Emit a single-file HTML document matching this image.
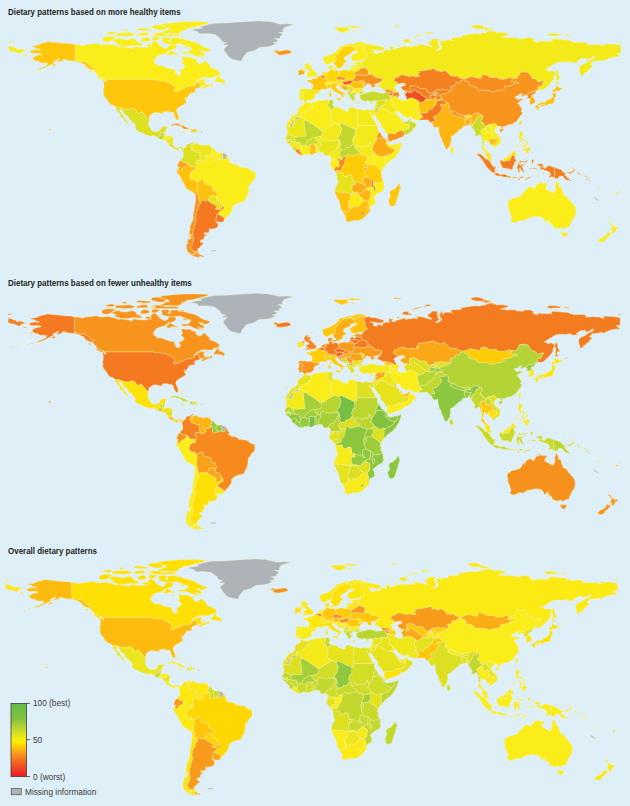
<!DOCTYPE html>
<html lang="en"><head><meta charset="utf-8"><title>Dietary patterns</title>
<style>
html,body{margin:0;padding:0}
body{width:630px;height:806px;background:#dfeff8;overflow:hidden;position:relative;font-family:"Liberation Sans",sans-serif;color:#231f20}
svg{position:absolute;left:0;top:0}
.t{position:absolute;left:8px;font-weight:bold;font-size:9px;line-height:10px;white-space:nowrap;transform-origin:0 100%;transform:scaleX(.885)}
.l{position:absolute;font-size:8.8px;line-height:10px;white-space:nowrap;color:#3a3a3c;transform-origin:0 50%;transform:scaleX(.94)}
g path{stroke:#f6f2b0;stroke-width:3.5;stroke-linejoin:round}
</style></head><body>
<svg width="630" height="806" viewBox="0 0 630 806">
<defs><linearGradient id="lg" x1="0" y1="0" x2="0" y2="1"><stop offset="0" stop-color="#62bb46"/><stop offset=".2" stop-color="#7fc241"/><stop offset=".38" stop-color="#cddb2a"/><stop offset=".52" stop-color="#fff200"/><stop offset=".62" stop-color="#fdb913"/><stop offset=".8" stop-color="#f26522"/><stop offset="1" stop-color="#ed1c24"/></linearGradient></defs>
<g transform="translate(0.0,0.0) scale(.1)">
<path fill="#faed19" d="M752 446l34 2 42 10 38-10 56-7 48-7 49 15 65-7 67 14 43 17 19-7 66 9 34 7 7 10 24-26 71 10 61 0 19-12 25 6-8-34 29-29 29 10 22 27 18 20 40 19 15 2 29-26 1-17 50 2 22 9-2 20-20 20-38 9-20 0 2 5-19 14-5 6-21 12-37 9-36 15-22 29-8 15 5 22 25 16 9 15 24-5 32 7 17 7 12 8 22 5 17 7 46 3 3 31 12 19 26 17 22-24-9-26-12-10 28-7 18-12 10-11-1-12-12-16-21-12 21-18-9-16-5-25 12-4 29 4 17 2 15-4 16 5 20 11 5 6 31 0 0 16 5 20 15 3 14 11 24-11 17-18 10-7 13 15 22 21 19 20-7 12 22 8 43 16 12 5 7 13 12 4 6 5 2 20-12 5-12 7-29 5-20 16-29 1-37-3-26 0-17 2-13 12-23 6-25 24-19 15 14-3 27-22 36-14 25-1 16 8-16 10 5 19 5 14 23 8 28-3 17-19 12 19-20 10-39 10-15 7-21 14-13-4 1-13 29-14-27 0-19 3-12-10 0-24-6-5-17 0-14 12-5 14-19 10-2 5-57 0-26 15-7 9-40 2 5 10-22 8-19 4-19 8-12-7 12-15 5-10-3-14-5-15-17-9 2-3-11-5-8-2-4-3-29-15-32-14-15 5-5 0-21-5-20-2-17-3-27-4-4-10-6 7-473 0-3-3-29-14-12-7-31-7-10-15 2-10-21-9-3-13-21-12 0-9 9-8 0-10-29-12-17-19-12-12-15-8-10-7-11-9-17 6-17 10-5-2-20-17-17-5-17 0zM1051 806l-24-3-20-12-32-14-9-12 19 0 32 12 21 14 12 8zM920 743l-20-17-14-17 22 0 0 16zM2141 820l15-26 17-27 26-15 7 2-21 25 10-2 11 4-6 5 16 5 24 2-6 11 12-3 2 9 5 10-7 15-6 2-12-4 5-13-26 12-10 0 12-9-15-3-19 0zM2052 781l28 3 18 10 0-3-30-2zM2054 835l41 5-15 7-19-7zM2044 580l-17-3-34-7-34-9-34-15-34-13-34 3-34-3 8-16 60 0 12-15 13-15-8-14-34-5-17-12-34-12-17-8-51 6-43-1-22-2-44-8-24-14 5-12-8-27 25-2 43-2 17 14-17 26 25 0-3-26 12-8 54-4 22 2 43 15 42 12 51 12 51 17 26 22 42 19 43 12 12 10-22 15-33 9-17-12-42-10 14 17 34 15 8 29-31-5-34-9 17 17 34 9zM1670 548l25 8 35-13 42 7 14-9-28-5-28-19-26-10-17 5 8 14-25 12zM1738 560l26 12-9-9zM1784 573l15 7-3-10zM1151 441l43 10 26 12 59 0 25-5 26-4 34 0 51 4 17-10-26-7 26-5-51-11-17-20-9-15-34-5-25 8-34 5-51-7-17-8-51 10-17 19 34 7 17 10-26 0zM1024 407l34 13 42-6 26-14 25-26 26-6-51 0-42-5-52 13-8 21zM1415 414l51 1 34-10 0-17-26-14-34 0-25 16zM1525 403l35 2 25-12 25-19-25-3-43-2-17 7-1 14zM1457 456l26 10 34 2 8-12-25-15-34 7zM1160 354l51 5 59 4 60-7 25-10-8-9-51-12-51 4-68 1-17 12zM1372 354l77 0 34-3 0-21-43-5-42 7-26 12zM1058 337l68 7 34-12-34-17-60 14zM1508 347l60 14 76 2 77 0 65-2 11-15-42-4-43 2-59 0-26-14-42-1-68-2 51 15zM1514 354l46 5-4-15-39 2zM1610 335l77-3 93 2 43-12 0-17 42-10 0-12 77-11 68-20 85-19-34-13-102-4-119 2-119 9-77 8-42 9 34 17 51 13 17 17-43 9-8 10-34 10zM1525 279l60 19 59 0 26-22-26-14-50-13-60 3-17 17zM1364 298l68 8 68 0 17-13-51-7-76-5zM1236 313l43-7-9-10-42 2zM1779 376l27 15 46 0-21-13zM1835 475l34 8 2-15-26 0zM1750 730l29 3-15-8z"/>
<path fill="#fec70b" d="M1058 796l473 0 6-7 4 10 27 4 17 3 20 2 21 5 5 0 15-5 32 14 29 15 4 3 8 2 11 5-2 3 17 9 5 15 3 14-5 10-12 15 12 7 19-8 19-4 22-8-5-10 40-2 7-9 26-15 57 0 2-5 19-10 5-14 14-12 17 0 6 5 0 24 12 10 0 7-32 10-20 9-9 15 10 10 2 7-10 4-22 3-17 2-14 5 29-1-32 7-5 14-12 13-5 11-12 19-2-2-5-27-4 12 4 20 5 2 7 27-22 10-19 14-20 10-17 12-16 12-5 20 2 12 12 27 8 24 0 17-5 14-12 0-10-12-7-14-10-19-2-20-15-15-12-2-17 5-15-12-15 0-14 2-26 2 7 17-5 1-12 0-20-3-17-3-26-4-15 4-5 5-26 13-11 14-4 29-29-9-7-18-13-14-19-26-19 0-10 14-24-10-8-19-26-19-28 0 0 9-50 0-63-21 2-3-41 3-3-8-19-14-13-5-24-8-12-19-10-13-2-7-9-14-8-5-14-22-10-19 4-24-6-17 7-28 2-29-2-12-10-26 27 5 10 14 2-17-7-12zM752 446l-43-9-42-1-43-4-59-7-43-3-34-6-34 9-42 9-34 15-26 9-30 0-9 9 31 4 25 17 29 2-1 12-33-5-28 3-45 14 27 17 19 2 41 0 34 1 3 14-20 2-26 6-22 9-20 17 12 17 22 12 25 0 9 15 26 3 33 0 21 2-4 21-20 11-30 14-26 9-24 10-24 5 39-5 26-5 26-9 25-13 34-16 31-15 15-10-9-12 31-15 17-9 17-3-26 29-5 5 31-7 25-7 9-14 17-3 17 7 25 8 43 2 34 5 25 10 26 12 17 4 8 12 26 20 17 19 20 5 22 1 9-8 0-10-29-12-17-19-12-12-15-8-10-7-11-9-17 6-17 10-5-2-20-17-17-5-17 0zM522 657l23 3 17-10-9-12-20 7zM313 720l17-9 16-7-14 2-15 5zM276 730l19-9-12 0zM182 743l23-3-17-2zM130 750l22-3-19-2zM230 551l29 5 20-3-28-7zM305 606l25 5-6-9zM840 645l21 29 22 13 17 5-12-15-22-22-12-12zM497 1306l19-8-5-9-12-3-2 10zM485 1274l12 3-5-5zM460 1265l8 2-5-7zM434 1255l7 2-3-5z"/>
<path fill="#dce021" d="M1158 1076l41-3-2 3 63 21 50 0 0-9 28 0 26 19 8 19 24 10 10-14 19 0 19 26 13 14 7 18 29 9-5 27-2 32 9 24 13 20 9 14 17 7 14 7 23-5 16-2 10-5 10-10 5-21 7-7 29-6 22 0 3 10-12 18-5 26-8-3-14 10-32 1 0 11 10 13-22 5-8 26-29-22-14-5-31 8-25-7-29-10-36-19-28-8-26-19-10-19 5-15-12-24-29-29-29-20 0-17-20-19-27-20-11-20-6-17-26-9-3 9 3 17 24 23 10 19 19 26 15 23 20 28-8 5-27-28-10-8-2-20-22-9-16-8 6-16-12-20-14-9-17-30z"/>
<path fill="#c2d82e" d="M1582 1381l8-26 22-5-10-13 0-11 32-1-1 34 15 3-10 7-7 15-14 10-18-1z"/>
<path fill="#ccdb29" d="M1634 1325l14-10 3 6-3 26-10 12-5 0z"/>
<path fill="#faed19" d="M1617 1394l14-10 13 9 12 0 0 10-12 2z"/>
<path fill="#faed19" d="M1631 1384l7-15 10-7 13-2 26-3 27 3 21 14-7 2-21 1-17 17-15 0-10 14-9-5 0-10-12 0z"/>
<path fill="#e9e51c" d="M1665 1408l10-14 15 0 17-17 21-1 7-2-5 26 0 18-6 17 2 9-17-4-17 0-14-12-20-18z"/>
<path fill="#e3e21d" d="M1692 1440l17 0 17 4 12 15 7 7-5 8 0 17-12-12-19-13-7 0-10-5-2-17z"/>
<path fill="#e3e21d" d="M1740 1491l0-17 5-8 7 7 13 6 17-5 14-8 18 3 19 12 4 14-12 12-9-16-3-10-19 2-12 5 7 14-15 5-14-16z"/>
<path fill="#f7941d" d="M1706 1257l15-14 20-5 24-2 14 0 22 12 37 12 26 12 24 12-2 4-22 3-36 0 10-9-17-5-10-15-25-4-28-6-6-4-22 4-9 5z"/>
<path fill="#fde30a" d="M1818 1320l8-5 16 1 12 7-12 2-12 0z"/>
<path fill="#fec20e" d="M1882 1318l19-3 19-4-9-7 0-6-10-2 10-5 19 3 2-3-2 18 0 14-12-3-18 0z"/>
<path fill="#fecd08" d="M1930 1294l15-3 14 5 14 5 8 19-15-4-16 4-8-2-7 12-5-7 0-14z"/>
<path fill="#adb3b9" d="M2007 1316l15-1 12 5-7 4-20 0z"/>
<path fill="#faed19" d="M1820 1201l11 15-5 8-10-13zM1826 1172l14 5-3 12-12-12zM1808 1177l15-2-10 5zM1896 1272l12-5-7 7zM1859 1228l10 7-5-9z"/>
<path fill="#faed19" d="M2097 1447l15-2 0 12-15 0z"/>
<path fill="#f4ea1a" d="M2100 1352l7 2-4-6zM2110 1377l5 4-3 3zM2103 1366l5 3-3 2zM2112 1393l2 3-4-2zM2134 1405l5 1-3 2z"/>
<path fill="#adb3b9" d="M1908 300l68 15 17 22 77-3 84 12 9 10 43 32 13 26 46 13-34 12 9 12 42-2-42 38 3 18 22 33 17 22 26 24 20 10 48 12 27 5 15-5 8-29 17-19 17-20 9-14 43-12 34-7 50-32 77-5 37-7 53-24-31-10 43-12 0-17-34-10 59-5 0-20 26-12-17-19-26-7 51-5-8-20 26-31 93-24-68-7-77 4-34-10-76-16-102-6-102 5-119 8-102 7-119 3-51 9-51 12-43 13 26 12-68 10z"/>
<path fill="#f7941d" d="M2732 514l34-14 26 14 42-10 38-5 27 5 19 18-22 14-48 10-39 4-46-7 12-10-34-7 34-5z"/>
<path fill="#faed19" d="M2272 1554l8 9 10 34 11 3-9 26 31 8 1 17 12-12 21 5 29 12 8 9-3 10 20-5 32 8 26 0 25 14 23 19 11 5 16 0 7 6 5 31-2 29-24 24-13 19-14 25-12 2-5 27 2 17-7 37-9 29-17 24-3 17-17 17-19 0-25 7-14 7-19 5-18 13-16 17-1 12 1 10-3 17-15 17-19 31-27 20-7 17-12 11-3-11 7-8-24-21-17-10-24-13-10 1 22-22 19-17 27-17 0-13-9-11-8 4 3-9 2-10 0-10-19 0-1-7-2-15-16-10-23 0 0-24-5-9 5-4 3-16 4-14-14-15-2-7 4-10-34 0-6-20 4-9-4-13-10-6-17-5-12-3-6-7-19-1-19-16 2-12-2-18-20 1-24 14-25 4-18 1 0-26-13 11-15 0-17-11 10 0-7-8-10-10-7-16 5-3 0-7 10-5-1-8 3-7 2-7 20-12 14-3 1-3 16 1 8-46 0-8-3-10-7-12 0-6 9-3 3-5-9-2 0-10 33 0 6-5 4 5 3 10 4-2 10 9 13-2 2-5 14-3 7-3 1-7 12-5 0-4-15-2 5-6-7-16-7-5 4 0 12 2 13 3 5-3 12-3 20-6 6-6-2-5 9 0 3 3-2 7 5 3 6 8-6 6-2 14 4 16 12 9 8 0 2-3 5 0 7-4 7-4 8 1 5-2 9 3 2-3-4-3 3-6 6 2 8-2 10 4 7 3 5-5 5 2 2 4 9-1 5-7 7-11 8-17z"/>
<path fill="#adb3b9" d="M2222 1590l7 3 5-5 5 2 2 4 9-1 5-7 7-11 8-17-2-7-18-14-19-7-9 16 2 12 7 10-3 7-2 8z"/>
<path fill="#faed19" d="M2162 1560l3-9 0-4 10-5 3-14 21 2 15-3 17 3-9 16 2 12 7 10-3 7-2 8-4 7-10-4-8 2-6-2-3 6 4 3-2 3-9-3-11-14-2-8-5 0-7-12z"/>
<path fill="#faed19" d="M2132 1486l12 7 10 12 0 8 7 0 11 9 6 6-3 14-10 5 0 4-3 9 8 13 5 0 2 8 11 14-5 2-8-1-7 4-7 4-5 0-2 3-8 0-12-9-4-16 2-14 6-6-6-8-5-3 2-7-3-3-9 0-12-13 5-4-1-9 11-3 4-2-5-7 1-7z"/>
<path fill="#ece61c" d="M1937 1428l-2 6-10-2 12 11-2 13 2 18-12 0 5-22 2-10 24-7-2-7 7-6 5 12 12 1 12 9 0 5 15 1 19-1 8 7 14 1 10-5 0-3 41-2-14 5 5 9 14 0 13 8 2 14 15 3-12 10-1 7 5 7-4 2-11 3 1 9-5 4 12 13 2 5-6 6-20 6-12 3-5 3-13-3-12-2-4 0 7 5 7 16-5 6 15 2 0 4-12 5-1 7-7 3-14 3-2 5-13 2-10-9-5-17-4-6-7-4 9-8 0-3-5-6-2-12-2-11 5-7 4-9-7-3-29 3-12-14-10-3-22 2-7-7-2-3 2-7 0-7-5-3-2-9-8-1 5-9 2-14 5-5 7-5 4-5z"/>
<path fill="#dce021" d="M1867 1632l-7-5-8-5-5 3-14-3-5-7-3 0-17-10-2-5 7-2-2-8 5-5 9-2 13-19-7-5 4-10-4-15 4-4-4-15-6-8 8-7 4-5-4-14 10 2 12-12 7-2 3-20 11-9 10 0 2-3 13 2 14-9 7-4 7-8 6 0 5 5-3 5-11 7-4 5-7 5-5 5-2 14-5 9 8 1 2 9 5 3 0 7-2 7 2 3 7 7 22-2 10 3 12 14 29-3 7 3-4 9-5 7 2 11 2 12 5 6 0 3-9 8 7 4 4 6 5 17-4 2-3-10-4-5-6 5-33 0 0 10 9 2-3 5-9 3 0 6 7 12 3 10 0 8-8 46-9-8-5-2 12-17-14-7-10 0-7-2-8 4-14-2-10-17-7-5-5-8-12-8z"/>
<path fill="#faa817" d="M1784 1687l8-12-3-9-7 9-9-8 2-5-1-15 5-3 3-10 7-12-2-7 10-3 11-7 17 10 3 0 5 7 14 3 5-3 8 5 7 5 4 12-6 12-18 17-21 7-12 15-1 11-10 7-7-7-7-4-7 2-2-6 6-4z"/>
<path fill="#fec20e" d="M1966 1928l11-18-8-14 4-7-2-6 7-7 0-28 3-5-13-28-18 1 0-26-13 11-15 0-17-11 10 0-7-8-10-10-7-16 5-3 0-7 10-5-1-8 3-7 2-7 20-12 14-3 1-3 16 1-9-8-5-2 12-17-14-7-10 0-7-2-8 4-14-2-10-17-7-5-5-8-12-8-5 2 4 12-6 12-18 17-21 7-12 15-1 11-10 7-7-7-7-4-7 2-2-6 6-4-2-7-14 10-5 12 9 17-5 7 11 7 12 11 7 12 7 9 15 34 17 30 14 22-2 6 7 13 14 12 30 19 32 17 2 7 17 8z"/>
<path fill="#fec20e" d="M2081 2003l-20 0-7 14-9-12-23-5-14 15-12 3-6-24-11-18 7-17-9-7-3-12-8-12 11-18-8-14 4-7-2-6 7-7 0-28 3-5-13-28 25-4 24-14 20-1 2 18-2 12 19 16 19 1 6 7 12 3 17 5 10 6 4 13-4 9 6 20 34 0-4 10 2 7 14 15-4 14-3 16-5 4 0-5-16-8-15-2-31 5-8 16 0 9-7 20z"/>
<path fill="#e9e51c" d="M2160 1972l5 9 0 24 23 0 16 10 2 15 1 7 19 0 0 10-2 10-3 9-4 15-15 14-14 1-18-1-17-5 17-26-4-7-17-6-20-14-14-2-32-28 7-20 0-9 8-16 31-5 15 2 16 8z"/>
<path fill="#f47920" d="M2170 2142l10-1 24 13 17 10 24 21-7 8 3 11-7 10-18 9-14-3-8 2-16-8-12 2-10-11 2-10 3-5 0-17 4-17z"/>
<path fill="#f47920" d="M2170 2142l-5 14-4 17 0 17-3 5-2 10-2 9 23 15-4 12 12 7-17 30-25 9-34 3-19-1 3 10-3 13 3 9-10 5-19 3-15-6-7 5 2 17 12 5 8-7 6 10-16 5-13 10-2 18-5 8-16 0-13 10-5 12 17 12 17 3-7 16-20 10-11 20-15 7-7 7 5 19 12 8-8 0-15-3-41-2-7-10 0-12-12 0-5-5-2-19 14-7 5-12-2-8 9-14 5-22-2-11 9-2-2-7-9-4 5-6-6-7-4-20 7-3-3-21 3-17 5-16 10-5-5-17 0-15 12-12 0-14 10-17 0-15-5-3-7-29 11-19-2-15 5-15 12-18 12-10-5-6 3-6 0-28 19-9 5-17-2-5 14-15 23 5 9 12 7-14 20 0 2 4 32 28 14 2 20 14 17 6 4 7-17 26 17 5 18 1 14-1 15-14 4-15 8-4 9 11 0 13-27 17-19 17zM1983 2523l7 9 8 12 22 11 22 4-7 8-15 1-9-6-11 0-17 0z"/>
<path fill="#f7941d" d="M1966 1928l-14 12 4 26 1 27-5 37-5 36-5 32-7 22 0 21-5 13 5 26-8 25-12 27-10 28-7 1 2 19 5 17-9 10-5 33 5 27 12-27 5 10-12-5 12 15-8 26-4 8-17-15-5 29-15 13 15 5 10 0-18 14-7 17 1 29 9 10-5 10 7 12 20 9 22 15 22 7 2-5-7 1 10-17 26-6 20-4-8 0-15-3-41-2-7-10 0-12-12 0-5-5-2-19 14-7 5-12-2-8 9-14 5-22-2-11 9-2-2-7-9-4 5-6-6-7-4-20 7-3-3-21 3-17 5-16 10-5-5-17 0-15 12-12 0-14 10-17 0-15-5-3-7-29 11-19-2-15 5-15 12-18 12-10-5-6 3-6 0-28 19-9 5-17-2-5-12 3-6-24-11-18 7-17-9-7-3-12zM1983 2523l0 39 17 0 5 7-14 5-18-2-13-5-18-2-22-9-17-10-24-19 15 3 24 12 22 7 9-9 5-12 17-6zM1886 2341l12 0 2 26-14-2z"/>
<path fill="#adb3b9" d="M2109 2510l20-10 14 4 11-6 13 7-5 6-23 5-7-6-15 8z"/>
<path fill="#faed19" d="M3234 577l-2 15 7 19 5 17 19 13 20 2 16-10 23-10 7-9 7 12 10 2 4-16 10-10-2-13 10-4-12-5-1-30 20-11 12-1 0-16 10-17 14-3 17-22 15-9 12-7 32 2 5-10 7-2 17-3 12 10 19 2 25 0 16-7 6-14 29-5 19 7-2 10 22-10 12 2-13-9 17-3-28-7-22-7-40 0-23 2-25 12-29 2-36 6-22 9-29 7-25 10-21 5 23 5-31 24-10 12-16 12-16 7-16 15-20 3-24 9-19 8zM3333 278l45 25 9 7 43 17 25-15 59-11-42-10 26-12-35-8-51 3-34-2zM3460 266l63 12 77-2 8-10-68-5zM3514 315l43-3-25-11z"/>
<path fill="#ffd206" d="M3338 628l3 10 12 14 15 18 0 16 22 1 9-13 22-2 9-14 5-15 3-12 32-15-5-10-22-9-2-17 11-17 34-15 28-14-6-13 20-9 24-2 8 0-8-11 3-7-7-9-1-8-38-17-17-2-5 10-32-2-12 7-15 9-17 22-14 3-10 17 0 16-12 1-20 11 1 30 12 5-10 4 2 13-10 10-4 16zM3457 660l12-7 5-8-12 1zM3428 674l12-19-10 10z"/>
<path fill="#faed19" d="M3499 454l17-3 12 10 19 2 25 0 16-7 6-14 29-5 19 7-2 10-8 4 7 12 20 8-15 14 17 20-7 14 15 12-10 8 25 14-3 6-39 23-20 10-31 3-26 7-27 3 0-8-25-5 3-17-8-17 6-10 18-11 35-17 14-5-2-6-19-6-8 0 0-11 3-7-7-9-1-8-38-17-17-2z"/>
<path fill="#faed19" d="M3287 684l0-21 8-5 17-1 17-9-3 19 8 3-12 9-8 12-4 6-15-1 0-9zM3334 680l26-5 5 9-12 12-17-7zM3316 686l15 0-2 6-12-1z"/>
<path fill="#faed19" d="M3052 779l24-5 14 2 8-9 19 2 15-3 22 0 12-4 7-5-14-3 7-6 12-15-20-5-6-5-5-5-5-15-12-2-8-15-9-7-17-2 7-7 10-10 5-10-25-2-14 2 17-17-32 0-10 13-9 12 9 16-2 15 15-5-3 10 3 3 21-1 10 15-2 10-22 2-5 8 10 9-20 7 19 7 20 1-10 4-12 0-15 15zM3054 699l-10-8-24 1 3 9-12 2 9 6 10 0 12 0 13-5zM3022 652l22-14-14 8zM3122 599l10 2-5 10zM3091 624l14-1-7 6z"/>
<path fill="#fbae14" d="M3042 709l-12 0-10 0-9-6 12-2-3-9-12-1-5 10-24 7 2 13 10 5-7 16-8 6 10 6 24-6 22-5 12-3 3-14-2-13z"/>
<path fill="#fec70b" d="M3118 891l11-18 1-17-1-9-17-17-11-8-27-7-5-9 24-7 29 4-5-19 12 0 3 5 20-1 19-11 5-13 16-4 5 5 6 0 17 15 11-1 15 9 3 0 5 0 9 5 24 3-9 12-2 12-5 2-8 0-12 13 1 5 8 0 5 7 0 5 5 7-7 5 5 13 9 2-2 7-15 10-33-5-25 5-2 10-20 4-19-9-7 4-31-7zM3297 905l12-7 3 14-7 13-6-3z"/>
<path fill="#f4ea1a" d="M2996 917l0-12-7-7 24-13 21 3 23 0 18 3 15-1 27 1 6 7 31 7 7-4 19 9 20-4 1 11-16 12-22 3-2 5-10 10-7 14 7 10-11 7-3 12-12 3-12 12-22 0-17 0-10 7-7 6-8-1-5-7-6-8-16-4 0-5 5-7 3-5-7-5 5-10-6-10 6-2 4-10 1-14 7-5-5-8-9 0-3 1-10 0-5-8zM3188 956l14-5 5 5-7 5zM2862 1148l13-3-8 8zM2880 1153l7-3 0 6zM2904 1151l9-10 0 9zM2914 1136l7-3-1 5z"/>
<path fill="#faed19" d="M2996 917l12-7 5 8 10 0 3-1 9 0 5 8-7 5-1 14-4 10-6 2 6 10-5 10 7 5-3 5-5 7 0 5-7 5-17-1 2-13-1-11-8-2-3-5 1-12 7-7 3-17z"/>
<path fill="#ffd803" d="M3310 697l7-3 18 10-1 7 18-3 10-5 18 6 9 5 5 11-5 3 5 7 5 8-2 6 7 11-7 2-5-2-3 4-14 3-6 4-13 3 4 6 2 8 9 3 9 7-7 8-5 2 2 12-7-2-8 0-12 4-15-2-2 5-9-5-5 2-19-6-3 4-14 0 2-12 9-12-24-3-9-5 0-7-2-4 2-12-3-17 10 0 4-6 5-16-4-6 4-4 13-1 4 5 12-9-4-7-2-9z"/>
<path fill="#fce70f" d="M3252 720l14 0 4 6-5 16-4 6-10 0 3 17-10-4-11-7-15 3-13-1 9-4 15-26z"/>
<path fill="#f68a1e" d="M3205 756l13 1 15-3 11 7 10 4-2 12-4 0-2 11-15-9-9 2-12-9-8-7-7 0-3-5z"/>
<path fill="#f68a1e" d="M3252 777l2 4 0 7-5 0-3 0 2-11z"/>
<path fill="#faed19" d="M3312 822l0 3-2 3 7 4 9 0 0 7-9 3-12-2-4 7-8 0-3-3-8 6-9 0-8-3-5-7-8 0-1-5 12-13 8 0 5-2 14 0 3-4z"/>
<path fill="#fde30a" d="M3438 811l-2 7-10 0 4 4-6 11-3 2-15 1-9 4-13-1-24-6-4-5-17 4-2 2-11-2-9 0-7-4 2-3 0-3 5-2 9 5 2-5 15 2 12-4 8 0 7 2-2-12 5-2 7-8 12 6 10-7 6-2 14 6 8-2 7 4z"/>
<path fill="#fecd08" d="M3277 879l-9-2-5-13 7-5-5-7 0-5 8 3 9 0 8-6 3 3 8 0 4-7 12 2 9-3 0-7 11 2 2-2 17-4 4 5 24 6-2 8 4 7-14-2-14 5 2 9-3 5 6 8 15 9 9 13 19 15 13 0 5 4-5 4 16 5 11 5 16 9 1 3-3 6-10-8-14-2-8 10 13 7-2 9-8 1-8 14-7 2 0-5 3-10 4-3-7-9-5-10-7-2-5-7-10-4-9-6-12-1-13-8-16-12-11-8-6-17-8-3-14-6-8 4-10 6zM3412 980l-6 13 3 5-3 9-14-7-8-2-24-8 3-9 19 1 24-1zM3288 933l17-4 11 12-2 22-9 0-6 5-7-5 0-21z"/>
<path fill="#ffd803" d="M3389 714l12-4 27-7 20-6 17 2 2 5 16 0 21 2 31 0 13 2 0 5 6 13-11 10 5 9 0 7 9 15-2 5-8 2-15 14 5 7-4-1-17-6-12 3-8-2-10 4-9-7-7 2-1 0-7 3-4 0-1 4-8-17-2-6-11-1-3 5-9-9 1 0-13-2-8-5-7-11 2-6-5-8-5-7 5-3z"/>
<path fill="#f7941d" d="M3437 803l-7-4-8 2-14-6-6 2-10 7-12-6-9-7-9-3-2-8-4-6 13-3 6-4 14-3 3-4 5 2 7-2 8 5 13 2-1 0 9 9 3-5 11 1 2 6 13 13-4 0-1 4-4 3-7 1-6 0z"/>
<path fill="#fecd08" d="M3469 788l1 0 7-2 9 7 10-4 8 2 12-3 17 6-5 5-3 7-4 2-18-5-11 5-6 2-3-2-8 3-6 0-2 4-14 2-7-2-8-4-2-7 1-1 3-4 6 0 7-1 4-3 1-4 4 0z"/>
<path fill="#f15822" d="M3424 833l6-11-4-4 10 0 2-7 8 4 7 2 14-2 2-4 6 0 8-3 3 2 6-2 11-5 18 5 4-2 8 4 2 5-10 3-9 12-10 12-14 3-10-1-13 5-6 1-15-2-12-8-5-1-3-6z"/>
<path fill="#fce70f" d="M3384 839l13 1 9-4 15-1 3-2 4 0 3 6-13 5-2 6-7 2 0 4-7 0-5-2-3 2-12 0 4-2-4-7z"/>
<path fill="#fec20e" d="M3469 849l4 7 6 5-7 5-8-3-11 0-15-2-8 0-4 3-6-3-3 6 7 8 6 6 6 5 7 4 7 7 15 7-2 2-17-5-10-6-15-5-14-12 4-2-9-7 0-7-10-1-6 6-4-5 0-6 12 0 3-2 5 2 7 0 0-4 7-2 2-6 13-5 5 1 12 8 15 2z"/>
<path fill="#faa817" d="M3472 866l7 0-5 8 8 6-2 8-5 2-2 1-6 4-2 9-15-7-7-7-7-4-6-5-6-6-7-8 3-6 6 3 4-3 8 0 15 2 11 0z"/>
<path fill="#e3e21d" d="M3504 857l10 4 2 6 9 6 7-4 3 2-3 3 2 4-4 3 2 7 8 7-7 5-3 5 2 1-2 4-9 0-5 1-13 2-5 2-4-5-3-5 3-5-6-4-6-1-7-5 5-2 2-8-8-6 5-8-7 0 7-5-6-5-4-7 13-5 10 1z"/>
<path fill="#faed19" d="M3475 890l7 5 6 1 6 4-3 5-7-2-7 9 2 5-9-7-7-4 2-2 2-9 6-4z"/>
<path fill="#ccdb29" d="M3479 917l-2-5 7-9 7 2 3 5 4 5 1 2-1 7 1 6 7 5 0 4-5 3-2 5-7 14-3-7-1-3-9-6-2-8 3-17z"/>
<path fill="#faed19" d="M3498 915l5-2 13-2 5-1 9 0 8 5 1 12-3 0-3 3-9-1-6 5-12 1-7-5-1-6 1-7z"/>
<path fill="#cfdc28" d="M3492 961l7-14 2-5 5-3 0-4 12-1 6-5 9 1 3-3 3 0 13 0 13-5 12 7 16-11 8 4-5 12-4 1-10 0-10-1-20 3 12 10-9 3-10 0-8-9-4 3 4 11 9 8-7 4 9 7 10 6 0 9-16-4 5 8-10 2 6 15-11 0-14-7-7-13-3-12-7-9zM3552 1022l8 5 14 0 14 1 8 1-2 5-25 2 0-4-21-3z"/>
<path fill="#faed19" d="M3534 878l5 6 6-1 14 3 25 0 8-3 19-5 13 6 11 2-9 7-6 12 5 10-15-2-17 5-16 11-12-7-13 5-13 0-1-12-8-5 2-4-2-1 3-5 7-5-8-7-2-7z"/>
<path fill="#fec20e" d="M3535 815l7-4 12 2 18 5 5-3 12-2 5-3 7 0 5 1 5 5 6 7 10 10 1 7-2 9 2 7 9 3 8-3 7 3 0 4-8 4-5-1-4 20-11-2-13-6-19 5-8 3-25 0-14-3-6 1-5-6-2-4 3-3-3-2-7 4-9-6-2-6-10-4-12-12 14-3 10-12 9-12z"/>
<path fill="#fec20e" d="M3601 810l15-6 13 6 7 1 8 5-1 6 6 2 3 7 5 4-1 4 3 1-4 1-10-1-2-1-3 1 0 3-4 5-3 6-5 2-2-7 2-9-1-7-10-10-6-7-5-5z"/>
<path fill="#f7911d" d="M3690 743l6 1 4-4 5 2 18-2 11 8-5 4 1 6 14 1 7 6-1 4 21 7 14-4 10 9 10 0 25 5 0 5-6 8 3 11-3 5-15 1-10 5-1 7-13 2-11 5-16 1-15 6 1 11 8 4 18-1-4 6-18 4-23 8-10-3 3-8-16-4 1-3 17-6-5-5-27-3 0-7-16 2-6 9-14 13-7-3-8 3-9-3 5-2 3-6 4-5 0-3 3-1 2 1 10 1 4-1-3-1 1-4-5-4-3-7-6-2 1-6-8-5-7-1-13-6-15 6-7 0-5 3-12 2-5 3-18-5-12-2-7 4-2-5-8-4 3-7 5-5 4 1-5-7 15-14 8-2 2-5-9-15 9 0 10-5 12 0 17 1 20 4 12 0 7 3 7-3 4 3 16 0 7-7 5-4 7-1z"/>
<path fill="#f89b1b" d="M3548 713l17 0 17-7 6-9 13-6-1-7 10-4 18-6 17 5 4 3 8-2 17 5 1 7-3 5 11 11 7 4-2 2 12 4 5 4-7 4-14-1-3 2 4 6 5 10-9 0-7 1-5 4-7 7-16 0-4-3-7 3-7-3-12 0-20-4-17-1-12 0-10 5-9 0 0-7-5-9 11-10z"/>
<path fill="#faed19" d="M3535 706l-1-5 2-5-8-2-17-3-4-15 19-4 29 0 17-2 2 4 8 1 18 9 1 7-13 6-6 9-17 7-17 0 0-5z"/>
<path fill="#faed19" d="M3507 676l1-13 8-10 16-6 13 13 14-1 3-13 15-2 7 2 16 6 13 0 9 5 1 7 5 10-18 6-10 4-18-9-8-1-2-4-17 2-29 0z"/>
<path fill="#faed19" d="M3545 633l13-7 9-8 22-2 18 2 18 0 2 3-12 10 5 15-7 6-13 0-16-6-7-2-15 2 2-10-6 2-11 2zM3520 638l12-7 13 3-12 7z"/>
<path fill="#faed19" d="M3698 1032l10-5 14 0 15-5-10 11-2 1-15 7-8-2z"/>
<path fill="#faed19" d="M3392 1017l5 2-2 1z"/>
<path fill="#faed19" d="M3061 1021l10 7 16-1 18 4 7 0 7 11 1 10 5 18 5 4-3 7-23 2-7 7-10 1-1 13-20 6-6 9-14 5-17 2-27 13 0 20-3 0 1 9-11 0-6 4-7 0-6-2-15 2-5 13-6 1-8 22-23 18-6 24-7 7-2 7-38 1 1-8 6-5 6-9-2-5 6-12 10-11 5-3 5-10 0-9 7-10 11-7 11-17 8-7 16-2 14-11 8-5 14-14-4-21 7-15 2-9 11-11 17-8 13-7 11-18 5-10z"/>
<path fill="#faed19" d="M3002 1159l0 1-1 3 0 26-55-1 0 44-16 1-4 9 3 24-66 0-4 6 1-7 38-1 2-7 7-7 6-24 23-18 8-22 6-1 5-13 15-2 6 2 7 0 6-4 11 0-1-9z"/>
<path fill="#faed19" d="M3353 1230l-58 32-49 34-24 7-19 2 0-11-8-3-11-4-4-8-57-37-58-37-64-42 1-3 0-1 0-20 27-13 17-2 14-5 6-9 20-6 1-13 10-1 7-7 23-2 3-7-5-4-5-18-1-10-7-11 16-9 19-3 11-7 16-5 29-3 28-2 8 3 16-7 19 0 7 4 11-1-3 9 2 16-4 14-10 9 1 13 14 10 0 4 11 7 7 31 6 15 1 8-3 14 1 7-2 10 1 10-7 7 10 13 1 7 6 10 8-4 14 8z"/>
<path fill="#c2d82e" d="M3310 1114l-7-31-11-7 0-4-14-10-1-13 10-9 4-14-2-16 3-9 19-7 12 2-1 9 15-7 1 4-9 8 0 8 6 4-2 15-11 8 3 10 9 0 4 8 6 3-1 13-8 5-5 5-12 7 2 7-2 7z"/>
<path fill="#f7ec1a" d="M3401 1240l-12 7-9-10-27-7-7-11-14-8-8 4-6-10-1-7-10-13 7-7-1-10 2-10-1-7 3-14-1-8-6-15 8-4 2-7-2-7 12-7 5-5 8-5 1-13 20 6 7-2 15 3 22 7 8 16 15 3 24 7 19 8 8-4 8-8-4-13 5-8 12-8 12-2 23 3 6 8 6 0 6 3 17 2 4 5-6 8 2 8-4 10 5 14 0 60 0 63 0 34-20 0 0 7-68-32-67-33z"/>
<path fill="#f4ea1a" d="M3776 1255l-68 0-66 0-68 0 0-63 0-60-5-14 4-10-2-8 6-8 23 0 16 5 17 4 7 3 14-5 7-5 15-2 12 3 4 8 4-5 14 4 13 1 9-5 11 30-5 6-4 13-4 9-4 3-6-5-8-8-12-24-2 1 7 18 11 17 13 27 6 9 6 9 15 19-4 3 1 11 20 16z"/>
<path fill="#ece61c" d="M2859 1272l4-6 66 0-3-24 4-9 16-1 0-44 55 1 0-26 64 42-26 0 9 73 8 73 3 3-4 12-68 0-3 4-7-2-9 4-12-5-5 0-3 10-6 3-11-11-10-13-12-4-8-5-9 0-9 4-8-2-6 6-1-9 4-9 2-16-1-17-2-8 1-9-4-8z"/>
<path fill="#c2d82e" d="M2942 1380l6-3 3-10 5 0 12 5 9-4 7 2 3-4 68 0 4-12-3-3-8-73-9-73 26 0 58 37 57 37 4 8 11 4 8 3 0 11 19-2 0 40-10 11-1 10-15 3-23 2-7 6-11 0-11 0-4-3-9 3-16 6-3 6-13 7-3 5-7 3-8-2-5 4-2 12-14 14 1 6-5 7 1 10-7 2-4 2-3-7-4 2-3 0-3 5-14-1-4-2-3 1-5-4 1-5-2-2-4 1 1-5 4-5-7-7-2-5-4-3-4-1-4 3-5 2-5 4-7-2-5-4-3-1-4 3-3 0-1-6 1-6-1-6-7-5-3-10z"/>
<path fill="#dce021" d="M2865 1398l-7-13-9-6 8-4 8-12 4-8 6-6 8 2 9-4 9 0 8 5 12 4 10 13 11 11 1 11 3 10 7 5 1 6-1 6-2 0-9-1-2 2-4 0-12-4-8 0-31-1-5 2-6 0-9 3-2-14 15 1 4-3 3 0 7-4 7 4 7 0 8-4-4-4-5 2-6 0-6-4-6 0-4 4z"/>
<path fill="#dce021" d="M2863 1405l2-7 18-1 4-4 6 0 6 4 6 0 5-2 4 4-8 4-7 0-7-4-7 4-3 0-4 3z"/>
<path fill="#ccdb29" d="M2892 1441l-9-7-8-1-3-5 0-2-5-4-2-3 9-3 6 0 5-2 31 1 0 6-2 2 1 5-2 2-4 0-4 3-6 0z"/>
<path fill="#f4ea1a" d="M3006 1498l-5 0-4 7-5 0-3-4 1-7-7-10-4 2-4 0-5 1 1-6-3-5 0-5-3-7-5-6-14 0-4 3-4 1-3 3-2 5-9 8-8-10-6-7-5-2-4-4-2-7-2-4-5-3 7-8 6 0 4-3 4 0 2-2-1-5 2-2 0-6 8 0 12 4 4 0 2-2 9 1 2 0 1 6 3 0 4-3 3 1 5 4 7 2 5-4 5-2 4-3 4 1 4 3 2 5 7 7-4 5-1 5 4-1 2 2-1 5 5 4-3 2-1 6 4 7 4 13-6 2-2 3 1 3-1 7z"/>
<path fill="#dce021" d="M2955 1514l-5-2-12-6-9-10-3-6-2-12 9-8 2-5 3-3 4-1 4-3 14 0 5 6 3 7 0 5 3 5-1 6 5-1-8 8-8 9 0 5z"/>
<path fill="#f68a1e" d="M3018 1555l-4 0-18-8-15-13-15-9-11-11 4-6 0-5 8-9 8-8 4 0 4-2 7 10-1 7 3 4 5 0 4-7 5 0-1 5 1 9-3 7 5 5 5 1 7 7 1 7-2 2z"/>
<path fill="#faed19" d="M3100 1544l-7 0-12-3-11 0-20 3-12 5-17 6-3 0 1-14 2-2-1-7-7-7-5-1-5-5 3-7-1-9 1-5 2 0 1-7-1-3 2-3 6-2-4-13-4-7 1-6 3-2 3-1 4 2 14 1 3-5 3 0 4-2 3 7 4-2 7-2 8 3 3 6 7 4 6-5 8 0 12 4 4 24-7 15-4 19 7 14z"/>
<path fill="#c8da2b" d="M3101 1465l-12-4-8 0-6 5-7-4-3-6-8-3-1-10 5-7-1-6 14-14 2-12 5-4 8 2 7-3 3-5 13-7 3-6 16-6 9-3 4 3 11 0-1 9 2 7 10 11 0 9 20 3 0 12-4 5-8 2-4 7-6 2-15 0-7-2-6 3-7-1-30 1 0 9z"/>
<path fill="#fec20e" d="M3167 1528l-27 10-9 6-15 5-16-5 1-7-7-14 4-19 7-15-4-24-2-13 0-9 30-1 7 1 6-3 7 2-1 5 7 9 0 12 2 13 4 7-4 15 2 9 4 10z"/>
<path fill="#faed19" d="M3181 1525l-14 3-4-6-4-10-2-9 4-15-4-7-2-13 0-12-7-9 1-5 15 0-2 9 5 5 6 6 1 8 3 4 0 39z"/>
<path fill="#ece61c" d="M3195 1523l-14 2-4-12 0-39-3-4-1-8-6-6-5-5 2-9 6-2 4-7 8-2 4-5 5-5 6 0 13 10 0 5 4 11-4 6 2 5-8 11-6 5-3 10 1 11z"/>
<path fill="#f4ea1a" d="M3401 1240l5 27 6 4 0 6 7 5-3 8-7 34-1 22-22 16-7 23 7 6 0 11 11 0-2 8-4 1-1 6-3 0-12-19-4 0-13 9-13-5-9-1-5 3-10-1-10 8-9 0-20-9-8 4-9 0-6-6-18-7-18 2-4 4-3 10-4 7-2 15-13-10-6 0-5 5 0-12-20-3 0-9-10-11-2-7 1-9 11 0 7-6 23-2 15-3 1-10 10-11 0-40 24-7 49-34 58-32 27 7 9 10z"/>
<path fill="#e9e51c" d="M3195 1523l1-28-1-11 3-10 6-5 8-11-2-5 4-6-4-11 0-5 2-15 4-7 3-10 4-4 18-2 18 7 6 6 9 0 8-4 20 9 9 0 10-8 10 1 5-3 9 1 13 5 13-9 4 0 12 19 3 0 7 6-2 4-1 5-14 13-5 11-2 9-4 4-3 12-9 7-3 8-4 7-1 7-12 6-9-7-7 0-10 10-5 1-8 16-5 12-17 6-7-1-6 4-14 0-9-11-5-12-12-12-13 1z"/>
<path fill="#c2d82e" d="M3395 1410l2-8-11 0 0-11-7-6 7-23 22-16 1-22 7-34 3-8-7-5 0-6-6-4-5-27 18-9 67 33 68 32 1 68-15-2-7 13-5 10 4 4-6 6 2 7-4 7-2 6 6-1 4 7 0 9 6 6 0 4-11 3-9 6-12 19-16 8-16-1-5 1 1 6-8 6-8 7-21 6-4-3-3-1-3 5-14 1 2-5-5-11-2-8-8-2-10-10 4-8 8 1 4-1 10 0-9-15 0-12-1-11z"/>
<path fill="#f4ea1a" d="M3371 1590l-2 0-10 2-10-3-8 2-28-1 3-13-7-11-8-3-3-8-5-3 0-4 5-12 8-16 5-1 10-10 7 0 9 7 12-6 1-7 4-7 3-8 9-7 3-12 4-4 2-9 5-11 14-13 1-5 2-4-7-6 1-6 4-1 7 11 1 11 0 12 9 15-10 0-4 1-8-1-4 8 10 10 8 2 2 8 5 11-2 5-9 17-4 3-1 13 2 7-2 6 8 8 2 7 6 8 8 6 0 7 2 5-1 10-13-4-14-5z"/>
<path fill="#c2d82e" d="M3409 1503l14-1 3-5 3 1 4 3 21-6 8-7 8-6-1-6 5-1 16 1 16-8 12-19 9-6 11-3 2 7 9 10 1 7-3 7 1 6 6 5 13 7 9 7 0 6 12 8 7 8 4 10 13 7 2 5-5 2-11-1-13-1-6 1-3 4-5 1-7-4-19 9-8-2-2 1-5 10-13-3-12-1-11-7-14-6-9 6-7 9-1 12-11-2-12-2-10 9-9 15-2-5 0-7-8-6-6-8-2-7-8-8 2-6-2-7 1-13 4-3z"/>
<path fill="#faed19" d="M3313 1590l28 1 0 20-25 0-6 1-3-3zM3293 1570l7-4-3 7z"/>
<path fill="#faed19" d="M3338 1697l-18-18-11-14-10-17 0-6 4-5 4-13 3-12 6-1 25 0 0-20 8-2 10 3 10-2 2 0-1 8 5 9 13-2 4 4-8 19 8 10 2 14-2 11-5 8-15-1-9-8-1 8-12 2-6 4 7 11z"/>
<path fill="#f68a1e" d="M3370 1710l-6-6-6 3-7 8-13-18 13-10-7-11 6-4 12-2 1-8 9 8 15 1 5-8 2-11-2-14-8-10 8-19-4-4-13 2-5-9 1-8 22 1 14 5 13 4 1-10 9-15 10-9 12 2 11 2-1 10-5 9-4 10-2 15 1 10-3 6 0 6-2 6-11 8-8 9-8 16 1 14-4 6-10 8-10 10-6-3-2-4-9 0-6 6z"/>
<path fill="#fecd08" d="M3673 1569l-1 20 7 3-6 6-6 4-6 9-4 8-1 14-4 6 0 13-5 5-1 10-2 1-2 9 5 8 1 21 3 15-2 9 4 10 9 9 10 22-7-2-23 3-5 2-4 11 3 7-3 20-2 17 5 3 12 7 5-3 1 18-13 0-7-9-6-7-13-3-4-9-11 6-13-3-6-7-11-2-8 0-1-5-6 0-7-1-11 2-7 0-4 1 1-20-6-6-1-11 2-10-3-6-1-11-20 0 1-6-8 0-1 3-11 1-4 10-3 4-9-3-6 3-11 1-6-9-4-5-5-10-4-13-51 0-6 2-4-1-8 3-2-6 4-1 1-8 3-4 6-4 4 2 6-6 9 0 2 4 6 3 10-10 10-8 4-6-1-14 8-16 8-9 11-8 2-6 0-6 3-6-1-10 2-15 4-10 5-9 1-10 1-12 7-9 9-6 14 6 11 7 12 1 13 3 5-10 2-1 8 2 19-9 7 4 5-1 3-4 6-1 13 1 11 1 5-2 11 14 7 2 5-3 8 1 9-3 4 7z"/>
<path fill="#e6e31c" d="M3427 1729l4 13 5 10 4 5 6 9 11-1 6-3 9 3 3-4 4-10 11-1 1-3 8 0-1 6 20 0 1 11 3 6-2 10 1 11 6 6-1 20 4-1 7 0 11-2 7 1 2 5-2 8 3 8-2 7 1 5-35 0-1 54 12 14 11 11-32 7-41-3-12-8-68 1-3 1-10-8-11 0-10 3-9 3-1-11 2-15 6-15 1-7 6-16 4-7 9-11 6-7 2-13-1-10-5-6-5-10-4-10 1-4 5-6-5-17-4-11-8-11 1-3 8-3 4 1 6-2zM3360 1726l-4 1-5-12 7-8 6-3 6 6-6 4-3 4z"/>
<path fill="#f4ea1a" d="M3726 1468l-2 0 0-9-2-6-8-6-2-12 2-13-8-1-1 4-11 1 4 4 2 11-10 9-8 12-9 2-14-10-6 4-2 5-9 3-1 3-17 0-2-3-12-1-6 3-5-1-9-10-3-5-12 2-4 8-5 15-6 4-5 1-1 0-6-5-1-6 3-7-1-7-9-10-2-7 0-4-6-6 0-9-4-7-6 1 2-6 4-7-2-7 6-6-4-4 5-10 7-13 15 2-1-68 0-7 20 0 0-34 68 0 66 0 68 0 5 17-4 3 3 17 6 21 7 4 9 6-9 10-12 3-6 5-1 11-8 25 2 7-2 14-7 17-11 9-7 13-2 7-8 4-5 18z"/>
<path fill="#f4ea1a" d="M3673 1569l-15-11-4-7-9 3-8-1-5 3-7-2-11-14-2-5-13-7-4-10-7-8-12-8 0-6-9-7-12-7 5-1 6-4 5-15 4-8 12-2 3 5 9 10 5 1 6-3 12 1 2 3 17 0 1-3 9-3 2-5 6-4 14 10 9-2 8-12 10-9-2-11-4-4 11-1 1-4 8 1-2 13 2 12 8 6 2 6 0 9 2 0 1 13-3 6-9 0-6 10 11 1 8 8 3 7 8 4 10 18-11 12-11 10-10 8-12 0-14 3-11-3z"/>
<path fill="#f7941d" d="M3869 1416l-6-6-7-10-7-5-5-6-14-7-12 0-4-4-10 4-11-7-5 12-20-3-2-7 8-25 1-11 6-5 12-3 9-10 10 20 5 15 9 9 23 16 9 9 10 10 5 6 8 5-5 4z"/>
<path fill="#ffdd00" d="M3881 1413l4 5 0 8-10 3 8 5-7 9-4-3-4 1-9 0 0-5-2-5 6-8 6-7 7 1z"/>
<path fill="#fbae14" d="M3793 1375l11 7 10-4 4 4 12 0 14 7 5 6 7 5 7 10 6 6-6 7-6 8 2 5 0 5 9 0 4-1 4 3-3 6 6 10 6 8 7 6 55 20 14 0-48 51-22 1-15 12-11 0-4 5-12 0-7-5-16 7-4 7-12-1-4-3-4 1-5 0-21-15-12 0-6-5 0-10-9-3-10-18-8-4-3-7-8-8-11-1 6-10 9 0 3-6-1-15 5-18 8-4 2-7 7-13 11-9 7-17 2-14 20 3z"/>
<path fill="#faed19" d="M3994 1432l9-2 8-5 7 0 0 4-1 10 0 9-4 6-5 19-8 19-10 21-15 25-14 19-20 23-17 14-26 17-16 13-18 21-4 9-4 4-10-14 0-62 15-20 4-5 11 0 15-12 22-1 48-51 12-14 8-11 0-8 0-18 0-7-10 1-14 4-15 5-18 2-17 5-8-1-8-7-3-7-5-3-7 9-3 6 6 10 6 8 7 6 55 20 14 0 12-14 8-11 0-33z"/>
<path fill="#faed19" d="M3846 1644l10 14-12 6-4 8-7 1-2 12-5 7-4 11-7 6-24-17-1-10-62-35-3-2 0-18 5-7 8-11 7-12-8-20-2-9-8-11 11-10 11-12 9 3 0 10 6 5 12 0 21 15 5 0 4-1 4 3 12 1 4-7 16-7 7 5 12 0-15 20z"/>
<path fill="#faed19" d="M3691 1647l-19-1-6 2-10 5-4-1 0-13 4-6 1-14 4-8 6-9 6-4 6-6-7-3 1-20 7-4 11 3 14-3 12 0 10-8 8 11 2 9 8 20-7 12-8 11-5 7 0 18z"/>
<path fill="#f9a119" d="M3666 1648l7 10-1 10-5 2-9-1-5 10-11-2 2-9 2-1 1-10 5-5 4 1z"/>
<path fill="#f9a119" d="M3667 1670l1 7 4 4 0 5-4 4-7 9-6 6-7 1-1-21-5-8 11 2 5-10z"/>
<path fill="#fecd08" d="M3725 1645l3 2 62 35 1 10 24 17-7 20 1 10 10 6 1 5-5 10 1 5-1 8 6 11 7 17 6 3-13 10-19 7-10 0-6 5-12 0-4 2-21-5-12 2-5-23-6-8-3-5-17-3-10-5-10-3-7-3-7-4-10-22-9-9-4-10 2-9-3-15 7-1 6-6 7-9 4-4 0-5-4-4-1-7 5-2 1-10-7-10 6-2 19 1zM3815 1726l5 8-3 6zM3824 1712l3 5-3 4z"/>
<path fill="#fbae14" d="M3706 1786l8 8 4 14-3 5-3 13 3 14-5 6-5 16 9 4-52 15 2 12-13 2-10 7-2 6-6 1-15 14-9 11-6 0-6-2-19-1-3-2 0-1-6-4-11-1-14 4-11-11-12-14 1-54 35 0-1-5 2-7-3-8 2-8-2-5 6 0 1 5 8 0 11 2 6 7 13 3 11-6 4 9 13 3 6 7 7 9 13 0-1-18-5 3-12-7-5-3 2-17 3-20-3-7 4-11 5-2 23-3 7 2 7 4 7 3 10 3z"/>
<path fill="#f47c20" d="M3737 1825l-5 13 5 22 5 0 7 5 7 12 1 22-7 4-5 12-12-11-1-12 4-8-1-7-7-4-5 2-9-9-9-4 5-16 5-6-3-14 3-13 3-5-4-14-8-8 17 3 3 5 6 8z"/>
<path fill="#faed19" d="M3737 1825l12-2 21 5 4-2 12 0 6-5 10 0 19-7 13-10 3 8-1 17 3 15 0 26 3 9-5 12-6 12-11 10-16 7-19 8-19 18-7 3-12 12-7 4-1 13 8 12 3 10 1 5 3 0-1 16-3 8 4 3-2 7-7 6-14 6-21 9-7 6 1 8 5 1-2 9-13-1-1-7-3-8-1-6 3-19-5-12-8-24 18-19 5-12 2-2 2-10-3-5 1-13 3-11 0-22-8-5-9-2-3-4-8-3-14 0-1-6-2-12 52-15 9 9 5-2 7 4 1 7-4 8 1 12 12 11 5-12 7-4-1-22-7-12-7-5-5 0-5-22z"/>
<path fill="#fcb512" d="M3679 2007l-9-1-6 2-8-3-7 0-11-8-13-3-5-11 0-5-7-2-19-19-6-10-3-3-7-13 19 1 6 2 6 0 9-11 15-14 6-1 2-6 10-7 13-2 1 6 14 0 8 3 3 4 9 2 8 5 0 22-3 11-1 13 3 5-2 10-2 2-5 12z"/>
<path fill="#fbea14" d="M3649 2005l-24 12-15 13-6 11-5 7-9 1-3 8-2 5-10 4-14-1-9-4-7-2-8 3-4 9-8 5-9 7-12 2-4-6 2-10-10-16-5-3 0-50 17 0 0-61 13 0 26-6 7 7 11-7 5 0 9-4 3 2 7 13 3 3 6 10 19 19 7 2 0 5 5 11 13 3z"/>
<path fill="#fec20e" d="M3427 2115l-13-13-6-22-4-19-4-24-6-3 0-20-3-9-6-7-9-14-9-21-10-19-9-21 9-3 10-3 11 0 10 8 3-1 68-1 12 8 41 3 32-7 14-4 11 1 6 4 0 1-9 4-5 0-11 7-7-7-26 6-13 0 0 61-17 0 0 50 0 63-15 8-9 2-11-3-7-2-3-7-7-5z"/>
<path fill="#fec20e" d="M3685 2126l-3 3-8 8-4 9-10 12-19 18-12 10-13 8-18 6-9 1-2 5-10-2-8 3-19-4-10 3-7-1-18 6-14 3-11 7-7 0-8-6-5-1-8-7-1 2-2-4 0-10-5-12 5-3 0-13-11-16-9-14-12-22 8-9 7 5 3 7 7 2 11 3 9-2 15-8 0-63 5 3 10 16-2 10 4 6 12-2 9-7 8-5 4-9 8-3 7 2 9 4 14 1 10-4 2-5 3-8 9-1 5-7 6-11 15-13 24-12 7 0 8 3 6-2 9 1 8 24 5 12-3 19 1 6-8-3-5 1-2 5-4 7 0 6 10 9 10-2 3-8 13 1-4 12-2 14-5 8z"/>
<path fill="#f68a1e" d="M3642 2121l6 5-6 9-3 5-9 3-3 5-6 2-13-13 9-11 9-7 8-3z"/>
<path fill="#fec20e" d="M3694 2083l-3 8-10 2-10-9 0-6 4-7 2-5 5-1 8 3 3 8z"/>
<path fill="#fec70b" d="M3991 1841l5 7 4 12 3 20 4 8-2 8-3 5-5-10-4 5 4 13-2 7-5 4-1 14-6 20-9 24-10 32-7 23-7 20-14 4-15 7-10-4-13-6-5-9-1-15-6-14-2-12 3-12 8-3 0-6 8-13 2-11-4-8-3-10-2-16 6-10 3-10 8-1 9-4 7-3 7 0 10-9 14-11 5-8-2-8 7 2 9-11 1-11 5-7z"/>
<path fill="#faed19" d="M3885 1823l3 8-5-1zM3902 1835l3 5-5-2z"/>
<path fill="#faed19" d="M2746 1372l5 2-3 2zM2721 1340l5-2-4 5z"/>
<path fill="#faed19" d="M3260 1624l3-2-2 5z"/>
<path fill="#faed19" d="M4125 1971l5 1-4 6z"/>
<path fill="#f4ea1a" d="M3674 446l19-5 25 10 43 3 77 22 10 17-19 9-27 5-75-12-17 2 31 12 1 25 36 9 3-9-11-7 11-5 41 9 16-4-12-11 39-17 15 1 17 5 8-12-13-10 8-10-13-10 47 7 11 8-21 2 0 10 12 5 27-3 4-10 95-24 13 1-17 11 21 1 12-5 32-2 26-6 18 10 21-10-19-10 10-7 49 7 24 5 62 18 11-8-17-9-1-5-21-1 7-7-10-14 0-5 31-15 11-16 12-3 46 3 4 11-17 13 12 5 5 12-4 24 19 10-9 12-32 24 19 2 7-5 18-6 5-8 15-9-9-8 6-12-18-2-4-8 14-17-22-14 30-12-3-12 8 0 9 9-7 17 19 2-9-12 29-7 35 0 31 9-15-14-1-18 29-3 41 0 37-1-14-10 20-11 19 0 34-8 44-4 5-4 46-1 14 4 37-10 33 1 3-8 17-7 41-7 29 5-24 5 39 2 3 9 17-4 50 0 37 9 14 6-4 9-18 4-45 10-13 5 20 2 26 4 15-3 8 12 8-5 28-3 55 3 3 8 71 3 2-13 36 2 27 0 27 9 8 11-10 7 21 14 27 6 16-17 28 7 29-4 32 5 12-4 29 2-12-16 23-7 152 11 15 10 44 13 69-4 34 3 14 7-2 13 20 5 24-3 30-2 31 4 33-2 30 15 21-5-14-11 8-8 53 5 36-1 49 8 24 8 0 67 0 1-22 8-22-2 15 9 10 14 9 4 1 7-5 5-30-4-48 12-15 3-26 12-25 10-7 8-24-12-44 13-8-6-16 8-24-3-5 12-20 16 1 7 19 4-2 24-16 1-7 14 7 7-29 9-7 20-26 4-5 17-23 16-7-12-7-25-10-38 8-23 15-11 1-7 27-4 30-21 29-18 31-13 14-24-22 1-10 14-43 19-14-21-44 6-43 28 15 11-38 4-26 2 1-12-26-3-23 8-51-3-56 5-55 33-65 41 27 2 8 10 17 4 11-8 18 1 25 18 0 15-13 17-1 20-8 27-26 25-6 12-56 49-23 10-11 0-10-8-23 13-3 5-2-3 0-8 8-1 3-20-5-14 15-6 21 3 11-17 6-19 7-6 9-15-29 5-14 7-26 0-7-16-20-12-30-6-6-17-6-10-6-7-11-17-15-7-25-5-23 1-21 3-14 8 9 4 0 10-9 5-15 18 0 8-24 10-20-6-21 1-9-5-10-2-25 12-22 3-16 4-21-3-16 0-10-8-17-9-17-2-21 2-16 3-25-7-3-12-20-5-15-2-19-7-18 18 7 10-17 12-24-5-17 0-11-8-18 0-15-6-26 8-32 15-18 3-7 1-9-10-22 2-7-7-12-3-8-10-10-3-24 4-23-10-9 9-38-43-22-13 6-5-43 16-16 1 2-10-22-5-18 4-5-18-31-4-15 8-43 6-8 4-64 6-7 6 12 11-16 5 3 4-17 9 28 11-4 8-24 0-5 5-22-9-27 0-18 7-20-7-37-11-27 0-35 19-2 12-18-10-13 19 5 3-10 13 14 12 13-1 11 12-2 8 9 3-8 10-16 3-17 18 15 16-2 11 19 20-10 7-3 4-8-1-11-10-5-1-11-4-5-7-16-3-10 3-3-4-23-8-25-2-15-3-2 2-21-15-20-6-14-10 12-3 14-14-10-7 26-7-1-3-15 2 0-7 9-5 17-1 2-6-4-9 7-9 0-5-25-6-10 0-10-7-13 2-22-6 0-3-6-8-13 0-2-6 5-3-11-10-18 2-5-1-4 4-7-1-4-11-4-5 3-2 14 1 7-4-5-5-12-2 1-3-7-4-10-11 3-4-1-8-17-4-9 2-2-5-18-4-5-10-2-8-8-4 7-5-5-16 12-10-2-3 19-10-18-7 37-22 15-10 7-9-25-11 6-11-15-13 12-15-20-19 16-13-26-11 2-12 14-2 29-7zM3483 704l4-8 24-5 17 3 8 2-2 5 1 4-31 1zM89 457l42 13 44 17-1 10 11 4-4-12 46 3 34 15-17 8-28 2-1 16-6 4-16-1-13-6-23-5-4-7-17-3-19 2-9-6 3-6-20 4-2 15zM5563 704l15 4 5 23 2 21 22 44-24-5-10 24 15 18 0 12-12-11-11 14-4-15 2-16-2-19 4-13 1-22-10-17 2-23zM4024 407l18 15 20 3 32 2 32 0-10-12-22-1-3-16 10-10 25-14 18-8 25-12 27-5 50-7 28-19 34-1 11 7-11 5-61 8-61 17-39 12-37 12-16 8-36 2zM4779 248l34 8 39 16-5 16-36 2-48-5-28-6-13-12-23-3 45-12zM4850 273l67 22 19 3-97 7 10-17zM4871 283l26-2 44 10-41-5zM5509 335l45 0 62 9-14 13-63 0-28 4-34-11 9-12zM5633 351l35-3 43 5-19 6-27-2zM5527 381l38 4 25 0-2-5-58 3zM5665 348l43 4zM6187 420l22-6 0 11-19 1zM89 414l41 3-1 3-18 4-22 1zM3931 261l68 8 25-12-45 7-2-9-21-1zM3911 259l47 8zM3970 453l20 6 12-6-20-5zM4147 434l31 7-16-10zM5799 774l4-8-12 6zM5747 825l5-3-21 11zM5663 857l31-8-48 24zM5622 884l19-10-12 4z"/>
<path fill="#f5801f" d="M4634 792l-9-10-22 2-7-7-12-3-8-10-10-3-24 4-23-10-9 9-38-43-22-13 6-5-43 16-16 1 2-10-22-5-18 4-5-18-31-4-15 8-43 6-8 4-64 6-7 6 12 11-16 5 3 4-17 9 28 11-4 8-24 0-5 5-22-9-27 0-18 7-20-7-37-11-27 0-35 19-2 12-18-10-13 19 5 3-10 13 14 12 13-1 11 12-2 8 9 3 16-3 19-8 15 4 17 0 3 10-3 17-15-3-15 3 0 12-17-1 1 5 9 4 8 16 20 6 3 6-4 11 1 0 26-9 12 4 12 14 8-1 0-63 44-10 43 20 16 16 20-3 29-1 21 12-2 17 9 0 3 14 22 1 4 8 7 0 7-12 23-12 9-4 4-7 42-7-3 10 13-13 24 7 34-1 25 1 9 6 10 3-1-10 12-4-16-30 34-6 9-4 12-31 34 6 9-8 1-17 14-1z"/>
<path fill="#f5801f" d="M4100 927l0-63 44-10 43 20 16 16 20-3 29-1 21 12-2 17 9 0 3 14 22 1 4 8 7 0 7-12 23-12 9-4 5 2-14 11 13 7 12-5 20 9-22 12-13-1-7 0-2-4 3-8-22 4-6 10-8 10-14-1-5 8 13 4 4 12-10 18-13-4-9 0 0-10-22-8-18-8-11-8-20-12-8-17-6-4-18 1-7-3-1-14-23-9-15 10-14 6 3 9z"/>
<path fill="#f04e23" d="M4042 919l-1 0 6 11 2-13 13-4 5 10-5 11-13 0-4 14 11 1-4 12 13 6-2 18 3 12 15-4 12-9 11 0 8-3 12 1 18 9 14 2 19 15 13 1 2 14 17 6 13-2 3-8 14-2 9-5 4-14 14-3 3-6 8 4 5 1 0-10-22-8-18-8-11-8-20-12-8-17-6-4-18 1-7-3-1-14-23-9-15 10-14 6 3 9-20 0-8 1-12-14-12-4z"/>
<path fill="#f5801f" d="M4355 910l4-7 42-7-3 10 13-13 24 7 34-1 25 1 9 6 10 3-2 4-27 9-6 7-22 2-6 11-18-3-12 4-16 8 2 4-4 4-33 2-21-5-18 1 2-10 18 3 6-5 13 1 22-12-20-9-12 5-13-7 14-11z"/>
<path fill="#f47920" d="M4356 945l-6 5-18-3-2 10 18-1 21 5 33-2 4 15 5-1 11 4-1 6 3 10-18 0-12-1-10 7-8 2-6 3-6-5 1-14-5-1 2-5-9-4-8 6-1 6-3 3-10 0-6 7-5-3-13 6-5-2 10-18-4-12-13-4 5-8 14 1 8-10 6-10 22-4-3 8 2 4z"/>
<path fill="#f68d1e" d="M4641 791l18-3 32-15 26-8 15 6 18 0 11 8 17 0 24 5 17-12-7-10 18-18 19 7 15 2 20 5 3 12 25 7 16-3 21-2 17 2 17 9 10 8 16 0 21 3 16-4 22-3 25-12 10 2 9 5 21-1-9 13-12 17 5 7 9-2 17 2 13-6 14 5 15 12-2 6-13-2-25 3-12 4-12 12-26 6-17 9-18-3-9-2-9 11 5 7 3 5-12 6-12 9-20 6-25 1-28 6-20 9-7-5-21 0-25-11-17-2-22 2-35-4-19 1-10-10-8-16-10-2-21-11-23-2-20-3-6-7 6-20-11-14-25-6-14-9z"/>
<path fill="#f7941d" d="M5319 783l30 6 20 12 7 16 26 0 14-7 29-5-9 15-7 6-6 19-11 17-21-3-15 6 5 14-3 20-8 1 0 8-11-10-7 10-26 7 3 9-15 0-8-6-12 12-19 9-13 11-24 5-13 8-18 5 9-8-4-7 14-11-9-9-15 6-19 12-11 11-16 1-9 7 9 12 14 3 0 7 14 5 19-12 15 7 11 0 3 9-24 5-8 9-17 9-8 12 18 9 7 17 10 15 11 13 0 13-11 4 4 10 11 5-3 14-4 13-10 2-12 18-14 22-16 21-23 15-24 15-19 2-10 7-6-5-10 8-24 9-18 2-6 18-9 1-4-12 4-7-23-5-8 3-17-5-8-7 2-9-15-4-8-6-15 9-17 2-13 0-9 4-9 3 3 19-9 0-2-4 0-7-13 4-7-3-13-6 5-14-11-3-4-16-18 3 2-20 16-15 1-14 0-13-8-4-6-10-9 2-19-3 6-7-8-11-12 7-14-4-20 11-15 13-14 2-8-5-9 0-12-4-9 4-11 13-2-14-10 4-20-1-19-4-14-8-13-3-6-8-9-3-17-11-14-5-7 4-24-12-16-11-5-19 12 3 1-9-7-9 1-13-18-20-28-7-5-13-12-8-3-5-3-10 1-6-11-4-5 1-4-15 4-4-2-4 16-8 12-4 18 3 6-11 22-2 6-7 27-9 2-4-1-10 12-4-16-30 34-6 9-4 12-31 34 6 9-8 1-17 14-1 13-12 7-1 4 12 14 9 25 6 11 14-6 20 6 7 20 3 23 2 21 11 10 2 8 16 10 10 19-1 35 4 22-2 17 2 25 11 21 0 7 5 20-9 28-6 25-1 20-6 12-9 12-6-3-5-5-7 9-11 9 2 18 3 17-9 26-6 12-12 12-4 25-3 13 2 2-6-15-12-14-5-13 6-17-2-9 2-5-7 12-17 9-13 20 6 24-10 0-8 15-18 9-5 0-10-9-4 14-8 21-3 23-1 25 5 15 7 11 17 6 7 6 10zM5025 1311l-15 9-14-6 0-14 8-8 19-5 9 1 4 6-7 8z"/>
<path fill="#fce70f" d="M5219 1214l-10 28-7 14-9-15-2-13 10-16 13-13 8 5z"/>
<path fill="#f7911d" d="M5370 908l2 3-6-1-8 6-5 6 1 12-9 4-3 3-6 5-12 2-7 5-1 8-1 1 6 3 10 8-2 4-8 1-12 1-6 7-8 0-1 1-8-3-2 3-5 2-1-4-4-1-5-3 5-7 4-2-2-3 5-10-2-2-9-2-8-5 13-11 19-9 12-12 8 6 15 0-3-9 26-7 7-10z"/>
<path fill="#fbae14" d="M5331 973l15 20 4 11 0 19-6 10-16 3-13 7-16 1-2-9 4-13-8-17 13-3-12-15 1-1 8 0 6-7 12-1 8-1zM5294 1063l12-3-5 5z"/>
<path fill="#fec20e" d="M5546 998l-7 13 3 9-9 12-21 8-30 1-25 19-11-6-1-13-29 4-20 8-20 0 17 12-11 29-11 7-9-6 5-15-11-5-7-12 16-5 9-11 17-9 13-11 33-5 19 3 17-30 12 8 25-17 9-7 11-20-3-20 7-10 18-3 9 23 0 14-16 17zM5595 878l12 4 12-7 4 19-25 4-15 17-27-12-9 19-19 0-2-17 8-13 18-1 5-23 5-13 20 17zM5399 1060l10-10 9 2 7-7 13 3 2 6-10 11-7-6-8 4-5 10zM5320 1185l10-12-7 5zM5347 1148l7-3-4 6zM5366 1114l8-2-5 4z"/>
<path fill="#fcb512" d="M4472 1026l18 20-1 13 7 9-1 9-12-3 5 19 16 11 24 12-11 8-6 16 16 6 16 8 22 10 24 2 9 9 13 1 21 4 14 0 2-7-2-11 1-7 10-4 2 14 0 3 16 7 10-3 15 1 14 0 1-11-7-5 14-2 15-13 20-11 14 4 12-7 8 11-6 7 19 3 1 6-6 3 1 11-12-3-22 11 1 10-10 14-1 8-7 15-13-4-1 17-4 6 2 7-9 4-8-27-5 0-3 11-9-8 5-10 8-1 7-15-9-3-16 1-16-3-2-11-8-1-13-8-6 12 12 9-11 6-4 6 11 5-3 10 6 13 3 14-3 6-11 0-21 4 1 12-10 10-24 12-19 20-13 11-17 11 0 7-8 5-16 6-8 1-4 13 3 22 1 14-7 16 0 29-9 1-8 13 5 5-15 5-6 12-7 5-16-16-8-24-6-17-6-8-9-17-4-21-4-11-15-23-7-33-5-22 0-20-3-16-25 10-12-2-22-21 8-6-5-6-20-15 11-11 38 0-4-15-9-8-2-13-11-8 19-18 19 2 18-18 11-18 16-17 0-12 14-10-13-8-6-11-6-15 8-8 26 4 19-2z"/>
<path fill="#f47920" d="M4427 998l12 8 5 13 28 7-16 14-19 2-26-4-8 8 6 15 6 11 13 8-14 10 0 12-16 17-11 18-18 18-19-2-19 18 11 8 2 13 9 8 4 15-38 0-11 11-13-4-4-12-14-13-31 3-28 0-24 3 7-20 24-9-1-8-8-2-1-15-16-8-7-10-8-9 28 9 17-3 11 2 3-4 12 2 22-7 0-15 10-9 13 0 1-5 14-2 6 1 6-4-1-11 8-10 10-4-6-11 16 0 5-6-1-6 8-8-2-8-4-7 10-8 19-3 19-2 9-3z"/>
<path fill="#fec20e" d="M4190 1023l17 6 13-2 3-8 14-2 9-5 4-14 14-3 3-6 8 4 5 1 9 0 13 4 5 2 13-6 5 3 6-7 10 0 3-3 1-6 8-6 9 4-2 5 5 1-1 14 6 5 6-3 8-2 10-7 12 1 18 0 3 5-10 2-9 3-19 2-19 3-10 8 4 7 2 8-8 8 1 6-5 6-16 0 6 11-10 4-8 10 1 11-6 4-6-1-14 2-1 5-13 0-10 9 0 15-22 7-12-2-3 4-11-2-17 3-28-9 15-16-1-10-13-3-1-11-6-14 7-9-7-3 5-12z"/>
<path fill="#f7941d" d="M4647 1155l-1 7 2 11-2 7-14 0-21-4-13-1-9-9-24-2-22-10-16-8-16-6 6-16 11-8 7-4 14 5 17 11 9 3 6 8 13 3 14 8 19 4z"/>
<path fill="#ffdd00" d="M4708 1157l7 5-1 11-14 0-15-1-10 3-16-7 0-3 11-13 9-4 12 4 9 0z"/>
<path fill="#fbae14" d="M4724 1254l0 13-6-3 1 14-5-9 0-9-4-8-7-10-15-1 1 7-5 10-8-4-2 3-5-1-6-2-3-14-6-13 3-10-11-5 4-6 11-6-12-9 6-12 13 8 8 1 2 11 16 3 16-1 9 3-7 15-8 1-5 10 9 8 3-11 5 0z"/>
<path fill="#faed19" d="M4539 1501l-2 18-7 5-15 4-8-14-3-24 8-28 11 9 8 12z"/>
<path fill="#faed19" d="M4397 1556l3 2-2 5z"/>
<path fill="#faed19" d="M3910 997l-9-13 3-6-5-19 11-5 3 6 9 8 11 2 7 0 20-13 6-1 5 5-6 9 11 8 4 0 5 12 17 4 11 8 24 3 27-4 2-4 15-4 12-9 11 0 8-3 12 1 18 9 14 2 19 15 13 1 2 14-7 21-5 12 7 3-7 9 6 14 1 11 13 3 1 10-15 16 8 9 7 10 16 8 1 15 8 2 1 8-24 9-7 20-31-5-19-4-19-3-8-20-8-3-13 3-17 8-21-6-17-13-16-5-12-16-12-23-9 3-11-5-6 6-10-9 0-9-5 0 2-12-8-13-21-9-12-16 4-14 9-6-2-10-11-5z"/>
<path fill="#f4ea1a" d="M3921 1017l11 5 2 10-9 6-4 14 12 16 21 9 8 13-2 12 5 0 0 9 10 9-11-1-11-1-12 16-32-1-48-34-25-12-21-5-7-20 38-18 6-21-1-12 9-4 9-11 7-3 20 3 6 4 8-3z"/>
<path fill="#c8da2b" d="M3776 926l25 7 20-3 14 2 20-9 19-1 16 8 3 6-2 9 13 4 6 5-11 5 5 19-3 6 9 13-8 3-6-4-20-3-7 3-19 3-10-1-19 7-14 0-9-3-19 4-5-3-1 10-5 3-4 4-7-8 7-6-11 1-14-4-11 10-26 2-14-9-18-1-4 8-12 2-17-10-18 1-10-17-13-10 9-13-11-8 19-16 26-1 7-13 33 2 20-11 20-4 28-1zM3592 935l4-2 5-11-8-4 17-5 15 2 2 6 15 6-3 4-20 1-8 5-14 9z"/>
<path fill="#dce021" d="M3808 1062l-33 18-19-7 2-3 0-7 4-9 9-6-2-7-8-1-2-13 5-7 4-4 5-3 1-10 5 3 19-4 9 3 14 0 19-7 10 1 19-3-9 11-9 4 1 12-6 21z"/>
<path fill="#dce021" d="M3758 1063l-5 1-1 2-6 0 6-13 9-12 0-1 8 1 2 7-9 6z"/>
<path fill="#cfdc28" d="M3756 1073l-3 5-6-2-4 11 5 2-5 2 0 5 8-2 0 6-8 28-11-30 5-5-2-1 5-8 3-13 3-4 0-1 6 0 1-2 5-1 0 7z"/>
<path fill="#cfdc28" d="M3753 1078l0 11-2 5-8 2 0-5 5-2-5-2 4-11z"/>
<path fill="#d6de24" d="M3753 1078l3-5 19 7 33-18 7 20-3 3-34 8 17 17-6 3-3 6-12 2-4 6-8 6-19-3 0-2 8-28 0-6 2-5z"/>
<path fill="#f7ec1a" d="M3743 1130l19 3 8-6 4-6 12-2 3-6 6-3-17-17 34-8 3-3 21 5 25 12 48 34 32 1 15 2 4 8 12 0 7 14 8 4 3 6 12 7 1 7-2 6 2 6 5 4 2 6 3 4 5 3 5-1 3 7 1 4 6 17 51 8 4-3 7 12-11 34-51 17-49 6-16 8-12 18-8 3-4-6-7 1-16-2-3-1-20 0-5 2-7-5-4 8 2 8-8 5-2-7-5-5-1-7-9-6-9-14-5-14-12-12-7-3-12-16-2-12 1-10-10-19-8-6-9-4-5-10 1-3-5-9-5-4-7-13-10-13-9-12-8 0 2-9 1-6z"/>
<path fill="#f7941d" d="M4052 1346l-12 5-4 7 0 6-17 7-27 8-15 12-8 1-5-1-10 7-11 3-14 1-4 1-4 4-5 2-2 4-9 0-5 2-12-1-4-10 0-9-2-5-4-13-5-7 4 0-2-8 2-3-1-8 8-5-2-8 4-8 7 5 5-2 20 0 3 1 16 2 7-1 4 6 8-3 12-18 16-8 49-6 13 28z"/>
<path fill="#ccdb29" d="M4088 1243l0-7 5-7 0-7 8-3-3-3 1-11 9 0 7 12 10 6 12 2 10 3 8 10 5 6 6 2 0 4-7 10-2 5-7 5-7 12-7-1-4 4-3 8 2 12-1 2-8 0-11 6-1 8-4 4-11 0-6 4 0 7-9 5-9-2-11 6-8 1-6-12-13-28 51-17 11-34zM4105 1192l-3-6 5-6 2 2-1 7z"/>
<path fill="#d6de24" d="M4026 1217l3-1 0 5 14-3 14 0 10 1 12-12 12-10 11-11 3 6 3 13-9 0-1 11 3 3-8 3 0 7-5 7 0 7-4 3-51-8-6-17z"/>
<path fill="#ece61c" d="M4013 1208l-1-12 4-9 5-2 5 5 0 10-3 10-5 1z"/>
<path fill="#faed19" d="M3964 1119l4 8-1 4 5 13-12 0-4-8-15-2 12-16z"/>
<path fill="#faed19" d="M4007 1184l3 0-1 6z"/>
<path fill="#f68d1e" d="M3855 923l3-7-4-12-10-6-10-2-6-5 2-2 15 3 25 2 23 8 3 4 10-3 16 3 5 7 11 4-4 3 8 9-2 2-10-1-12-5-5 3-23 2-16-8z"/>
<path fill="#f26222" d="M3890 930l23-2 4 4 7 3-4 4 9 6-5 6 8 4 7 3 1 12-7 0-6-9 0-3-8 0-5-5-4 1-6-5-13-4 2-9z"/>
<path fill="#f5831f" d="M3914 953l5 5 8 0 0 3 6 9-11-2-9-8-3-6zM3954 928l8 1 3-4 10-7 9 9 9 12 7 1 6 5-14 1-3 13-3 6-6 4 0 9-4 0-11-8 6-9-5-5-6 1-20 13-1-12-7-3-8-4 5-6-9-6 4-4-7-3-4-4 5-3 12 5 10 1 2-2-8-9 4-3 5 1z"/>
<path fill="#ccdb29" d="M4841 1286l-10 7-12 1-7 18-8 3 9 15 10 13 7 11-6 15-6 3 4 8 12 14 2 9-1 8 7 16-9 16-9 17-1-13 5-12-6-11 2-18-7-9-6-20-3-22-7-14-11 9-20 12-9-2-11-4 6-21-4-16-13-19 2-6-10-3-12-13-1-14 6 3 0-13 9-4-2-7 4-6 1-17 13 4 7-15 1-8 10-14-1-10 22-11 12 3-1-11 6-3-1-6 9-2 6 10 8 4 0 13-1 14-16 15-2 20 18-3 4 16 11 3-5 14 13 6 7 3 13-4 0 7-14 11-4 6z"/>
<path fill="#faed19" d="M4893 1422l-15-8-15 0 3-13-15 0-2 19-9 25-5 15 1 12 11 0 7 16 3 15 9 9 11 2 8 9-5 7-11 2-2-8-14-8-2 3-7-6-3-9-9-9-8-8-3 10-3-10 1-10 5-17 9-17 9-16-7-16 1-8-2-9-12-14-4-8 6-3 6-15-7-11-10-13-9-15 8-3 7-18 12-1 10-7 10-4 7 5 1 10 12 1-4 18 0 15 18-10 5 3 10 0 3-6 13 1 13 14 1 17 14 14-1 15-5 7-16-2-22 3-11 14z"/>
<path fill="#f4ea1a" d="M4938 1386l5-7 1-15-14-14-1-17-13-14-13-1-3 6-10 0-5-3-18 10 0-15 4-18-12-1-1-10-7-5 4-6 14-11 2 4 9 0-3-19 9-3 10 13 7 16 21 0 7 15-11 4-5 6 21 11 14 20 11 15 12 12 5 12-4 17-15-7-7 12z"/>
<path fill="#faed19" d="M4986 1263l-23 14-14 16-4 12 13 18 16 22 16 11 10 13 8 32-3 30-14 11-19 11-14 14-21 16-6-11 4-12-12-9 14-7 18-1-7-11 28-13 2-20-4-11 4-17-5-12-12-12-11-15-14-20-21-11 5-6 11-4-7-15-21 0-7-16-10-13 9-4 13 0 17-2 15-9 8 6 15 4-2 9 8 7z"/>
<path fill="#fec20e" d="M4908 1448l-6-9-9-17-4-21 11-14 22-3 16 2 14 7 7-12 15 7 4 11-2 20-28 13 7 11-18 1-14 7z"/>
<path fill="#fce70f" d="M4867 1524l2 8 11-2 5-7 4 2 10 10 7 11 1 12-1 8 1 6 1 10 6 4 7 15 0 6-12 1-16-12-20-14-2-9-10-11-2-14-7-9 2-13-3-7 2-3zM5166 1553l-13 6-15-3-19 0-6 19-7 6-8 24-14 3-16-4-9 1-9 9-11-2-11 4-12-10-3-11 13 6 13-3 3-15 8-3 20-4 12-13 8-11 8 9 4-6 8 1 1-11 1-9 13-11 8-14 7 0 9 9 1 7 11 5 14 5-1 7-12 1z"/>
<path fill="#fce70f" d="M4910 1607l7-2-2 4z"/>
<path fill="#fce70f" d="M5090 1552l7-6 15-10-1 9-1 11-8-1-4 6z"/>
<path fill="#f47c20" d="M4769 1534l37 6 16 16 22 19 15 18 19 0 24 26 12 8-7 14 10 6 7 0 2 13 6 8 12 2 9 11-4 21-1 26-19 1-14-14-22-15-7-10-13-13-9-13-13-24-14-14-6-15-6-13-15-11-9-14-13-10-17-18zM4937 1745l15-16 21 1 14 7 7 1 1 7 33 1 5-6 30 7 7 11 26 4 20 10-19 6-19-7-15 1-19-2-15-3-20-7-12-2-7 4-31-8-3-8zM5153 1559l-10 16 13 15-3 8 19 16-20 1-6 12 0 16-15 12-2 17-6 25-2-6-19 8-6-11-12-1-9-5-21 6-6-8-11 1-15-3-2-22-8-5-8-14-3-15 2-16 10-11 3 11 12 10 11-4 11 2 9-9 9-1 16 4 14-3 8-24 7-6 6-19 19 0zM5278 1605l-14 17-12 3-17-3-28 1-15 2-2 13 15 15 9-8 32-5-2 7-7-2-7 10-15 6 16 22-3 6 15 20 0 11-9 5-7-6 8-14-16 6-5-4 3-7-13-10 1-16-11 5 2 20 0 24-10 2-8-5 5-15-3-17-7 0-5-11 7-11 2-14 9-26 4-7 14-12 13 5 22 2 19-1 17-12zM5546 1673l0 111-15-14-17-3-4 5-22 0 7-14 12-5-5-19-9-13-32-15-14-1-25-16-5 8-7 2-4-6 0-8-13-8 18-6 13 0-2-5-26 0-6-10-15-3-7-8 23-4 9-6 27 7 2 7 5 27 18 10 14-18 19-10 15 0 15 6 12 6zM5250 1806l7-19 16-7 2 4-11 17zM5187 1779l14-11 37-1-2 9-26 5zM5133 1772l15 1 12-2 14 6-20 3-11 3-9 0zM5196 1803l-25-11 16-4 16 10zM5119 1770l14 2-4 8-10-1zM5323 1592l12 11 2 7-2 15-8-2-3 10 8 9-5 2-7-10-5-22 3-14zM5348 1677l19 5 6 13-14-7-14-2-10 1-12 0 4-10zM5306 1693l-12-3-3-7 17-1 4 6zM4942 1656l19 16 2 10-14-5zM4978 1673l12 5-7 5zM4800 1605l13 14-8-7zM4829 1646l8 14-12-11zM5432 1724l7 10-7 11-3-12zM5376 1756l12 4-10 7z"/>
<path fill="#f68a1e" d="M5273 1780l3-4 14-4 12 0 5-2 7 2-7 4-17 8-15 0z"/>
<path fill="#fce70f" d="M5199 1315l22 3 5 8 6 12-5 15-10 5-3 14 4 13 9 2 8-2 21 10-1 9 5 4-2 8-13-9-6-8-5 6-10-10-16 2-8-4 1-7 5-4-5-4-2 6-9-9-2-8-1-16 7 5 2-26zM5297 1486l2 11 1 10-6 15-6-17-8 9 6 12-5 8-20-10-5-12 5-8-11-8-5 7-8-1-12 10-3-5 6-15 11-4 9-7 6 8 13-5 3-7 12-1-1-13 14 8 1 9zM5262 1415l16 1 4 6 5 19-13-4 1 5 4 11-8 4-1-12-5-1-3-10 10 1 0-6zM5180 1436l4 14-11 9-10 12-22 16 8-12 13-11 10-11zM5221 1427l10 5 11 0 0 7-8 7-11 6-1-8 2-9zM5257 1454l-6 6-6 11-5 5-11-12 4-5 4-4 2-11 9-1-2 11 12-16zM5214 1406l-3 16-8-9-9-13 15 1z"/>
<path fill="#faed19" d="M5572 1811l18 32-2 27 19 0 12 14 2 26 12 22 1 18 22 10 23 16 15 32 17 2 3 18 21 18 17 27 8 34-2 15-6 32-4 12-20 24-7 14-10 23-10 21-3 12 1 5-10 7-19 0-15 6-19 15-14-8-10-3 2-9-8 4-16 12-15-5-19-4-17-5-10-10-3-14-4-10-8-5-17-2 5-8-4-12-8 12-15 3 10-10 1-10 7-9-1-12-14 16-10 5-7 13-14-6 0-11-10-12-8-6 3-4-22-10-29-9-31 2-22 5-18 7-17-2-17 9-16 4-2 9-6 7-15 0-11 2-15-3-12 1-12 2-10 9-5 0-18 9-23 0-17-11-10-4 1-10 7-2 4-3 0-7 2-12-2-10-9-17-3-9 1-10-8-11 0-5-7-7-2-14-10-13-3-7 9 7-7-16 8 5 5 7 0-8-8-14-2-5-3-5 1-10 4-4 2-18 5-12 1 12 7-12 15-6 7-7 14-6 8-2 4 2 13-5 11-2 3-4 5-2 9 1 18-5 9-9 5-8 8-9 2-6 0-9 12-15 7 15 8-3-7-9 6-8 8 3 2-12 8-9 5-6 9-3 0-6 7 2 0-3 16-5 13 8 10 10 10 0 10 1-3-9 8-14 7-3-2-5 7-10 10-6 9 2 15-3 0-9-13-5 10-3 10 5 10 7 14 4 5-3 10 5 10-4 7 2 3-3 8 9-4 8-7 7-6 0 2 7-4 8-7 9 1 5 14 10 13 5 9 5 12 11 5 0 9 4 3 6 15 5 12-5 3-10 4-7 2-10 5-13-2-8 0-5-2-10 3-14 3-3-2-5 3-9 4-10 0-4zM5621 2323l17 5 8-2 14-3 10 1 2 21-7 5-2 13-5-5-12 12-3 0-11-2-11-13-2-12-10-14 0-8zM5473 2236l20 0-7 7-15-2zM5366 1823l15 2-7 6-10-3zM5469 1864l9 3-7 5z"/>
<path fill="#faed19" d="M6087 2318l3 6 4 7 12-7 4 7 0 9-5 6-12 13-8 8 6 7-13 1-14 5-5 12-10 17-13 9-9 3-15 0-10-5-19-2-3-6 9-12 21-17 11-4 13-5 14-9 10-9 8-12 6-6 3-9zM6090 2216l9 8 13 5 5 15 12 17 1-11 8 5 2 13 14 5 11 1 10-6 8 2-3 15-6 10-13-1-5 5 3 8-18 24-14 7-2-5-7-2 9-13-5-11-18-7 0-6 13-5 3-14-1-10-7-12 0-3-8-7-13-16-8-11zM5998 2425l10 1-5 7z"/>
<path fill="#f47c20" d="M5546 1673l29 12 32 10 12 9 9 8 3 10 27 11 5 8-16 2 4 12 16 11 10 18 10-1 0 7 13 4-6 3 19 7-2 5-11 1-4-4-33-5-13-11-9-10-9-14-23-8-14 5-10 5 2 14-14 5-9-2-17-1zM5743 1691l7 6 2 9-5 5-4-11-3 2-5-14-24-12 4-4 21 11zM5721 1728l-9 4-9 4-9 0-14-4-10-5 2-6 15 3 9-2 3-7 2-1 1 8 11 0 5-6 9-6-3-10 11 0 3 2 0 10-5 10-9 2zM5780 1720l5 4 8 10 8 6-2 5-5 2-7-7-8-11-3-13zM5639 1663l14 0-5 3z"/>
<path fill="#f68a1e" d="M5905 1807l5 6-12 0-7-11 11 5zM5883 1797l-6 0-11-2-3-2 1-7 11 3 6 3zM5898 1792l-3 3-13-14-3-11 6 0 6 14zM5867 1771l1 3-14-7-9-6-6-6 2-2 8 5 14 7zM5827 1754l-3 1-8-4-7-7 1-3 10 7z"/>
<path fill="#ffdd00" d="M6002 1909l-5 2-6-7 1-5zM5990 1883l3 14-5-3-4 1-2-4 0-13zM6010 1928l5 4-5 1zM6027 1947l3 7-5-4z"/>
<path fill="#adb3b9" d="M5967 1987l14 11 9 8-6 4-10-5-12-7-11-9-11-13-2-5 7 0 9 6 8 6zM5991 1981l5 5-3 3zM6005 1993l3 3-5 0z"/>
<path fill="#ffdd00" d="M6181 1924l6 5-3 9-10 2-10-2-1-8 6-6 8 2zM6189 1916l13-8 7-5-2 8-13 7zM6207 1916l2 2-2 2z"/>
<path fill="#ffdd00" d="M211 1858l11 0-6 6zM227 1864l8 3-7 2z"/>
<path fill="#ffdd00" d="M169 1988l3 0-1 3zM189 1945l4 2-2 2z"/>
<path fill="#ffdd00" d="M5837 1511l3 1-2 1zM5730 1503l1 2-1 0zM5497 1468l1-2-1 0z"/>
<path fill="#ffdd00" d="M6088 1605l4 0-2 2zM471 1597l6-2-4 5z"/>
<path fill="#ffdd00" d="M6059 1508l4 0-2 2zM6017 1505l2 0-2 2z"/>
<path fill="#adb3b9" d="M5436 1503l3-3-2 5z"/>
<path fill="#adb3b9" d="M5609 1401l3-3-1 5zM5626 1372l2-1-2 0z"/>
<path fill="#adb3b9" d="M606 1926l7 2-4 4zM766 1779l3 1-3 2z"/>
<path fill="#adb3b9" d="M3491 905l7 7 8 1 10-3 2-7-7-8-10-1z"/>
<path fill="#adb3b9" d="M2948 1177l51-2 0 14-51 0zM2943 1206l-13 0-33 59 28 0-2-24 13-13z"/>
</g>
<g transform="translate(-0.7,272.3) scale(.1)">
<path fill="#f7941d" d="M752 446l34 2 42 10 38-10 56-7 48-7 49 15 65-7 67 14 43 17 19-7 66 9 34 7 7 10 24-26 71 10 61 0 19-12 25 6-8-34 29-29 29 10 22 27 18 20 40 19 15 2 29-26 1-17 50 2 22 9-2 20-20 20-38 9-20 0 2 5-19 14-5 6-21 12-37 9-36 15-22 29-8 15 5 22 25 16 9 15 24-5 32 7 17 7 12 8 22 5 17 7 46 3 3 31 12 19 26 17 22-24-9-26-12-10 28-7 18-12 10-11-1-12-12-16-21-12 21-18-9-16-5-25 12-4 29 4 17 2 15-4 16 5 20 11 5 6 31 0 0 16 5 20 15 3 14 11 24-11 17-18 10-7 13 15 22 21 19 20-7 12 22 8 43 16 12 5 7 13 12 4 6 5 2 20-12 5-12 7-29 5-20 16-29 1-37-3-26 0-17 2-13 12-23 6-25 24-19 15 14-3 27-22 36-14 25-1 16 8-16 10 5 19 5 14 23 8 28-3 17-19 12 19-20 10-39 10-15 7-21 14-13-4 1-13 29-14-27 0-19 3-12-10 0-24-6-5-17 0-14 12-5 14-19 10-2 5-57 0-26 15-7 9-40 2 5 10-22 8-19 4-19 8-12-7 12-15 5-10-3-14-5-15-17-9 2-3-11-5-8-2-4-3-29-15-32-14-15 5-5 0-21-5-20-2-17-3-27-4-4-10-6 7-473 0-3-3-29-14-12-7-31-7-10-15 2-10-21-9-3-13-21-12 0-9 9-8 0-10-29-12-17-19-12-12-15-8-10-7-11-9-17 6-17 10-5-2-20-17-17-5-17 0zM1051 806l-24-3-20-12-32-14-9-12 19 0 32 12 21 14 12 8zM920 743l-20-17-14-17 22 0 0 16zM2141 820l15-26 17-27 26-15 7 2-21 25 10-2 11 4-6 5 16 5 24 2-6 11 12-3 2 9 5 10-7 15-6 2-12-4 5-13-26 12-10 0 12-9-15-3-19 0zM2052 781l28 3 18 10 0-3-30-2zM2054 835l41 5-15 7-19-7zM2044 580l-17-3-34-7-34-9-34-15-34-13-34 3-34-3 8-16 60 0 12-15 13-15-8-14-34-5-17-12-34-12-17-8-51 6-43-1-22-2-44-8-24-14 5-12-8-27 25-2 43-2 17 14-17 26 25 0-3-26 12-8 54-4 22 2 43 15 42 12 51 12 51 17 26 22 42 19 43 12 12 10-22 15-33 9-17-12-42-10 14 17 34 15 8 29-31-5-34-9 17 17 34 9zM1670 548l25 8 35-13 42 7 14-9-28-5-28-19-26-10-17 5 8 14-25 12zM1738 560l26 12-9-9zM1784 573l15 7-3-10zM1151 441l43 10 26 12 59 0 25-5 26-4 34 0 51 4 17-10-26-7 26-5-51-11-17-20-9-15-34-5-25 8-34 5-51-7-17-8-51 10-17 19 34 7 17 10-26 0zM1024 407l34 13 42-6 26-14 25-26 26-6-51 0-42-5-52 13-8 21zM1415 414l51 1 34-10 0-17-26-14-34 0-25 16zM1525 403l35 2 25-12 25-19-25-3-43-2-17 7-1 14zM1457 456l26 10 34 2 8-12-25-15-34 7zM1160 354l51 5 59 4 60-7 25-10-8-9-51-12-51 4-68 1-17 12zM1372 354l77 0 34-3 0-21-43-5-42 7-26 12zM1058 337l68 7 34-12-34-17-60 14zM1508 347l60 14 76 2 77 0 65-2 11-15-42-4-43 2-59 0-26-14-42-1-68-2 51 15zM1514 354l46 5-4-15-39 2zM1610 335l77-3 93 2 43-12 0-17 42-10 0-12 77-11 68-20 85-19-34-13-102-4-119 2-119 9-77 8-42 9 34 17 51 13 17 17-43 9-8 10-34 10zM1525 279l60 19 59 0 26-22-26-14-50-13-60 3-17 17zM1364 298l68 8 68 0 17-13-51-7-76-5zM1236 313l43-7-9-10-42 2zM1779 376l27 15 46 0-21-13zM1835 475l34 8 2-15-26 0zM1750 730l29 3-15-8z"/>
<path fill="#f47920" d="M1058 796l473 0 6-7 4 10 27 4 17 3 20 2 21 5 5 0 15-5 32 14 29 15 4 3 8 2 11 5-2 3 17 9 5 15 3 14-5 10-12 15 12 7 19-8 19-4 22-8-5-10 40-2 7-9 26-15 57 0 2-5 19-10 5-14 14-12 17 0 6 5 0 24 12 10 0 7-32 10-20 9-9 15 10 10 2 7-10 4-22 3-17 2-14 5 29-1-32 7-5 14-12 13-5 11-12 19-2-2-5-27-4 12 4 20 5 2 7 27-22 10-19 14-20 10-17 12-16 12-5 20 2 12 12 27 8 24 0 17-5 14-12 0-10-12-7-14-10-19-2-20-15-15-12-2-17 5-15-12-15 0-14 2-26 2 7 17-5 1-12 0-20-3-17-3-26-4-15 4-5 5-26 13-11 14-4 29-29-9-7-18-13-14-19-26-19 0-10 14-24-10-8-19-26-19-28 0 0 9-50 0-63-21 2-3-41 3-3-8-19-14-13-5-24-8-12-19-10-13-2-7-9-14-8-5-14-22-10-19 4-24-6-17 7-28 2-29-2-12-10-26 27 5 10 14 2-17-7-12zM752 446l-43-9-42-1-43-4-59-7-43-3-34-6-34 9-42 9-34 15-26 9-30 0-9 9 31 4 25 17 29 2-1 12-33-5-28 3-45 14 27 17 19 2 41 0 34 1 3 14-20 2-26 6-22 9-20 17 12 17 22 12 25 0 9 15 26 3 33 0 21 2-4 21-20 11-30 14-26 9-24 10-24 5 39-5 26-5 26-9 25-13 34-16 31-15 15-10-9-12 31-15 17-9 17-3-26 29-5 5 31-7 25-7 9-14 17-3 17 7 25 8 43 2 34 5 25 10 26 12 17 4 8 12 26 20 17 19 20 5 22 1 9-8 0-10-29-12-17-19-12-12-15-8-10-7-11-9-17 6-17 10-5-2-20-17-17-5-17 0zM522 657l23 3 17-10-9-12-20 7zM313 720l17-9 16-7-14 2-15 5zM276 730l19-9-12 0zM182 743l23-3-17-2zM130 750l22-3-19-2zM230 551l29 5 20-3-28-7zM305 606l25 5-6-9zM840 645l21 29 22 13 17 5-12-15-22-22-12-12zM497 1306l19-8-5-9-12-3-2 10zM485 1274l12 3-5-5zM460 1265l8 2-5-7zM434 1255l7 2-3-5z"/>
<path fill="#fde30a" d="M1158 1076l41-3-2 3 63 21 50 0 0-9 28 0 26 19 8 19 24 10 10-14 19 0 19 26 13 14 7 18 29 9-5 27-2 32 9 24 13 20 9 14 17 7 14 7 23-5 16-2 10-5 10-10 5-21 7-7 29-6 22 0 3 10-12 18-5 26-8-3-14 10-32 1 0 11 10 13-22 5-8 26-29-22-14-5-31 8-25-7-29-10-36-19-28-8-26-19-10-19 5-15-12-24-29-29-29-20 0-17-20-19-27-20-11-20-6-17-26-9-3 9 3 17 24 23 10 19 19 26 15 23 20 28-8 5-27-28-10-8-2-20-22-9-16-8 6-16-12-20-14-9-17-30z"/>
<path fill="#cfdc28" d="M1582 1381l8-26 22-5-10-13 0-11 32-1-1 34 15 3-10 7-7 15-14 10-18-1z"/>
<path fill="#b6d432" d="M1634 1325l14-10 3 6-3 26-10 12-5 0z"/>
<path fill="#fecd08" d="M1617 1394l14-10 13 9 12 0 0 10-12 2z"/>
<path fill="#ffd803" d="M1631 1384l7-15 10-7 13-2 26-3 27 3 21 14-7 2-21 1-17 17-15 0-10 14-9-5 0-10-12 0z"/>
<path fill="#e3e21d" d="M1665 1408l10-14 15 0 17-17 21-1 7-2-5 26 0 18-6 17 2 9-17-4-17 0-14-12-20-18z"/>
<path fill="#fec20e" d="M1692 1440l17 0 17 4 12 15 7 7-5 8 0 17-12-12-19-13-7 0-10-5-2-17z"/>
<path fill="#fecd08" d="M1740 1491l0-17 5-8 7 7 13 6 17-5 14-8 18 3 19 12 4 14-12 12-9-16-3-10-19 2-12 5 7 14-15 5-14-16z"/>
<path fill="#c2d82e" d="M1706 1257l15-14 20-5 24-2 14 0 22 12 37 12 26 12 24 12-2 4-22 3-36 0 10-9-17-5-10-15-25-4-28-6-6-4-22 4-9 5z"/>
<path fill="#c2d82e" d="M1818 1320l8-5 16 1 12 7-12 2-12 0z"/>
<path fill="#96ca3c" d="M1882 1318l19-3 19-4-9-7 0-6-10-2 10-5 19 3 2-3-2 18 0 14-12-3-18 0z"/>
<path fill="#e3e21d" d="M1930 1294l15-3 14 5 14 5 8 19-15-4-16 4-8-2-7 12-5-7 0-14z"/>
<path fill="#adb3b9" d="M2007 1316l15-1 12 5-7 4-20 0z"/>
<path fill="#faed19" d="M1820 1201l11 15-5 8-10-13zM1826 1172l14 5-3 12-12-12zM1808 1177l15-2-10 5zM1896 1272l12-5-7 7zM1859 1228l10 7-5-9z"/>
<path fill="#faed19" d="M2097 1447l15-2 0 12-15 0z"/>
<path fill="#c8da2b" d="M2100 1352l7 2-4-6zM2110 1377l5 4-3 3zM2103 1366l5 3-3 2zM2112 1393l2 3-4-2zM2134 1405l5 1-3 2z"/>
<path fill="#adb3b9" d="M1908 300l68 15 17 22 77-3 84 12 9 10 43 32 13 26 46 13-34 12 9 12 42-2-42 38 3 18 22 33 17 22 26 24 20 10 48 12 27 5 15-5 8-29 17-19 17-20 9-14 43-12 34-7 50-32 77-5 37-7 53-24-31-10 43-12 0-17-34-10 59-5 0-20 26-12-17-19-26-7 51-5-8-20 26-31 93-24-68-7-77 4-34-10-76-16-102-6-102 5-119 8-102 7-119 3-51 9-51 12-43 13 26 12-68 10z"/>
<path fill="#f47920" d="M2732 514l34-14 26 14 42-10 38-5 27 5 19 18-22 14-48 10-39 4-46-7 12-10-34-7 34-5z"/>
<path fill="#f68a1e" d="M2272 1554l8 9 10 34 11 3-9 26 31 8 1 17 12-12 21 5 29 12 8 9-3 10 20-5 32 8 26 0 25 14 23 19 11 5 16 0 7 6 5 31-2 29-24 24-13 19-14 25-12 2-5 27 2 17-7 37-9 29-17 24-3 17-17 17-19 0-25 7-14 7-19 5-18 13-16 17-1 12 1 10-3 17-15 17-19 31-27 20-7 17-12 11-3-11 7-8-24-21-17-10-24-13-10 1 22-22 19-17 27-17 0-13-9-11-8 4 3-9 2-10 0-10-19 0-1-7-2-15-16-10-23 0 0-24-5-9 5-4 3-16 4-14-14-15-2-7 4-10-34 0-6-20 4-9-4-13-10-6-17-5-12-3-6-7-19-1-19-16 2-12-2-18-20 1-24 14-25 4-18 1 0-26-13 11-15 0-17-11 10 0-7-8-10-10-7-16 5-3 0-7 10-5-1-8 3-7 2-7 20-12 14-3 1-3 16 1 8-46 0-8-3-10-7-12 0-6 9-3 3-5-9-2 0-10 33 0 6-5 4 5 3 10 4-2 10 9 13-2 2-5 14-3 7-3 1-7 12-5 0-4-15-2 5-6-7-16-7-5 4 0 12 2 13 3 5-3 12-3 20-6 6-6-2-5 9 0 3 3-2 7 5 3 6 8-6 6-2 14 4 16 12 9 8 0 2-3 5 0 7-4 7-4 8 1 5-2 9 3 2-3-4-3 3-6 6 2 8-2 10 4 7 3 5-5 5 2 2 4 9-1 5-7 7-11 8-17z"/>
<path fill="#adb3b9" d="M2222 1590l7 3 5-5 5 2 2 4 9-1 5-7 7-11 8-17-2-7-18-14-19-7-9 16 2 12 7 10-3 7-2 8z"/>
<path fill="#96ca3c" d="M2162 1560l3-9 0-4 10-5 3-14 21 2 15-3 17 3-9 16 2 12 7 10-3 7-2 8-4 7-10-4-8 2-6-2-3 6 4 3-2 3-9-3-11-14-2-8-5 0-7-12z"/>
<path fill="#96ca3c" d="M2132 1486l12 7 10 12 0 8 7 0 11 9 6 6-3 14-10 5 0 4-3 9 8 13 5 0 2 8 11 14-5 2-8-1-7 4-7 4-5 0-2 3-8 0-12-9-4-16 2-14 6-6-6-8-5-3 2-7-3-3-9 0-12-13 5-4-1-9 11-3 4-2-5-7 1-7z"/>
<path fill="#fcb512" d="M1937 1428l-2 6-10-2 12 11-2 13 2 18-12 0 5-22 2-10 24-7-2-7 7-6 5 12 12 1 12 9 0 5 15 1 19-1 8 7 14 1 10-5 0-3 41-2-14 5 5 9 14 0 13 8 2 14 15 3-12 10-1 7 5 7-4 2-11 3 1 9-5 4 12 13 2 5-6 6-20 6-12 3-5 3-13-3-12-2-4 0 7 5 7 16-5 6 15 2 0 4-12 5-1 7-7 3-14 3-2 5-13 2-10-9-5-17-4-6-7-4 9-8 0-3-5-6-2-12-2-11 5-7 4-9-7-3-29 3-12-14-10-3-22 2-7-7-2-3 2-7 0-7-5-3-2-9-8-1 5-9 2-14 5-5 7-5 4-5z"/>
<path fill="#f5831f" d="M1867 1632l-7-5-8-5-5 3-14-3-5-7-3 0-17-10-2-5 7-2-2-8 5-5 9-2 13-19-7-5 4-10-4-15 4-4-4-15-6-8 8-7 4-5-4-14 10 2 12-12 7-2 3-20 11-9 10 0 2-3 13 2 14-9 7-4 7-8 6 0 5 5-3 5-11 7-4 5-7 5-5 5-2 14-5 9 8 1 2 9 5 3 0 7-2 7 2 3 7 7 22-2 10 3 12 14 29-3 7 3-4 9-5 7 2 11 2 12 5 6 0 3-9 8 7 4 4 6 5 17-4 2-3-10-4-5-6 5-33 0 0 10 9 2-3 5-9 3 0 6 7 12 3 10 0 8-8 46-9-8-5-2 12-17-14-7-10 0-7-2-8 4-14-2-10-17-7-5-5-8-12-8z"/>
<path fill="#f7911d" d="M1784 1687l8-12-3-9-7 9-9-8 2-5-1-15 5-3 3-10 7-12-2-7 10-3 11-7 17 10 3 0 5 7 14 3 5-3 8 5 7 5 4 12-6 12-18 17-21 7-12 15-1 11-10 7-7-7-7-4-7 2-2-6 6-4z"/>
<path fill="#faed19" d="M1966 1928l11-18-8-14 4-7-2-6 7-7 0-28 3-5-13-28-18 1 0-26-13 11-15 0-17-11 10 0-7-8-10-10-7-16 5-3 0-7 10-5-1-8 3-7 2-7 20-12 14-3 1-3 16 1-9-8-5-2 12-17-14-7-10 0-7-2-8 4-14-2-10-17-7-5-5-8-12-8-5 2 4 12-6 12-18 17-21 7-12 15-1 11-10 7-7-7-7-4-7 2-2-6 6-4-2-7-14 10-5 12 9 17-5 7 11 7 12 11 7 12 7 9 15 34 17 30 14 22-2 6 7 13 14 12 30 19 32 17 2 7 17 8z"/>
<path fill="#f9a119" d="M2081 2003l-20 0-7 14-9-12-23-5-14 15-12 3-6-24-11-18 7-17-9-7-3-12-8-12 11-18-8-14 4-7-2-6 7-7 0-28 3-5-13-28 25-4 24-14 20-1 2 18-2 12 19 16 19 1 6 7 12 3 17 5 10 6 4 13-4 9 6 20 34 0-4 10 2 7 14 15-4 14-3 16-5 4 0-5-16-8-15-2-31 5-8 16 0 9-7 20z"/>
<path fill="#faa817" d="M2160 1972l5 9 0 24 23 0 16 10 2 15 1 7 19 0 0 10-2 10-3 9-4 15-15 14-14 1-18-1-17-5 17-26-4-7-17-6-20-14-14-2-32-28 7-20 0-9 8-16 31-5 15 2 16 8z"/>
<path fill="#faed19" d="M2170 2142l10-1 24 13 17 10 24 21-7 8 3 11-7 10-18 9-14-3-8 2-16-8-12 2-10-11 2-10 3-5 0-17 4-17z"/>
<path fill="#fee005" d="M2170 2142l-5 14-4 17 0 17-3 5-2 10-2 9 23 15-4 12 12 7-17 30-25 9-34 3-19-1 3 10-3 13 3 9-10 5-19 3-15-6-7 5 2 17 12 5 8-7 6 10-16 5-13 10-2 18-5 8-16 0-13 10-5 12 17 12 17 3-7 16-20 10-11 20-15 7-7 7 5 19 12 8-8 0-15-3-41-2-7-10 0-12-12 0-5-5-2-19 14-7 5-12-2-8 9-14 5-22-2-11 9-2-2-7-9-4 5-6-6-7-4-20 7-3-3-21 3-17 5-16 10-5-5-17 0-15 12-12 0-14 10-17 0-15-5-3-7-29 11-19-2-15 5-15 12-18 12-10-5-6 3-6 0-28 19-9 5-17-2-5 14-15 23 5 9 12 7-14 20 0 2 4 32 28 14 2 20 14 17 6 4 7-17 26 17 5 18 1 14-1 15-14 4-15 8-4 9 11 0 13-27 17-19 17zM1983 2523l7 9 8 12 22 11 22 4-7 8-15 1-9-6-11 0-17 0z"/>
<path fill="#faed19" d="M1966 1928l-14 12 4 26 1 27-5 37-5 36-5 32-7 22 0 21-5 13 5 26-8 25-12 27-10 28-7 1 2 19 5 17-9 10-5 33 5 27 12-27 5 10-12-5 12 15-8 26-4 8-17-15-5 29-15 13 15 5 10 0-18 14-7 17 1 29 9 10-5 10 7 12 20 9 22 15 22 7 2-5-7 1 10-17 26-6 20-4-8 0-15-3-41-2-7-10 0-12-12 0-5-5-2-19 14-7 5-12-2-8 9-14 5-22-2-11 9-2-2-7-9-4 5-6-6-7-4-20 7-3-3-21 3-17 5-16 10-5-5-17 0-15 12-12 0-14 10-17 0-15-5-3-7-29 11-19-2-15 5-15 12-18 12-10-5-6 3-6 0-28 19-9 5-17-2-5-12 3-6-24-11-18 7-17-9-7-3-12zM1983 2523l0 39 17 0 5 7-14 5-18-2-13-5-18-2-22-9-17-10-24-19 15 3 24 12 22 7 9-9 5-12 17-6zM1886 2341l12 0 2 26-14-2z"/>
<path fill="#adb3b9" d="M2109 2510l20-10 14 4 11-6 13 7-5 6-23 5-7-6-15 8z"/>
<path fill="#fec70b" d="M3234 577l-2 15 7 19 5 17 19 13 20 2 16-10 23-10 7-9 7 12 10 2 4-16 10-10-2-13 10-4-12-5-1-30 20-11 12-1 0-16 10-17 14-3 17-22 15-9 12-7 32 2 5-10 7-2 17-3 12 10 19 2 25 0 16-7 6-14 29-5 19 7-2 10 22-10 12 2-13-9 17-3-28-7-22-7-40 0-23 2-25 12-29 2-36 6-22 9-29 7-25 10-21 5 23 5-31 24-10 12-16 12-16 7-16 15-20 3-24 9-19 8zM3333 278l45 25 9 7 43 17 25-15 59-11-42-10 26-12-35-8-51 3-34-2zM3460 266l63 12 77-2 8-10-68-5zM3514 315l43-3-25-11z"/>
<path fill="#fbae14" d="M3338 628l3 10 12 14 15 18 0 16 22 1 9-13 22-2 9-14 5-15 3-12 32-15-5-10-22-9-2-17 11-17 34-15 28-14-6-13 20-9 24-2 8 0-8-11 3-7-7-9-1-8-38-17-17-2-5 10-32-2-12 7-15 9-17 22-14 3-10 17 0 16-12 1-20 11 1 30 12 5-10 4 2 13-10 10-4 16zM3457 660l12-7 5-8-12 1zM3428 674l12-19-10 10z"/>
<path fill="#fec20e" d="M3499 454l17-3 12 10 19 2 25 0 16-7 6-14 29-5 19 7-2 10-8 4 7 12 20 8-15 14 17 20-7 14 15 12-10 8 25 14-3 6-39 23-20 10-31 3-26 7-27 3 0-8-25-5 3-17-8-17 6-10 18-11 35-17 14-5-2-6-19-6-8 0 0-11 3-7-7-9-1-8-38-17-17-2z"/>
<path fill="#f68a1e" d="M3287 684l0-21 8-5 17-1 17-9-3 19 8 3-12 9-8 12-4 6-15-1 0-9zM3334 680l26-5 5 9-12 12-17-7zM3316 686l15 0-2 6-12-1z"/>
<path fill="#f5831f" d="M3052 779l24-5 14 2 8-9 19 2 15-3 22 0 12-4 7-5-14-3 7-6 12-15-20-5-6-5-5-5-5-15-12-2-8-15-9-7-17-2 7-7 10-10 5-10-25-2-14 2 17-17-32 0-10 13-9 12 9 16-2 15 15-5-3 10 3 3 21-1 10 15-2 10-22 2-5 8 10 9-20 7 19 7 20 1-10 4-12 0-15 15zM3054 699l-10-8-24 1 3 9-12 2 9 6 10 0 12 0 13-5zM3022 652l22-14-14 8zM3122 599l10 2-5 10zM3091 624l14-1-7 6z"/>
<path fill="#fce70f" d="M3042 709l-12 0-10 0-9-6 12-2-3-9-12-1-5 10-24 7 2 13 10 5-7 16-8 6 10 6 24-6 22-5 12-3 3-14-2-13z"/>
<path fill="#fecd08" d="M3118 891l11-18 1-17-1-9-17-17-11-8-27-7-5-9 24-7 29 4-5-19 12 0 3 5 20-1 19-11 5-13 16-4 5 5 6 0 17 15 11-1 15 9 3 0 5 0 9 5 24 3-9 12-2 12-5 2-8 0-12 13 1 5 8 0 5 7 0 5 5 7-7 5 5 13 9 2-2 7-15 10-33-5-25 5-2 10-20 4-19-9-7 4-31-7zM3297 905l12-7 3 14-7 13-6-3z"/>
<path fill="#f7941d" d="M2996 917l0-12-7-7 24-13 21 3 23 0 18 3 15-1 27 1 6 7 31 7 7-4 19 9 20-4 1 11-16 12-22 3-2 5-10 10-7 14 7 10-11 7-3 12-12 3-12 12-22 0-17 0-10 7-7 6-8-1-5-7-6-8-16-4 0-5 5-7 3-5-7-5 5-10-6-10 6-2 4-10 1-14 7-5-5-8-9 0-3 1-10 0-5-8zM3188 956l14-5 5 5-7 5zM2862 1148l13-3-8 8zM2880 1153l7-3 0 6zM2904 1151l9-10 0 9zM2914 1136l7-3-1 5z"/>
<path fill="#f7941d" d="M2996 917l12-7 5 8 10 0 3-1 9 0 5 8-7 5-1 14-4 10-6 2 6 10-5 10 7 5-3 5-5 7 0 5-7 5-17-1 2-13-1-11-8-2-3-5 1-12 7-7 3-17z"/>
<path fill="#f47c20" d="M3310 697l7-3 18 10-1 7 18-3 10-5 18 6 9 5 5 11-5 3 5 7 5 8-2 6 7 11-7 2-5-2-3 4-14 3-6 4-13 3 4 6 2 8 9 3 9 7-7 8-5 2 2 12-7-2-8 0-12 4-15-2-2 5-9-5-5 2-19-6-3 4-14 0 2-12 9-12-24-3-9-5 0-7-2-4 2-12-3-17 10 0 4-6 5-16-4-6 4-4 13-1 4 5 12-9-4-7-2-9z"/>
<path fill="#f89b1b" d="M3252 720l14 0 4 6-5 16-4 6-10 0 3 17-10-4-11-7-15 3-13-1 9-4 15-26z"/>
<path fill="#f26821" d="M3205 756l13 1 15-3 11 7 10 4-2 12-4 0-2 11-15-9-9 2-12-9-8-7-7 0-3-5z"/>
<path fill="#f26821" d="M3252 777l2 4 0 7-5 0-3 0 2-11z"/>
<path fill="#fec20e" d="M3312 822l0 3-2 3 7 4 9 0 0 7-9 3-12-2-4 7-8 0-3-3-8 6-9 0-8-3-5-7-8 0-1-5 12-13 8 0 5-2 14 0 3-4z"/>
<path fill="#f25f22" d="M3438 811l-2 7-10 0 4 4-6 11-3 2-15 1-9 4-13-1-24-6-4-5-17 4-2 2-11-2-9 0-7-4 2-3 0-3 5-2 9 5 2-5 15 2 12-4 8 0 7 2-2-12 5-2 7-8 12 6 10-7 6-2 14 6 8-2 7 4z"/>
<path fill="#fecd08" d="M3277 879l-9-2-5-13 7-5-5-7 0-5 8 3 9 0 8-6 3 3 8 0 4-7 12 2 9-3 0-7 11 2 2-2 17-4 4 5 24 6-2 8 4 7-14-2-14 5 2 9-3 5 6 8 15 9 9 13 19 15 13 0 5 4-5 4 16 5 11 5 16 9 1 3-3 6-10-8-14-2-8 10 13 7-2 9-8 1-8 14-7 2 0-5 3-10 4-3-7-9-5-10-7-2-5-7-10-4-9-6-12-1-13-8-16-12-11-8-6-17-8-3-14-6-8 4-10 6zM3412 980l-6 13 3 5-3 9-14-7-8-2-24-8 3-9 19 1 24-1zM3288 933l17-4 11 12-2 22-9 0-6 5-7-5 0-21z"/>
<path fill="#f89b1b" d="M3389 714l12-4 27-7 20-6 17 2 2 5 16 0 21 2 31 0 13 2 0 5 6 13-11 10 5 9 0 7 9 15-2 5-8 2-15 14 5 7-4-1-17-6-12 3-8-2-10 4-9-7-7 2-1 0-7 3-4 0-1 4-8-17-2-6-11-1-3 5-9-9 1 0-13-2-8-5-7-11 2-6-5-8-5-7 5-3z"/>
<path fill="#f26821" d="M3437 803l-7-4-8 2-14-6-6 2-10 7-12-6-9-7-9-3-2-8-4-6 13-3 6-4 14-3 3-4 5 2 7-2 8 5 13 2-1 0 9 9 3-5 11 1 2 6 13 13-4 0-1 4-4 3-7 1-6 0z"/>
<path fill="#f36f21" d="M3469 788l1 0 7-2 9 7 10-4 8 2 12-3 17 6-5 5-3 7-4 2-18-5-11 5-6 2-3-2-8 3-6 0-2 4-14 2-7-2-8-4-2-7 1-1 3-4 6 0 7-1 4-3 1-4 4 0z"/>
<path fill="#faa817" d="M3424 833l6-11-4-4 10 0 2-7 8 4 7 2 14-2 2-4 6 0 8-3 3 2 6-2 11-5 18 5 4-2 8 4 2 5-10 3-9 12-10 12-14 3-10-1-13 5-6 1-15-2-12-8-5-1-3-6z"/>
<path fill="#f36f21" d="M3384 839l13 1 9-4 15-1 3-2 4 0 3 6-13 5-2 6-7 2 0 4-7 0-5-2-3 2-12 0 4-2-4-7z"/>
<path fill="#f7941d" d="M3469 849l4 7 6 5-7 5-8-3-11 0-15-2-8 0-4 3-6-3-3 6 7 8 6 6 6 5 7 4 7 7 15 7-2 2-17-5-10-6-15-5-14-12 4-2-9-7 0-7-10-1-6 6-4-5 0-6 12 0 3-2 5 2 7 0 0-4 7-2 2-6 13-5 5 1 12 8 15 2z"/>
<path fill="#c8da2b" d="M3472 866l7 0-5 8 8 6-2 8-5 2-2 1-6 4-2 9-15-7-7-7-7-4-6-5-6-6-7-8 3-6 6 3 4-3 8 0 15 2 11 0z"/>
<path fill="#f7941d" d="M3504 857l10 4 2 6 9 6 7-4 3 2-3 3 2 4-4 3 2 7 8 7-7 5-3 5 2 1-2 4-9 0-5 1-13 2-5 2-4-5-3-5 3-5-6-4-6-1-7-5 5-2 2-8-8-6 5-8-7 0 7-5-6-5-4-7 13-5 10 1z"/>
<path fill="#faed19" d="M3475 890l7 5 6 1 6 4-3 5-7-2-7 9 2 5-9-7-7-4 2-2 2-9 6-4z"/>
<path fill="#e3e21d" d="M3479 917l-2-5 7-9 7 2 3 5 4 5 1 2-1 7 1 6 7 5 0 4-5 3-2 5-7 14-3-7-1-3-9-6-2-8 3-17z"/>
<path fill="#faa817" d="M3498 915l5-2 13-2 5-1 9 0 8 5 1 12-3 0-3 3-9-1-6 5-12 1-7-5-1-6 1-7z"/>
<path fill="#e3e21d" d="M3492 961l7-14 2-5 5-3 0-4 12-1 6-5 9 1 3-3 3 0 13 0 13-5 12 7 16-11 8 4-5 12-4 1-10 0-10-1-20 3 12 10-9 3-10 0-8-9-4 3 4 11 9 8-7 4 9 7 10 6 0 9-16-4 5 8-10 2 6 15-11 0-14-7-7-13-3-12-7-9zM3552 1022l8 5 14 0 14 1 8 1-2 5-25 2 0-4-21-3z"/>
<path fill="#e6e31c" d="M3534 878l5 6 6-1 14 3 25 0 8-3 19-5 13 6 11 2-9 7-6 12 5 10-15-2-17 5-16 11-12-7-13 5-13 0-1-12-8-5 2-4-2-1 3-5 7-5-8-7-2-7z"/>
<path fill="#f9a119" d="M3535 815l7-4 12 2 18 5 5-3 12-2 5-3 7 0 5 1 5 5 6 7 10 10 1 7-2 9 2 7 9 3 8-3 7 3 0 4-8 4-5-1-4 20-11-2-13-6-19 5-8 3-25 0-14-3-6 1-5-6-2-4 3-3-3-2-7 4-9-6-2-6-10-4-12-12 14-3 10-12 9-12z"/>
<path fill="#faed19" d="M3601 810l15-6 13 6 7 1 8 5-1 6 6 2 3 7 5 4-1 4 3 1-4 1-10-1-2-1-3 1 0 3-4 5-3 6-5 2-2-7 2-9-1-7-10-10-6-7-5-5z"/>
<path fill="#f89b1b" d="M3690 743l6 1 4-4 5 2 18-2 11 8-5 4 1 6 14 1 7 6-1 4 21 7 14-4 10 9 10 0 25 5 0 5-6 8 3 11-3 5-15 1-10 5-1 7-13 2-11 5-16 1-15 6 1 11 8 4 18-1-4 6-18 4-23 8-10-3 3-8-16-4 1-3 17-6-5-5-27-3 0-7-16 2-6 9-14 13-7-3-8 3-9-3 5-2 3-6 4-5 0-3 3-1 2 1 10 1 4-1-3-1 1-4-5-4-3-7-6-2 1-6-8-5-7-1-13-6-15 6-7 0-5 3-12 2-5 3-18-5-12-2-7 4-2-5-8-4 3-7 5-5 4 1-5-7 15-14 8-2 2-5-9-15 9 0 10-5 12 0 17 1 20 4 12 0 7 3 7-3 4 3 16 0 7-7 5-4 7-1z"/>
<path fill="#f47920" d="M3548 713l17 0 17-7 6-9 13-6-1-7 10-4 18-6 17 5 4 3 8-2 17 5 1 7-3 5 11 11 7 4-2 2 12 4 5 4-7 4-14-1-3 2 4 6 5 10-9 0-7 1-5 4-7 7-16 0-4-3-7 3-7-3-12 0-20-4-17-1-12 0-10 5-9 0 0-7-5-9 11-10z"/>
<path fill="#f47620" d="M3535 706l-1-5 2-5-8-2-17-3-4-15 19-4 29 0 17-2 2 4 8 1 18 9 1 7-13 6-6 9-17 7-17 0 0-5z"/>
<path fill="#f26821" d="M3507 676l1-13 8-10 16-6 13 13 14-1 3-13 15-2 7 2 16 6 13 0 9 5 1 7 5 10-18 6-10 4-18-9-8-1-2-4-17 2-29 0z"/>
<path fill="#f7941d" d="M3545 633l13-7 9-8 22-2 18 2 18 0 2 3-12 10 5 15-7 6-13 0-16-6-7-2-15 2 2-10-6 2-11 2zM3520 638l12-7 13 3-12 7z"/>
<path fill="#faed19" d="M3698 1032l10-5 14 0 15-5-10 11-2 1-15 7-8-2z"/>
<path fill="#faed19" d="M3392 1017l5 2-2 1z"/>
<path fill="#e6e31c" d="M3061 1021l10 7 16-1 18 4 7 0 7 11 1 10 5 18 5 4-3 7-23 2-7 7-10 1-1 13-20 6-6 9-14 5-17 2-27 13 0 20-3 0 1 9-11 0-6 4-7 0-6-2-15 2-5 13-6 1-8 22-23 18-6 24-7 7-2 7-38 1 1-8 6-5 6-9-2-5 6-12 10-11 5-3 5-10 0-9 7-10 11-7 11-17 8-7 16-2 14-11 8-5 14-14-4-21 7-15 2-9 11-11 17-8 13-7 11-18 5-10z"/>
<path fill="#e6e31c" d="M3002 1159l0 1-1 3 0 26-55-1 0 44-16 1-4 9 3 24-66 0-4 6 1-7 38-1 2-7 7-7 6-24 23-18 8-22 6-1 5-13 15-2 6 2 7 0 6-4 11 0-1-9z"/>
<path fill="#faed19" d="M3353 1230l-58 32-49 34-24 7-19 2 0-11-8-3-11-4-4-8-57-37-58-37-64-42 1-3 0-1 0-20 27-13 17-2 14-5 6-9 20-6 1-13 10-1 7-7 23-2 3-7-5-4-5-18-1-10-7-11 16-9 19-3 11-7 16-5 29-3 28-2 8 3 16-7 19 0 7 4 11-1-3 9 2 16-4 14-10 9 1 13 14 10 0 4 11 7 7 31 6 15 1 8-3 14 1 7-2 10 1 10-7 7 10 13 1 7 6 10 8-4 14 8z"/>
<path fill="#e3e21d" d="M3310 1114l-7-31-11-7 0-4-14-10-1-13 10-9 4-14-2-16 3-9 19-7 12 2-1 9 15-7 1 4-9 8 0 8 6 4-2 15-11 8 3 10 9 0 4 8 6 3-1 13-8 5-5 5-12 7 2 7-2 7z"/>
<path fill="#faed19" d="M3401 1240l-12 7-9-10-27-7-7-11-14-8-8 4-6-10-1-7-10-13 7-7-1-10 2-10-1-7 3-14-1-8-6-15 8-4 2-7-2-7 12-7 5-5 8-5 1-13 20 6 7-2 15 3 22 7 8 16 15 3 24 7 19 8 8-4 8-8-4-13 5-8 12-8 12-2 23 3 6 8 6 0 6 3 17 2 4 5-6 8 2 8-4 10 5 14 0 60 0 63 0 34-20 0 0 7-68-32-67-33z"/>
<path fill="#dce021" d="M3776 1255l-68 0-66 0-68 0 0-63 0-60-5-14 4-10-2-8 6-8 23 0 16 5 17 4 7 3 14-5 7-5 15-2 12 3 4 8 4-5 14 4 13 1 9-5 11 30-5 6-4 13-4 9-4 3-6-5-8-8-12-24-2 1 7 18 11 17 13 27 6 9 6 9 15 19-4 3 1 11 20 16z"/>
<path fill="#f4ea1a" d="M2859 1272l4-6 66 0-3-24 4-9 16-1 0-44 55 1 0-26 64 42-26 0 9 73 8 73 3 3-4 12-68 0-3 4-7-2-9 4-12-5-5 0-3 10-6 3-11-11-10-13-12-4-8-5-9 0-9 4-8-2-6 6-1-9 4-9 2-16-1-17-2-8 1-9-4-8z"/>
<path fill="#a4cf39" d="M2942 1380l6-3 3-10 5 0 12 5 9-4 7 2 3-4 68 0 4-12-3-3-8-73-9-73 26 0 58 37 57 37 4 8 11 4 8 3 0 11 19-2 0 40-10 11-1 10-15 3-23 2-7 6-11 0-11 0-4-3-9 3-16 6-3 6-13 7-3 5-7 3-8-2-5 4-2 12-14 14 1 6-5 7 1 10-7 2-4 2-3-7-4 2-3 0-3 5-14-1-4-2-3 1-5-4 1-5-2-2-4 1 1-5 4-5-7-7-2-5-4-3-4-1-4 3-5 2-5 4-7-2-5-4-3-1-4 3-3 0-1-6 1-6-1-6-7-5-3-10z"/>
<path fill="#b6d432" d="M2865 1398l-7-13-9-6 8-4 8-12 4-8 6-6 8 2 9-4 9 0 8 5 12 4 10 13 11 11 1 11 3 10 7 5 1 6-1 6-2 0-9-1-2 2-4 0-12-4-8 0-31-1-5 2-6 0-9 3-2-14 15 1 4-3 3 0 7-4 7 4 7 0 8-4-4-4-5 2-6 0-6-4-6 0-4 4z"/>
<path fill="#b6d432" d="M2863 1405l2-7 18-1 4-4 6 0 6 4 6 0 5-2 4 4-8 4-7 0-7-4-7 4-3 0-4 3z"/>
<path fill="#9dcd3b" d="M2892 1441l-9-7-8-1-3-5 0-2-5-4-2-3 9-3 6 0 5-2 31 1 0 6-2 2 1 5-2 2-4 0-4 3-6 0z"/>
<path fill="#8cc73f" d="M3006 1498l-5 0-4 7-5 0-3-4 1-7-7-10-4 2-4 0-5 1 1-6-3-5 0-5-3-7-5-6-14 0-4 3-4 1-3 3-2 5-9 8-8-10-6-7-5-2-4-4-2-7-2-4-5-3 7-8 6 0 4-3 4 0 2-2-1-5 2-2 0-6 8 0 12 4 4 0 2-2 9 1 2 0 1 6 3 0 4-3 3 1 5 4 7 2 5-4 5-2 4-3 4 1 4 3 2 5 7 7-4 5-1 5 4-1 2 2-1 5 5 4-3 2-1 6 4 7 4 13-6 2-2 3 1 3-1 7z"/>
<path fill="#8cc73f" d="M2955 1514l-5-2-12-6-9-10-3-6-2-12 9-8 2-5 3-3 4-1 4-3 14 0 5 6 3 7 0 5 3 5-1 6 5-1-8 8-8 9 0 5z"/>
<path fill="#8cc73f" d="M3018 1555l-4 0-18-8-15-13-15-9-11-11 4-6 0-5 8-9 8-8 4 0 4-2 7 10-1 7 3 4 5 0 4-7 5 0-1 5 1 9-3 7 5 5 5 1 7 7 1 7-2 2z"/>
<path fill="#92c93d" d="M3100 1544l-7 0-12-3-11 0-20 3-12 5-17 6-3 0 1-14 2-2-1-7-7-7-5-1-5-5 3-7-1-9 1-5 2 0 1-7-1-3 2-3 6-2-4-13-4-7 1-6 3-2 3-1 4 2 14 1 3-5 3 0 4-2 3 7 4-2 7-2 8 3 3 6 7 4 6-5 8 0 12 4 4 24-7 15-4 19 7 14z"/>
<path fill="#9dcd3b" d="M3101 1465l-12-4-8 0-6 5-7-4-3-6-8-3-1-10 5-7-1-6 14-14 2-12 5-4 8 2 7-3 3-5 13-7 3-6 16-6 9-3 4 3 11 0-1 9 2 7 10 11 0 9 20 3 0 12-4 5-8 2-4 7-6 2-15 0-7-2-6 3-7-1-30 1 0 9z"/>
<path fill="#7ac143" d="M3167 1528l-27 10-9 6-15 5-16-5 1-7-7-14 4-19 7-15-4-24-2-13 0-9 30-1 7 1 6-3 7 2-1 5 7 9 0 12 2 13 4 7-4 15 2 9 4 10z"/>
<path fill="#8cc73f" d="M3181 1525l-14 3-4-6-4-10-2-9 4-15-4-7-2-13 0-12-7-9 1-5 15 0-2 9 5 5 6 6 1 8 3 4 0 39z"/>
<path fill="#9dcd3b" d="M3195 1523l-14 2-4-12 0-39-3-4-1-8-6-6-5-5 2-9 6-2 4-7 8-2 4-5 5-5 6 0 13 10 0 5 4 11-4 6 2 5-8 11-6 5-3 10 1 11z"/>
<path fill="#b6d432" d="M3401 1240l5 27 6 4 0 6 7 5-3 8-7 34-1 22-22 16-7 23 7 6 0 11 11 0-2 8-4 1-1 6-3 0-12-19-4 0-13 9-13-5-9-1-5 3-10-1-10 8-9 0-20-9-8 4-9 0-6-6-18-7-18 2-4 4-3 10-4 7-2 15-13-10-6 0-5 5 0-12-20-3 0-9-10-11-2-7 1-9 11 0 7-6 23-2 15-3 1-10 10-11 0-40 24-7 49-34 58-32 27 7 9 10z"/>
<path fill="#a7d038" d="M3195 1523l1-28-1-11 3-10 6-5 8-11-2-5 4-6-4-11 0-5 2-15 4-7 3-10 4-4 18-2 18 7 6 6 9 0 8-4 20 9 9 0 10-8 10 1 5-3 9 1 13 5 13-9 4 0 12 19 3 0 7 6-2 4-1 5-14 13-5 11-2 9-4 4-3 12-9 7-3 8-4 7-1 7-12 6-9-7-7 0-10 10-5 1-8 16-5 12-17 6-7-1-6 4-14 0-9-11-5-12-12-12-13 1z"/>
<path fill="#75c044" d="M3395 1410l2-8-11 0 0-11-7-6 7-23 22-16 1-22 7-34 3-8-7-5 0-6-6-4-5-27 18-9 67 33 68 32 1 68-15-2-7 13-5 10 4 4-6 6 2 7-4 7-2 6 6-1 4 7 0 9 6 6 0 4-11 3-9 6-12 19-16 8-16-1-5 1 1 6-8 6-8 7-21 6-4-3-3-1-3 5-14 1 2-5-5-11-2-8-8-2-10-10 4-8 8 1 4-1 10 0-9-15 0-12-1-11z"/>
<path fill="#b6d432" d="M3371 1590l-2 0-10 2-10-3-8 2-28-1 3-13-7-11-8-3-3-8-5-3 0-4 5-12 8-16 5-1 10-10 7 0 9 7 12-6 1-7 4-7 3-8 9-7 3-12 4-4 2-9 5-11 14-13 1-5 2-4-7-6 1-6 4-1 7 11 1 11 0 12 9 15-10 0-4 1-8-1-4 8 10 10 8 2 2 8 5 11-2 5-9 17-4 3-1 13 2 7-2 6 8 8 2 7 6 8 8 6 0 7 2 5-1 10-13-4-14-5z"/>
<path fill="#dce021" d="M3409 1503l14-1 3-5 3 1 4 3 21-6 8-7 8-6-1-6 5-1 16 1 16-8 12-19 9-6 11-3 2 7 9 10 1 7-3 7 1 6 6 5 13 7 9 7 0 6 12 8 7 8 4 10 13 7 2 5-5 2-11-1-13-1-6 1-3 4-5 1-7-4-19 9-8-2-2 1-5 10-13-3-12-1-11-7-14-6-9 6-7 9-1 12-11-2-12-2-10 9-9 15-2-5 0-7-8-6-6-8-2-7-8-8 2-6-2-7 1-13 4-3z"/>
<path fill="#dce021" d="M3313 1590l28 1 0 20-25 0-6 1-3-3zM3293 1570l7-4-3 7z"/>
<path fill="#e3e21d" d="M3338 1697l-18-18-11-14-10-17 0-6 4-5 4-13 3-12 6-1 25 0 0-20 8-2 10 3 10-2 2 0-1 8 5 9 13-2 4 4-8 19 8 10 2 14-2 11-5 8-15-1-9-8-1 8-12 2-6 4 7 11z"/>
<path fill="#dce021" d="M3370 1710l-6-6-6 3-7 8-13-18 13-10-7-11 6-4 12-2 1-8 9 8 15 1 5-8 2-11-2-14-8-10 8-19-4-4-13 2-5-9 1-8 22 1 14 5 13 4 1-10 9-15 10-9 12 2 11 2-1 10-5 9-4 10-2 15 1 10-3 6 0 6-2 6-11 8-8 9-8 16 1 14-4 6-10 8-10 10-6-3-2-4-9 0-6 6z"/>
<path fill="#8cc73f" d="M3673 1569l-1 20 7 3-6 6-6 4-6 9-4 8-1 14-4 6 0 13-5 5-1 10-2 1-2 9 5 8 1 21 3 15-2 9 4 10 9 9 10 22-7-2-23 3-5 2-4 11 3 7-3 20-2 17 5 3 12 7 5-3 1 18-13 0-7-9-6-7-13-3-4-9-11 6-13-3-6-7-11-2-8 0-1-5-6 0-7-1-11 2-7 0-4 1 1-20-6-6-1-11 2-10-3-6-1-11-20 0 1-6-8 0-1 3-11 1-4 10-3 4-9-3-6 3-11 1-6-9-4-5-5-10-4-13-51 0-6 2-4-1-8 3-2-6 4-1 1-8 3-4 6-4 4 2 6-6 9 0 2 4 6 3 10-10 10-8 4-6-1-14 8-16 8-9 11-8 2-6 0-6 3-6-1-10 2-15 4-10 5-9 1-10 1-12 7-9 9-6 14 6 11 7 12 1 13 3 5-10 2-1 8 2 19-9 7 4 5-1 3-4 6-1 13 1 11 1 5-2 11 14 7 2 5-3 8 1 9-3 4 7z"/>
<path fill="#f7ec1a" d="M3427 1729l4 13 5 10 4 5 6 9 11-1 6-3 9 3 3-4 4-10 11-1 1-3 8 0-1 6 20 0 1 11 3 6-2 10 1 11 6 6-1 20 4-1 7 0 11-2 7 1 2 5-2 8 3 8-2 7 1 5-35 0-1 54 12 14 11 11-32 7-41-3-12-8-68 1-3 1-10-8-11 0-10 3-9 3-1-11 2-15 6-15 1-7 6-16 4-7 9-11 6-7 2-13-1-10-5-6-5-10-4-10 1-4 5-6-5-17-4-11-8-11 1-3 8-3 4 1 6-2zM3360 1726l-4 1-5-12 7-8 6-3 6 6-6 4-3 4z"/>
<path fill="#bcd630" d="M3726 1468l-2 0 0-9-2-6-8-6-2-12 2-13-8-1-1 4-11 1 4 4 2 11-10 9-8 12-9 2-14-10-6 4-2 5-9 3-1 3-17 0-2-3-12-1-6 3-5-1-9-10-3-5-12 2-4 8-5 15-6 4-5 1-1 0-6-5-1-6 3-7-1-7-9-10-2-7 0-4-6-6 0-9-4-7-6 1 2-6 4-7-2-7 6-6-4-4 5-10 7-13 15 2-1-68 0-7 20 0 0-34 68 0 66 0 68 0 5 17-4 3 3 17 6 21 7 4 9 6-9 10-12 3-6 5-1 11-8 25 2 7-2 14-7 17-11 9-7 13-2 7-8 4-5 18z"/>
<path fill="#bcd630" d="M3673 1569l-15-11-4-7-9 3-8-1-5 3-7-2-11-14-2-5-13-7-4-10-7-8-12-8 0-6-9-7-12-7 5-1 6-4 5-15 4-8 12-2 3 5 9 10 5 1 6-3 12 1 2 3 17 0 1-3 9-3 2-5 6-4 14 10 9-2 8-12 10-9-2-11-4-4 11-1 1-4 8 1-2 13 2 12 8 6 2 6 0 9 2 0 1 13-3 6-9 0-6 10 11 1 8 8 3 7 8 4 10 18-11 12-11 10-10 8-12 0-14 3-11-3z"/>
<path fill="#81c341" d="M3869 1416l-6-6-7-10-7-5-5-6-14-7-12 0-4-4-10 4-11-7-5 12-20-3-2-7 8-25 1-11 6-5 12-3 9-10 10 20 5 15 9 9 23 16 9 9 10 10 5 6 8 5-5 4z"/>
<path fill="#8cc73f" d="M3881 1413l4 5 0 8-10 3 8 5-7 9-4-3-4 1-9 0 0-5-2-5 6-8 6-7 7 1z"/>
<path fill="#81c341" d="M3793 1375l11 7 10-4 4 4 12 0 14 7 5 6 7 5 7 10 6 6-6 7-6 8 2 5 0 5 9 0 4-1 4 3-3 6 6 10 6 8 7 6 55 20 14 0-48 51-22 1-15 12-11 0-4 5-12 0-7-5-16 7-4 7-12-1-4-3-4 1-5 0-21-15-12 0-6-5 0-10-9-3-10-18-8-4-3-7-8-8-11-1 6-10 9 0 3-6-1-15 5-18 8-4 2-7 7-13 11-9 7-17 2-14 20 3z"/>
<path fill="#8cc73f" d="M3994 1432l9-2 8-5 7 0 0 4-1 10 0 9-4 6-5 19-8 19-10 21-15 25-14 19-20 23-17 14-26 17-16 13-18 21-4 9-4 4-10-14 0-62 15-20 4-5 11 0 15-12 22-1 48-51 12-14 8-11 0-8 0-18 0-7-10 1-14 4-15 5-18 2-17 5-8-1-8-7-3-7-5-3-7 9-3 6 6 10 6 8 7 6 55 20 14 0 12-14 8-11 0-33z"/>
<path fill="#dce021" d="M3846 1644l10 14-12 6-4 8-7 1-2 12-5 7-4 11-7 6-24-17-1-10-62-35-3-2 0-18 5-7 8-11 7-12-8-20-2-9-8-11 11-10 11-12 9 3 0 10 6 5 12 0 21 15 5 0 4-1 4 3 12 1 4-7 16-7 7 5 12 0-15 20z"/>
<path fill="#96ca3c" d="M3691 1647l-19-1-6 2-10 5-4-1 0-13 4-6 1-14 4-8 6-9 6-4 6-6-7-3 1-20 7-4 11 3 14-3 12 0 10-8 8 11 2 9 8 20-7 12-8 11-5 7 0 18z"/>
<path fill="#96ca3c" d="M3666 1648l7 10-1 10-5 2-9-1-5 10-11-2 2-9 2-1 1-10 5-5 4 1z"/>
<path fill="#96ca3c" d="M3667 1670l1 7 4 4 0 5-4 4-7 9-6 6-7 1-1-21-5-8 11 2 5-10z"/>
<path fill="#9dcd3b" d="M3725 1645l3 2 62 35 1 10 24 17-7 20 1 10 10 6 1 5-5 10 1 5-1 8 6 11 7 17 6 3-13 10-19 7-10 0-6 5-12 0-4 2-21-5-12 2-5-23-6-8-3-5-17-3-10-5-10-3-7-3-7-4-10-22-9-9-4-10 2-9-3-15 7-1 6-6 7-9 4-4 0-5-4-4-1-7 5-2 1-10-7-10 6-2 19 1zM3815 1726l5 8-3 6zM3824 1712l3 5-3 4z"/>
<path fill="#92c93d" d="M3706 1786l8 8 4 14-3 5-3 13 3 14-5 6-5 16 9 4-52 15 2 12-13 2-10 7-2 6-6 1-15 14-9 11-6 0-6-2-19-1-3-2 0-1-6-4-11-1-14 4-11-11-12-14 1-54 35 0-1-5 2-7-3-8 2-8-2-5 6 0 1 5 8 0 11 2 6 7 13 3 11-6 4 9 13 3 6 7 7 9 13 0-1-18-5 3-12-7-5-3 2-17 3-20-3-7 4-11 5-2 23-3 7 2 7 4 7 3 10 3z"/>
<path fill="#8fc83e" d="M3737 1825l-5 13 5 22 5 0 7 5 7 12 1 22-7 4-5 12-12-11-1-12 4-8-1-7-7-4-5 2-9-9-9-4 5-16 5-6-3-14 3-13 3-5-4-14-8-8 17 3 3 5 6 8z"/>
<path fill="#8cc73f" d="M3737 1825l12-2 21 5 4-2 12 0 6-5 10 0 19-7 13-10 3 8-1 17 3 15 0 26 3 9-5 12-6 12-11 10-16 7-19 8-19 18-7 3-12 12-7 4-1 13 8 12 3 10 1 5 3 0-1 16-3 8 4 3-2 7-7 6-14 6-21 9-7 6 1 8 5 1-2 9-13-1-1-7-3-8-1-6 3-19-5-12-8-24 18-19 5-12 2-2 2-10-3-5 1-13 3-11 0-22-8-5-9-2-3-4-8-3-14 0-1-6-2-12 52-15 9 9 5-2 7 4 1 7-4 8 1 12 12 11 5-12 7-4-1-22-7-12-7-5-5 0-5-22z"/>
<path fill="#e0e11f" d="M3679 2007l-9-1-6 2-8-3-7 0-11-8-13-3-5-11 0-5-7-2-19-19-6-10-3-3-7-13 19 1 6 2 6 0 9-11 15-14 6-1 2-6 10-7 13-2 1 6 14 0 8 3 3 4 9 2 8 5 0 22-3 11-1 13 3 5-2 10-2 2-5 12z"/>
<path fill="#dce021" d="M3649 2005l-24 12-15 13-6 11-5 7-9 1-3 8-2 5-10 4-14-1-9-4-7-2-8 3-4 9-8 5-9 7-12 2-4-6 2-10-10-16-5-3 0-50 17 0 0-61 13 0 26-6 7 7 11-7 5 0 9-4 3 2 7 13 3 3 6 10 19 19 7 2 0 5 5 11 13 3z"/>
<path fill="#e6e31c" d="M3427 2115l-13-13-6-22-4-19-4-24-6-3 0-20-3-9-6-7-9-14-9-21-10-19-9-21 9-3 10-3 11 0 10 8 3-1 68-1 12 8 41 3 32-7 14-4 11 1 6 4 0 1-9 4-5 0-11 7-7-7-26 6-13 0 0 61-17 0 0 50 0 63-15 8-9 2-11-3-7-2-3-7-7-5z"/>
<path fill="#f7ec1a" d="M3685 2126l-3 3-8 8-4 9-10 12-19 18-12 10-13 8-18 6-9 1-2 5-10-2-8 3-19-4-10 3-7-1-18 6-14 3-11 7-7 0-8-6-5-1-8-7-1 2-2-4 0-10-5-12 5-3 0-13-11-16-9-14-12-22 8-9 7 5 3 7 7 2 11 3 9-2 15-8 0-63 5 3 10 16-2 10 4 6 12-2 9-7 8-5 4-9 8-3 7 2 9 4 14 1 10-4 2-5 3-8 9-1 5-7 6-11 15-13 24-12 7 0 8 3 6-2 9 1 8 24 5 12-3 19 1 6-8-3-5 1-2 5-4 7 0 6 10 9 10-2 3-8 13 1-4 12-2 14-5 8z"/>
<path fill="#9dcd3b" d="M3642 2121l6 5-6 9-3 5-9 3-3 5-6 2-13-13 9-11 9-7 8-3z"/>
<path fill="#dce021" d="M3694 2083l-3 8-10 2-10-9 0-6 4-7 2-5 5-1 8 3 3 8z"/>
<path fill="#8cc73f" d="M3991 1841l5 7 4 12 3 20 4 8-2 8-3 5-5-10-4 5 4 13-2 7-5 4-1 14-6 20-9 24-10 32-7 23-7 20-14 4-15 7-10-4-13-6-5-9-1-15-6-14-2-12 3-12 8-3 0-6 8-13 2-11-4-8-3-10-2-16 6-10 3-10 8-1 9-4 7-3 7 0 10-9 14-11 5-8-2-8 7 2 9-11 1-11 5-7z"/>
<path fill="#bcd630" d="M3885 1823l3 8-5-1zM3902 1835l3 5-5-2z"/>
<path fill="#bcd630" d="M2746 1372l5 2-3 2zM2721 1340l5-2-4 5z"/>
<path fill="#bcd630" d="M3260 1624l3-2-2 5z"/>
<path fill="#faed19" d="M4125 1971l5 1-4 6z"/>
<path fill="#f47c20" d="M3674 446l19-5 25 10 43 3 77 22 10 17-19 9-27 5-75-12-17 2 31 12 1 25 36 9 3-9-11-7 11-5 41 9 16-4-12-11 39-17 15 1 17 5 8-12-13-10 8-10-13-10 47 7 11 8-21 2 0 10 12 5 27-3 4-10 95-24 13 1-17 11 21 1 12-5 32-2 26-6 18 10 21-10-19-10 10-7 49 7 24 5 62 18 11-8-17-9-1-5-21-1 7-7-10-14 0-5 31-15 11-16 12-3 46 3 4 11-17 13 12 5 5 12-4 24 19 10-9 12-32 24 19 2 7-5 18-6 5-8 15-9-9-8 6-12-18-2-4-8 14-17-22-14 30-12-3-12 8 0 9 9-7 17 19 2-9-12 29-7 35 0 31 9-15-14-1-18 29-3 41 0 37-1-14-10 20-11 19 0 34-8 44-4 5-4 46-1 14 4 37-10 33 1 3-8 17-7 41-7 29 5-24 5 39 2 3 9 17-4 50 0 37 9 14 6-4 9-18 4-45 10-13 5 20 2 26 4 15-3 8 12 8-5 28-3 55 3 3 8 71 3 2-13 36 2 27 0 27 9 8 11-10 7 21 14 27 6 16-17 28 7 29-4 32 5 12-4 29 2-12-16 23-7 152 11 15 10 44 13 69-4 34 3 14 7-2 13 20 5 24-3 30-2 31 4 33-2 30 15 21-5-14-11 8-8 53 5 36-1 49 8 24 8 0 67 0 1-22 8-22-2 15 9 10 14 9 4 1 7-5 5-30-4-48 12-15 3-26 12-25 10-7 8-24-12-44 13-8-6-16 8-24-3-5 12-20 16 1 7 19 4-2 24-16 1-7 14 7 7-29 9-7 20-26 4-5 17-23 16-7-12-7-25-10-38 8-23 15-11 1-7 27-4 30-21 29-18 31-13 14-24-22 1-10 14-43 19-14-21-44 6-43 28 15 11-38 4-26 2 1-12-26-3-23 8-51-3-56 5-55 33-65 41 27 2 8 10 17 4 11-8 18 1 25 18 0 15-13 17-1 20-8 27-26 25-6 12-56 49-23 10-11 0-10-8-23 13-3 5-2-3 0-8 8-1 3-20-5-14 15-6 21 3 11-17 6-19 7-6 9-15-29 5-14 7-26 0-7-16-20-12-30-6-6-17-6-10-6-7-11-17-15-7-25-5-23 1-21 3-14 8 9 4 0 10-9 5-15 18 0 8-24 10-20-6-21 1-9-5-10-2-25 12-22 3-16 4-21-3-16 0-10-8-17-9-17-2-21 2-16 3-25-7-3-12-20-5-15-2-19-7-18 18 7 10-17 12-24-5-17 0-11-8-18 0-15-6-26 8-32 15-18 3-7 1-9-10-22 2-7-7-12-3-8-10-10-3-24 4-23-10-9 9-38-43-22-13 6-5-43 16-16 1 2-10-22-5-18 4-5-18-31-4-15 8-43 6-8 4-64 6-7 6 12 11-16 5 3 4-17 9 28 11-4 8-24 0-5 5-22-9-27 0-18 7-20-7-37-11-27 0-35 19-2 12-18-10-13 19 5 3-10 13 14 12 13-1 11 12-2 8 9 3-8 10-16 3-17 18 15 16-2 11 19 20-10 7-3 4-8-1-11-10-5-1-11-4-5-7-16-3-10 3-3-4-23-8-25-2-15-3-2 2-21-15-20-6-14-10 12-3 14-14-10-7 26-7-1-3-15 2 0-7 9-5 17-1 2-6-4-9 7-9 0-5-25-6-10 0-10-7-13 2-22-6 0-3-6-8-13 0-2-6 5-3-11-10-18 2-5-1-4 4-7-1-4-11-4-5 3-2 14 1 7-4-5-5-12-2 1-3-7-4-10-11 3-4-1-8-17-4-9 2-2-5-18-4-5-10-2-8-8-4 7-5-5-16 12-10-2-3 19-10-18-7 37-22 15-10 7-9-25-11 6-11-15-13 12-15-20-19 16-13-26-11 2-12 14-2 29-7zM3483 704l4-8 24-5 17 3 8 2-2 5 1 4-31 1zM89 457l42 13 44 17-1 10 11 4-4-12 46 3 34 15-17 8-28 2-1 16-6 4-16-1-13-6-23-5-4-7-17-3-19 2-9-6 3-6-20 4-2 15zM5563 704l15 4 5 23 2 21 22 44-24-5-10 24 15 18 0 12-12-11-11 14-4-15 2-16-2-19 4-13 1-22-10-17 2-23zM4024 407l18 15 20 3 32 2 32 0-10-12-22-1-3-16 10-10 25-14 18-8 25-12 27-5 50-7 28-19 34-1 11 7-11 5-61 8-61 17-39 12-37 12-16 8-36 2zM4779 248l34 8 39 16-5 16-36 2-48-5-28-6-13-12-23-3 45-12zM4850 273l67 22 19 3-97 7 10-17zM4871 283l26-2 44 10-41-5zM5509 335l45 0 62 9-14 13-63 0-28 4-34-11 9-12zM5633 351l35-3 43 5-19 6-27-2zM5527 381l38 4 25 0-2-5-58 3zM5665 348l43 4zM6187 420l22-6 0 11-19 1zM89 414l41 3-1 3-18 4-22 1zM3931 261l68 8 25-12-45 7-2-9-21-1zM3911 259l47 8zM3970 453l20 6 12-6-20-5zM4147 434l31 7-16-10zM5799 774l4-8-12 6zM5747 825l5-3-21 11zM5663 857l31-8-48 24zM5622 884l19-10-12 4z"/>
<path fill="#faa817" d="M4634 792l-9-10-22 2-7-7-12-3-8-10-10-3-24 4-23-10-9 9-38-43-22-13 6-5-43 16-16 1 2-10-22-5-18 4-5-18-31-4-15 8-43 6-8 4-64 6-7 6 12 11-16 5 3 4-17 9 28 11-4 8-24 0-5 5-22-9-27 0-18 7-20-7-37-11-27 0-35 19-2 12-18-10-13 19 5 3-10 13 14 12 13-1 11 12-2 8 9 3 16-3 19-8 15 4 17 0 3 10-3 17-15-3-15 3 0 12-17-1 1 5 9 4 8 16 20 6 3 6-4 11 1 0 26-9 12 4 12 14 8-1 0-63 44-10 43 20 16 16 20-3 29-1 21 12-2 17 9 0 3 14 22 1 4 8 7 0 7-12 23-12 9-4 4-7 42-7-3 10 13-13 24 7 34-1 25 1 9 6 10 3-1-10 12-4-16-30 34-6 9-4 12-31 34 6 9-8 1-17 14-1z"/>
<path fill="#dce021" d="M4100 927l0-63 44-10 43 20 16 16 20-3 29-1 21 12-2 17 9 0 3 14 22 1 4 8 7 0 7-12 23-12 9-4 5 2-14 11 13 7 12-5 20 9-22 12-13-1-7 0-2-4 3-8-22 4-6 10-8 10-14-1-5 8 13 4 4 12-10 18-13-4-9 0 0-10-22-8-18-8-11-8-20-12-8-17-6-4-18 1-7-3-1-14-23-9-15 10-14 6 3 9z"/>
<path fill="#e3e21d" d="M4042 919l-1 0 6 11 2-13 13-4 5 10-5 11-13 0-4 14 11 1-4 12 13 6-2 18 3 12 15-4 12-9 11 0 8-3 12 1 18 9 14 2 19 15 13 1 2 14 17 6 13-2 3-8 14-2 9-5 4-14 14-3 3-6 8 4 5 1 0-10-22-8-18-8-11-8-20-12-8-17-6-4-18 1-7-3-1-14-23-9-15 10-14 6 3 9-20 0-8 1-12-14-12-4z"/>
<path fill="#e3e21d" d="M4355 910l4-7 42-7-3 10 13-13 24 7 34-1 25 1 9 6 10 3-2 4-27 9-6 7-22 2-6 11-18-3-12 4-16 8 2 4-4 4-33 2-21-5-18 1 2-10 18 3 6-5 13 1 22-12-20-9-12 5-13-7 14-11z"/>
<path fill="#96ca3c" d="M4356 945l-6 5-18-3-2 10 18-1 21 5 33-2 4 15 5-1 11 4-1 6 3 10-18 0-12-1-10 7-8 2-6 3-6-5 1-14-5-1 2-5-9-4-8 6-1 6-3 3-10 0-6 7-5-3-13 6-5-2 10-18-4-12-13-4 5-8 14 1 8-10 6-10 22-4-3 8 2 4z"/>
<path fill="#fecd08" d="M4641 791l18-3 32-15 26-8 15 6 18 0 11 8 17 0 24 5 17-12-7-10 18-18 19 7 15 2 20 5 3 12 25 7 16-3 21-2 17 2 17 9 10 8 16 0 21 3 16-4 22-3 25-12 10 2 9 5 21-1-9 13-12 17 5 7 9-2 17 2 13-6 14 5 15 12-2 6-13-2-25 3-12 4-12 12-26 6-17 9-18-3-9-2-9 11 5 7 3 5-12 6-12 9-20 6-25 1-28 6-20 9-7-5-21 0-25-11-17-2-22 2-35-4-19 1-10-10-8-16-10-2-21-11-23-2-20-3-6-7 6-20-11-14-25-6-14-9z"/>
<path fill="#b3d434" d="M5319 783l30 6 20 12 7 16 26 0 14-7 29-5-9 15-7 6-6 19-11 17-21-3-15 6 5 14-3 20-8 1 0 8-11-10-7 10-26 7 3 9-15 0-8-6-12 12-19 9-13 11-24 5-13 8-18 5 9-8-4-7 14-11-9-9-15 6-19 12-11 11-16 1-9 7 9 12 14 3 0 7 14 5 19-12 15 7 11 0 3 9-24 5-8 9-17 9-8 12 18 9 7 17 10 15 11 13 0 13-11 4 4 10 11 5-3 14-4 13-10 2-12 18-14 22-16 21-23 15-24 15-19 2-10 7-6-5-10 8-24 9-18 2-6 18-9 1-4-12 4-7-23-5-8 3-17-5-8-7 2-9-15-4-8-6-15 9-17 2-13 0-9 4-9 3 3 19-9 0-2-4 0-7-13 4-7-3-13-6 5-14-11-3-4-16-18 3 2-20 16-15 1-14 0-13-8-4-6-10-9 2-19-3 6-7-8-11-12 7-14-4-20 11-15 13-14 2-8-5-9 0-12-4-9 4-11 13-2-14-10 4-20-1-19-4-14-8-13-3-6-8-9-3-17-11-14-5-7 4-24-12-16-11-5-19 12 3 1-9-7-9 1-13-18-20-28-7-5-13-12-8-3-5-3-10 1-6-11-4-5 1-4-15 4-4-2-4 16-8 12-4 18 3 6-11 22-2 6-7 27-9 2-4-1-10 12-4-16-30 34-6 9-4 12-31 34 6 9-8 1-17 14-1 13-12 7-1 4 12 14 9 25 6 11 14-6 20 6 7 20 3 23 2 21 11 10 2 8 16 10 10 19-1 35 4 22-2 17 2 25 11 21 0 7 5 20-9 28-6 25-1 20-6 12-9 12-6-3-5-5-7 9-11 9 2 18 3 17-9 26-6 12-12 12-4 25-3 13 2 2-6-15-12-14-5-13 6-17-2-9 2-5-7 12-17 9-13 20 6 24-10 0-8 15-18 9-5 0-10-9-4 14-8 21-3 23-1 25 5 15 7 11 17 6 7 6 10zM5025 1311l-15 9-14-6 0-14 8-8 19-5 9 1 4 6-7 8z"/>
<path fill="#faed19" d="M5219 1214l-10 28-7 14-9-15-2-13 10-16 13-13 8 5z"/>
<path fill="#9dcd3b" d="M5370 908l2 3-6-1-8 6-5 6 1 12-9 4-3 3-6 5-12 2-7 5-1 8-1 1 6 3 10 8-2 4-8 1-12 1-6 7-8 0-1 1-8-3-2 3-5 2-1-4-4-1-5-3 5-7 4-2-2-3 5-10-2-2-9-2-8-5 13-11 19-9 12-12 8 6 15 0-3-9 26-7 7-10z"/>
<path fill="#faed19" d="M5331 973l15 20 4 11 0 19-6 10-16 3-13 7-16 1-2-9 4-13-8-17 13-3-12-15 1-1 8 0 6-7 12-1 8-1zM5294 1063l12-3-5 5z"/>
<path fill="#fde30a" d="M5546 998l-7 13 3 9-9 12-21 8-30 1-25 19-11-6-1-13-29 4-20 8-20 0 17 12-11 29-11 7-9-6 5-15-11-5-7-12 16-5 9-11 17-9 13-11 33-5 19 3 17-30 12 8 25-17 9-7 11-20-3-20 7-10 18-3 9 23 0 14-16 17zM5595 878l12 4 12-7 4 19-25 4-15 17-27-12-9 19-19 0-2-17 8-13 18-1 5-23 5-13 20 17zM5399 1060l10-10 9 2 7-7 13 3 2 6-10 11-7-6-8 4-5 10zM5320 1185l10-12-7 5zM5347 1148l7-3-4 6zM5366 1114l8-2-5 4z"/>
<path fill="#8cc73f" d="M4472 1026l18 20-1 13 7 9-1 9-12-3 5 19 16 11 24 12-11 8-6 16 16 6 16 8 22 10 24 2 9 9 13 1 21 4 14 0 2-7-2-11 1-7 10-4 2 14 0 3 16 7 10-3 15 1 14 0 1-11-7-5 14-2 15-13 20-11 14 4 12-7 8 11-6 7 19 3 1 6-6 3 1 11-12-3-22 11 1 10-10 14-1 8-7 15-13-4-1 17-4 6 2 7-9 4-8-27-5 0-3 11-9-8 5-10 8-1 7-15-9-3-16 1-16-3-2-11-8-1-13-8-6 12 12 9-11 6-4 6 11 5-3 10 6 13 3 14-3 6-11 0-21 4 1 12-10 10-24 12-19 20-13 11-17 11 0 7-8 5-16 6-8 1-4 13 3 22 1 14-7 16 0 29-9 1-8 13 5 5-15 5-6 12-7 5-16-16-8-24-6-17-6-8-9-17-4-21-4-11-15-23-7-33-5-22 0-20-3-16-25 10-12-2-22-21 8-6-5-6-20-15 11-11 38 0-4-15-9-8-2-13-11-8 19-18 19 2 18-18 11-18 16-17 0-12 14-10-13-8-6-11-6-15 8-8 26 4 19-2z"/>
<path fill="#c2d82e" d="M4427 998l12 8 5 13 28 7-16 14-19 2-26-4-8 8 6 15 6 11 13 8-14 10 0 12-16 17-11 18-18 18-19-2-19 18 11 8 2 13 9 8 4 15-38 0-11 11-13-4-4-12-14-13-31 3-28 0-24 3 7-20 24-9-1-8-8-2-1-15-16-8-7-10-8-9 28 9 17-3 11 2 3-4 12 2 22-7 0-15 10-9 13 0 1-5 14-2 6 1 6-4-1-11 8-10 10-4-6-11 16 0 5-6-1-6 8-8-2-8-4-7 10-8 19-3 19-2 9-3z"/>
<path fill="#b6d432" d="M4190 1023l17 6 13-2 3-8 14-2 9-5 4-14 14-3 3-6 8 4 5 1 9 0 13 4 5 2 13-6 5 3 6-7 10 0 3-3 1-6 8-6 9 4-2 5 5 1-1 14 6 5 6-3 8-2 10-7 12 1 18 0 3 5-10 2-9 3-19 2-19 3-10 8 4 7 2 8-8 8 1 6-5 6-16 0 6 11-10 4-8 10 1 11-6 4-6-1-14 2-1 5-13 0-10 9 0 15-22 7-12-2-3 4-11-2-17 3-28-9 15-16-1-10-13-3-1-11-6-14 7-9-7-3 5-12z"/>
<path fill="#96ca3c" d="M4647 1155l-1 7 2 11-2 7-14 0-21-4-13-1-9-9-24-2-22-10-16-8-16-6 6-16 11-8 7-4 14 5 17 11 9 3 6 8 13 3 14 8 19 4z"/>
<path fill="#bcd630" d="M4708 1157l7 5-1 11-14 0-15-1-10 3-16-7 0-3 11-13 9-4 12 4 9 0z"/>
<path fill="#96ca3c" d="M4724 1254l0 13-6-3 1 14-5-9 0-9-4-8-7-10-15-1 1 7-5 10-8-4-2 3-5-1-6-2-3-14-6-13 3-10-11-5 4-6 11-6-12-9 6-12 13 8 8 1 2 11 16 3 16-1 9 3-7 15-8 1-5 10 9 8 3-11 5 0z"/>
<path fill="#c8da2b" d="M4539 1501l-2 18-7 5-15 4-8-14-3-24 8-28 11 9 8 12z"/>
<path fill="#faed19" d="M4397 1556l3 2-2 5z"/>
<path fill="#faed19" d="M3910 997l-9-13 3-6-5-19 11-5 3 6 9 8 11 2 7 0 20-13 6-1 5 5-6 9 11 8 4 0 5 12 17 4 11 8 24 3 27-4 2-4 15-4 12-9 11 0 8-3 12 1 18 9 14 2 19 15 13 1 2 14-7 21-5 12 7 3-7 9 6 14 1 11 13 3 1 10-15 16 8 9 7 10 16 8 1 15 8 2 1 8-24 9-7 20-31-5-19-4-19-3-8-20-8-3-13 3-17 8-21-6-17-13-16-5-12-16-12-23-9 3-11-5-6 6-10-9 0-9-5 0 2-12-8-13-21-9-12-16 4-14 9-6-2-10-11-5z"/>
<path fill="#eee81b" d="M3921 1017l11 5 2 10-9 6-4 14 12 16 21 9 8 13-2 12 5 0 0 9 10 9-11-1-11-1-12 16-32-1-48-34-25-12-21-5-7-20 38-18 6-21-1-12 9-4 9-11 7-3 20 3 6 4 8-3z"/>
<path fill="#f4ea1a" d="M3776 926l25 7 20-3 14 2 20-9 19-1 16 8 3 6-2 9 13 4 6 5-11 5 5 19-3 6 9 13-8 3-6-4-20-3-7 3-19 3-10-1-19 7-14 0-9-3-19 4-5-3-1 10-5 3-4 4-7-8 7-6-11 1-14-4-11 10-26 2-14-9-18-1-4 8-12 2-17-10-18 1-10-17-13-10 9-13-11-8 19-16 26-1 7-13 33 2 20-11 20-4 28-1zM3592 935l4-2 5-11-8-4 17-5 15 2 2 6 15 6-3 4-20 1-8 5-14 9z"/>
<path fill="#faa817" d="M3808 1062l-33 18-19-7 2-3 0-7 4-9 9-6-2-7-8-1-2-13 5-7 4-4 5-3 1-10 5 3 19-4 9 3 14 0 19-7 10 1 19-3-9 11-9 4 1 12-6 21z"/>
<path fill="#ffdd00" d="M3758 1063l-5 1-1 2-6 0 6-13 9-12 0-1 8 1 2 7-9 6z"/>
<path fill="#fec20e" d="M3756 1073l-3 5-6-2-4 11 5 2-5 2 0 5 8-2 0 6-8 28-11-30 5-5-2-1 5-8 3-13 3-4 0-1 6 0 1-2 5-1 0 7z"/>
<path fill="#faed19" d="M3753 1078l0 11-2 5-8 2 0-5 5-2-5-2 4-11z"/>
<path fill="#e9e51c" d="M3753 1078l3-5 19 7 33-18 7 20-3 3-34 8 17 17-6 3-3 6-12 2-4 6-8 6-19-3 0-2 8-28 0-6 2-5z"/>
<path fill="#e6e31c" d="M3743 1130l19 3 8-6 4-6 12-2 3-6 6-3-17-17 34-8 3-3 21 5 25 12 48 34 32 1 15 2 4 8 12 0 7 14 8 4 3 6 12 7 1 7-2 6 2 6 5 4 2 6 3 4 5 3 5-1 3 7 1 4 6 17 51 8 4-3 7 12-11 34-51 17-49 6-16 8-12 18-8 3-4-6-7 1-16-2-3-1-20 0-5 2-7-5-4 8 2 8-8 5-2-7-5-5-1-7-9-6-9-14-5-14-12-12-7-3-12-16-2-12 1-10-10-19-8-6-9-4-5-10 1-3-5-9-5-4-7-13-10-13-9-12-8 0 2-9 1-6z"/>
<path fill="#faed19" d="M4052 1346l-12 5-4 7 0 6-17 7-27 8-15 12-8 1-5-1-10 7-11 3-14 1-4 1-4 4-5 2-2 4-9 0-5 2-12-1-4-10 0-9-2-5-4-13-5-7 4 0-2-8 2-3-1-8 8-5-2-8 4-8 7 5 5-2 20 0 3 1 16 2 7-1 4 6 8-3 12-18 16-8 49-6 13 28z"/>
<path fill="#faed19" d="M4088 1243l0-7 5-7 0-7 8-3-3-3 1-11 9 0 7 12 10 6 12 2 10 3 8 10 5 6 6 2 0 4-7 10-2 5-7 5-7 12-7-1-4 4-3 8 2 12-1 2-8 0-11 6-1 8-4 4-11 0-6 4 0 7-9 5-9-2-11 6-8 1-6-12-13-28 51-17 11-34zM4105 1192l-3-6 5-6 2 2-1 7z"/>
<path fill="#fec20e" d="M4026 1217l3-1 0 5 14-3 14 0 10 1 12-12 12-10 11-11 3 6 3 13-9 0-1 11 3 3-8 3 0 7-5 7 0 7-4 3-51-8-6-17z"/>
<path fill="#fec20e" d="M4013 1208l-1-12 4-9 5-2 5 5 0 10-3 10-5 1z"/>
<path fill="#fcb512" d="M3964 1119l4 8-1 4 5 13-12 0-4-8-15-2 12-16z"/>
<path fill="#fec20e" d="M4007 1184l3 0-1 6z"/>
<path fill="#fec20e" d="M3855 923l3-7-4-12-10-6-10-2-6-5 2-2 15 3 25 2 23 8 3 4 10-3 16 3 5 7 11 4-4 3 8 9-2 2-10-1-12-5-5 3-23 2-16-8z"/>
<path fill="#faed19" d="M3890 930l23-2 4 4 7 3-4 4 9 6-5 6 8 4 7 3 1 12-7 0-6-9 0-3-8 0-5-5-4 1-6-5-13-4 2-9z"/>
<path fill="#fce70f" d="M3914 953l5 5 8 0 0 3 6 9-11-2-9-8-3-6zM3954 928l8 1 3-4 10-7 9 9 9 12 7 1 6 5-14 1-3 13-3 6-6 4 0 9-4 0-11-8 6-9-5-5-6 1-20 13-1-12-7-3-8-4 5-6-9-6 4-4-7-3-4-4 5-3 12 5 10 1 2-2-8-9 4-3 5 1z"/>
<path fill="#c2d82e" d="M4841 1286l-10 7-12 1-7 18-8 3 9 15 10 13 7 11-6 15-6 3 4 8 12 14 2 9-1 8 7 16-9 16-9 17-1-13 5-12-6-11 2-18-7-9-6-20-3-22-7-14-11 9-20 12-9-2-11-4 6-21-4-16-13-19 2-6-10-3-12-13-1-14 6 3 0-13 9-4-2-7 4-6 1-17 13 4 7-15 1-8 10-14-1-10 22-11 12 3-1-11 6-3-1-6 9-2 6 10 8 4 0 13-1 14-16 15-2 20 18-3 4 16 11 3-5 14 13 6 7 3 13-4 0 7-14 11-4 6z"/>
<path fill="#fec70b" d="M4893 1422l-15-8-15 0 3-13-15 0-2 19-9 25-5 15 1 12 11 0 7 16 3 15 9 9 11 2 8 9-5 7-11 2-2-8-14-8-2 3-7-6-3-9-9-9-8-8-3 10-3-10 1-10 5-17 9-17 9-16-7-16 1-8-2-9-12-14-4-8 6-3 6-15-7-11-10-13-9-15 8-3 7-18 12-1 10-7 10-4 7 5 1 10 12 1-4 18 0 15 18-10 5 3 10 0 3-6 13 1 13 14 1 17 14 14-1 15-5 7-16-2-22 3-11 14z"/>
<path fill="#c8da2b" d="M4938 1386l5-7 1-15-14-14-1-17-13-14-13-1-3 6-10 0-5-3-18 10 0-15 4-18-12-1-1-10-7-5 4-6 14-11 2 4 9 0-3-19 9-3 10 13 7 16 21 0 7 15-11 4-5 6 21 11 14 20 11 15 12 12 5 12-4 17-15-7-7 12z"/>
<path fill="#e6e31c" d="M4986 1263l-23 14-14 16-4 12 13 18 16 22 16 11 10 13 8 32-3 30-14 11-19 11-14 14-21 16-6-11 4-12-12-9 14-7 18-1-7-11 28-13 2-20-4-11 4-17-5-12-12-12-11-15-14-20-21-11 5-6 11-4-7-15-21 0-7-16-10-13 9-4 13 0 17-2 15-9 8 6 15 4-2 9 8 7z"/>
<path fill="#fde30a" d="M4908 1448l-6-9-9-17-4-21 11-14 22-3 16 2 14 7 7-12 15 7 4 11-2 20-28 13 7 11-18 1-14 7z"/>
<path fill="#fce70f" d="M4867 1524l2 8 11-2 5-7 4 2 10 10 7 11 1 12-1 8 1 6 1 10 6 4 7 15 0 6-12 1-16-12-20-14-2-9-10-11-2-14-7-9 2-13-3-7 2-3zM5166 1553l-13 6-15-3-19 0-6 19-7 6-8 24-14 3-16-4-9 1-9 9-11-2-11 4-12-10-3-11 13 6 13-3 3-15 8-3 20-4 12-13 8-11 8 9 4-6 8 1 1-11 1-9 13-11 8-14 7 0 9 9 1 7 11 5 14 5-1 7-12 1z"/>
<path fill="#fce70f" d="M4910 1607l7-2-2 4z"/>
<path fill="#fce70f" d="M5090 1552l7-6 15-10-1 9-1 11-8-1-4 6z"/>
<path fill="#c8da2b" d="M4769 1534l37 6 16 16 22 19 15 18 19 0 24 26 12 8-7 14 10 6 7 0 2 13 6 8 12 2 9 11-4 21-1 26-19 1-14-14-22-15-7-10-13-13-9-13-13-24-14-14-6-15-6-13-15-11-9-14-13-10-17-18zM4937 1745l15-16 21 1 14 7 7 1 1 7 33 1 5-6 30 7 7 11 26 4 20 10-19 6-19-7-15 1-19-2-15-3-20-7-12-2-7 4-31-8-3-8zM5153 1559l-10 16 13 15-3 8 19 16-20 1-6 12 0 16-15 12-2 17-6 25-2-6-19 8-6-11-12-1-9-5-21 6-6-8-11 1-15-3-2-22-8-5-8-14-3-15 2-16 10-11 3 11 12 10 11-4 11 2 9-9 9-1 16 4 14-3 8-24 7-6 6-19 19 0zM5278 1605l-14 17-12 3-17-3-28 1-15 2-2 13 15 15 9-8 32-5-2 7-7-2-7 10-15 6 16 22-3 6 15 20 0 11-9 5-7-6 8-14-16 6-5-4 3-7-13-10 1-16-11 5 2 20 0 24-10 2-8-5 5-15-3-17-7 0-5-11 7-11 2-14 9-26 4-7 14-12 13 5 22 2 19-1 17-12zM5546 1673l0 111-15-14-17-3-4 5-22 0 7-14 12-5-5-19-9-13-32-15-14-1-25-16-5 8-7 2-4-6 0-8-13-8 18-6 13 0-2-5-26 0-6-10-15-3-7-8 23-4 9-6 27 7 2 7 5 27 18 10 14-18 19-10 15 0 15 6 12 6zM5250 1806l7-19 16-7 2 4-11 17zM5187 1779l14-11 37-1-2 9-26 5zM5133 1772l15 1 12-2 14 6-20 3-11 3-9 0zM5196 1803l-25-11 16-4 16 10zM5119 1770l14 2-4 8-10-1zM5323 1592l12 11 2 7-2 15-8-2-3 10 8 9-5 2-7-10-5-22 3-14zM5348 1677l19 5 6 13-14-7-14-2-10 1-12 0 4-10zM5306 1693l-12-3-3-7 17-1 4 6zM4942 1656l19 16 2 10-14-5zM4978 1673l12 5-7 5zM4800 1605l13 14-8-7zM4829 1646l8 14-12-11zM5432 1724l7 10-7 11-3-12zM5376 1756l12 4-10 7z"/>
<path fill="#c8da2b" d="M5273 1780l3-4 14-4 12 0 5-2 7 2-7 4-17 8-15 0z"/>
<path fill="#fce70f" d="M5199 1315l22 3 5 8 6 12-5 15-10 5-3 14 4 13 9 2 8-2 21 10-1 9 5 4-2 8-13-9-6-8-5 6-10-10-16 2-8-4 1-7 5-4-5-4-2 6-9-9-2-8-1-16 7 5 2-26zM5297 1486l2 11 1 10-6 15-6-17-8 9 6 12-5 8-20-10-5-12 5-8-11-8-5 7-8-1-12 10-3-5 6-15 11-4 9-7 6 8 13-5 3-7 12-1-1-13 14 8 1 9zM5262 1415l16 1 4 6 5 19-13-4 1 5 4 11-8 4-1-12-5-1-3-10 10 1 0-6zM5180 1436l4 14-11 9-10 12-22 16 8-12 13-11 10-11zM5221 1427l10 5 11 0 0 7-8 7-11 6-1-8 2-9zM5257 1454l-6 6-6 11-5 5-11-12 4-5 4-4 2-11 9-1-2 11 12-16zM5214 1406l-3 16-8-9-9-13 15 1z"/>
<path fill="#f7911d" d="M5572 1811l18 32-2 27 19 0 12 14 2 26 12 22 1 18 22 10 23 16 15 32 17 2 3 18 21 18 17 27 8 34-2 15-6 32-4 12-20 24-7 14-10 23-10 21-3 12 1 5-10 7-19 0-15 6-19 15-14-8-10-3 2-9-8 4-16 12-15-5-19-4-17-5-10-10-3-14-4-10-8-5-17-2 5-8-4-12-8 12-15 3 10-10 1-10 7-9-1-12-14 16-10 5-7 13-14-6 0-11-10-12-8-6 3-4-22-10-29-9-31 2-22 5-18 7-17-2-17 9-16 4-2 9-6 7-15 0-11 2-15-3-12 1-12 2-10 9-5 0-18 9-23 0-17-11-10-4 1-10 7-2 4-3 0-7 2-12-2-10-9-17-3-9 1-10-8-11 0-5-7-7-2-14-10-13-3-7 9 7-7-16 8 5 5 7 0-8-8-14-2-5-3-5 1-10 4-4 2-18 5-12 1 12 7-12 15-6 7-7 14-6 8-2 4 2 13-5 11-2 3-4 5-2 9 1 18-5 9-9 5-8 8-9 2-6 0-9 12-15 7 15 8-3-7-9 6-8 8 3 2-12 8-9 5-6 9-3 0-6 7 2 0-3 16-5 13 8 10 10 10 0 10 1-3-9 8-14 7-3-2-5 7-10 10-6 9 2 15-3 0-9-13-5 10-3 10 5 10 7 14 4 5-3 10 5 10-4 7 2 3-3 8 9-4 8-7 7-6 0 2 7-4 8-7 9 1 5 14 10 13 5 9 5 12 11 5 0 9 4 3 6 15 5 12-5 3-10 4-7 2-10 5-13-2-8 0-5-2-10 3-14 3-3-2-5 3-9 4-10 0-4zM5621 2323l17 5 8-2 14-3 10 1 2 21-7 5-2 13-5-5-12 12-3 0-11-2-11-13-2-12-10-14 0-8zM5473 2236l20 0-7 7-15-2zM5366 1823l15 2-7 6-10-3zM5469 1864l9 3-7 5z"/>
<path fill="#f7941d" d="M6087 2318l3 6 4 7 12-7 4 7 0 9-5 6-12 13-8 8 6 7-13 1-14 5-5 12-10 17-13 9-9 3-15 0-10-5-19-2-3-6 9-12 21-17 11-4 13-5 14-9 10-9 8-12 6-6 3-9zM6090 2216l9 8 13 5 5 15 12 17 1-11 8 5 2 13 14 5 11 1 10-6 8 2-3 15-6 10-13-1-5 5 3 8-18 24-14 7-2-5-7-2 9-13-5-11-18-7 0-6 13-5 3-14-1-10-7-12 0-3-8-7-13-16-8-11zM5998 2425l10 1-5 7z"/>
<path fill="#bcd630" d="M5546 1673l29 12 32 10 12 9 9 8 3 10 27 11 5 8-16 2 4 12 16 11 10 18 10-1 0 7 13 4-6 3 19 7-2 5-11 1-4-4-33-5-13-11-9-10-9-14-23-8-14 5-10 5 2 14-14 5-9-2-17-1zM5743 1691l7 6 2 9-5 5-4-11-3 2-5-14-24-12 4-4 21 11zM5721 1728l-9 4-9 4-9 0-14-4-10-5 2-6 15 3 9-2 3-7 2-1 1 8 11 0 5-6 9-6-3-10 11 0 3 2 0 10-5 10-9 2zM5780 1720l5 4 8 10 8 6-2 5-5 2-7-7-8-11-3-13zM5639 1663l14 0-5 3z"/>
<path fill="#c8da2b" d="M5905 1807l5 6-12 0-7-11 11 5zM5883 1797l-6 0-11-2-3-2 1-7 11 3 6 3zM5898 1792l-3 3-13-14-3-11 6 0 6 14zM5867 1771l1 3-14-7-9-6-6-6 2-2 8 5 14 7zM5827 1754l-3 1-8-4-7-7 1-3 10 7z"/>
<path fill="#dce021" d="M6002 1909l-5 2-6-7 1-5zM5990 1883l3 14-5-3-4 1-2-4 0-13zM6010 1928l5 4-5 1zM6027 1947l3 7-5-4z"/>
<path fill="#adb3b9" d="M5967 1987l14 11 9 8-6 4-10-5-12-7-11-9-11-13-2-5 7 0 9 6 8 6zM5991 1981l5 5-3 3zM6005 1993l3 3-5 0z"/>
<path fill="#fec20e" d="M6181 1924l6 5-3 9-10 2-10-2-1-8 6-6 8 2zM6189 1916l13-8 7-5-2 8-13 7zM6207 1916l2 2-2 2z"/>
<path fill="#ffdd00" d="M211 1858l11 0-6 6zM227 1864l8 3-7 2z"/>
<path fill="#ffdd00" d="M169 1988l3 0-1 3zM189 1945l4 2-2 2z"/>
<path fill="#ffdd00" d="M5837 1511l3 1-2 1zM5730 1503l1 2-1 0zM5497 1468l1-2-1 0z"/>
<path fill="#ffdd00" d="M6088 1605l4 0-2 2zM471 1597l6-2-4 5z"/>
<path fill="#ffdd00" d="M6059 1508l4 0-2 2zM6017 1505l2 0-2 2z"/>
<path fill="#adb3b9" d="M5436 1503l3-3-2 5z"/>
<path fill="#adb3b9" d="M5609 1401l3-3-1 5zM5626 1372l2-1-2 0z"/>
<path fill="#adb3b9" d="M606 1926l7 2-4 4zM766 1779l3 1-3 2z"/>
<path fill="#adb3b9" d="M3491 905l7 7 8 1 10-3 2-7-7-8-10-1z"/>
<path fill="#adb3b9" d="M2948 1177l51-2 0 14-51 0zM2943 1206l-13 0-33 59 28 0-2-24 13-13z"/>
</g>
<g transform="translate(-3.5,538.0) scale(.1)">
<path fill="#fee005" d="M752 446l34 2 42 10 38-10 56-7 48-7 49 15 65-7 67 14 43 17 19-7 66 9 34 7 7 10 24-26 71 10 61 0 19-12 25 6-8-34 29-29 29 10 22 27 18 20 40 19 15 2 29-26 1-17 50 2 22 9-2 20-20 20-38 9-20 0 2 5-19 14-5 6-21 12-37 9-36 15-22 29-8 15 5 22 25 16 9 15 24-5 32 7 17 7 12 8 22 5 17 7 46 3 3 31 12 19 26 17 22-24-9-26-12-10 28-7 18-12 10-11-1-12-12-16-21-12 21-18-9-16-5-25 12-4 29 4 17 2 15-4 16 5 20 11 5 6 31 0 0 16 5 20 15 3 14 11 24-11 17-18 10-7 13 15 22 21 19 20-7 12 22 8 43 16 12 5 7 13 12 4 6 5 2 20-12 5-12 7-29 5-20 16-29 1-37-3-26 0-17 2-13 12-23 6-25 24-19 15 14-3 27-22 36-14 25-1 16 8-16 10 5 19 5 14 23 8 28-3 17-19 12 19-20 10-39 10-15 7-21 14-13-4 1-13 29-14-27 0-19 3-12-10 0-24-6-5-17 0-14 12-5 14-19 10-2 5-57 0-26 15-7 9-40 2 5 10-22 8-19 4-19 8-12-7 12-15 5-10-3-14-5-15-17-9 2-3-11-5-8-2-4-3-29-15-32-14-15 5-5 0-21-5-20-2-17-3-27-4-4-10-6 7-473 0-3-3-29-14-12-7-31-7-10-15 2-10-21-9-3-13-21-12 0-9 9-8 0-10-29-12-17-19-12-12-15-8-10-7-11-9-17 6-17 10-5-2-20-17-17-5-17 0zM1051 806l-24-3-20-12-32-14-9-12 19 0 32 12 21 14 12 8zM920 743l-20-17-14-17 22 0 0 16zM2141 820l15-26 17-27 26-15 7 2-21 25 10-2 11 4-6 5 16 5 24 2-6 11 12-3 2 9 5 10-7 15-6 2-12-4 5-13-26 12-10 0 12-9-15-3-19 0zM2052 781l28 3 18 10 0-3-30-2zM2054 835l41 5-15 7-19-7zM2044 580l-17-3-34-7-34-9-34-15-34-13-34 3-34-3 8-16 60 0 12-15 13-15-8-14-34-5-17-12-34-12-17-8-51 6-43-1-22-2-44-8-24-14 5-12-8-27 25-2 43-2 17 14-17 26 25 0-3-26 12-8 54-4 22 2 43 15 42 12 51 12 51 17 26 22 42 19 43 12 12 10-22 15-33 9-17-12-42-10 14 17 34 15 8 29-31-5-34-9 17 17 34 9zM1670 548l25 8 35-13 42 7 14-9-28-5-28-19-26-10-17 5 8 14-25 12zM1738 560l26 12-9-9zM1784 573l15 7-3-10zM1151 441l43 10 26 12 59 0 25-5 26-4 34 0 51 4 17-10-26-7 26-5-51-11-17-20-9-15-34-5-25 8-34 5-51-7-17-8-51 10-17 19 34 7 17 10-26 0zM1024 407l34 13 42-6 26-14 25-26 26-6-51 0-42-5-52 13-8 21zM1415 414l51 1 34-10 0-17-26-14-34 0-25 16zM1525 403l35 2 25-12 25-19-25-3-43-2-17 7-1 14zM1457 456l26 10 34 2 8-12-25-15-34 7zM1160 354l51 5 59 4 60-7 25-10-8-9-51-12-51 4-68 1-17 12zM1372 354l77 0 34-3 0-21-43-5-42 7-26 12zM1058 337l68 7 34-12-34-17-60 14zM1508 347l60 14 76 2 77 0 65-2 11-15-42-4-43 2-59 0-26-14-42-1-68-2 51 15zM1514 354l46 5-4-15-39 2zM1610 335l77-3 93 2 43-12 0-17 42-10 0-12 77-11 68-20 85-19-34-13-102-4-119 2-119 9-77 8-42 9 34 17 51 13 17 17-43 9-8 10-34 10zM1525 279l60 19 59 0 26-22-26-14-50-13-60 3-17 17zM1364 298l68 8 68 0 17-13-51-7-76-5zM1236 313l43-7-9-10-42 2zM1779 376l27 15 46 0-21-13zM1835 475l34 8 2-15-26 0zM1750 730l29 3-15-8z"/>
<path fill="#fdbb10" d="M1058 796l473 0 6-7 4 10 27 4 17 3 20 2 21 5 5 0 15-5 32 14 29 15 4 3 8 2 11 5-2 3 17 9 5 15 3 14-5 10-12 15 12 7 19-8 19-4 22-8-5-10 40-2 7-9 26-15 57 0 2-5 19-10 5-14 14-12 17 0 6 5 0 24 12 10 0 7-32 10-20 9-9 15 10 10 2 7-10 4-22 3-17 2-14 5 29-1-32 7-5 14-12 13-5 11-12 19-2-2-5-27-4 12 4 20 5 2 7 27-22 10-19 14-20 10-17 12-16 12-5 20 2 12 12 27 8 24 0 17-5 14-12 0-10-12-7-14-10-19-2-20-15-15-12-2-17 5-15-12-15 0-14 2-26 2 7 17-5 1-12 0-20-3-17-3-26-4-15 4-5 5-26 13-11 14-4 29-29-9-7-18-13-14-19-26-19 0-10 14-24-10-8-19-26-19-28 0 0 9-50 0-63-21 2-3-41 3-3-8-19-14-13-5-24-8-12-19-10-13-2-7-9-14-8-5-14-22-10-19 4-24-6-17 7-28 2-29-2-12-10-26 27 5 10 14 2-17-7-12zM752 446l-43-9-42-1-43-4-59-7-43-3-34-6-34 9-42 9-34 15-26 9-30 0-9 9 31 4 25 17 29 2-1 12-33-5-28 3-45 14 27 17 19 2 41 0 34 1 3 14-20 2-26 6-22 9-20 17 12 17 22 12 25 0 9 15 26 3 33 0 21 2-4 21-20 11-30 14-26 9-24 10-24 5 39-5 26-5 26-9 25-13 34-16 31-15 15-10-9-12 31-15 17-9 17-3-26 29-5 5 31-7 25-7 9-14 17-3 17 7 25 8 43 2 34 5 25 10 26 12 17 4 8 12 26 20 17 19 20 5 22 1 9-8 0-10-29-12-17-19-12-12-15-8-10-7-11-9-17 6-17 10-5-2-20-17-17-5-17 0zM522 657l23 3 17-10-9-12-20 7zM313 720l17-9 16-7-14 2-15 5zM276 730l19-9-12 0zM182 743l23-3-17-2zM130 750l22-3-19-2zM230 551l29 5 20-3-28-7zM305 606l25 5-6-9zM840 645l21 29 22 13 17 5-12-15-22-22-12-12zM497 1306l19-8-5-9-12-3-2 10zM485 1274l12 3-5-5zM460 1265l8 2-5-7zM434 1255l7 2-3-5z"/>
<path fill="#ece61c" d="M1158 1076l41-3-2 3 63 21 50 0 0-9 28 0 26 19 8 19 24 10 10-14 19 0 19 26 13 14 7 18 29 9-5 27-2 32 9 24 13 20 9 14 17 7 14 7 23-5 16-2 10-5 10-10 5-21 7-7 29-6 22 0 3 10-12 18-5 26-8-3-14 10-32 1 0 11 10 13-22 5-8 26-29-22-14-5-31 8-25-7-29-10-36-19-28-8-26-19-10-19 5-15-12-24-29-29-29-20 0-17-20-19-27-20-11-20-6-17-26-9-3 9 3 17 24 23 10 19 19 26 15 23 20 28-8 5-27-28-10-8-2-20-22-9-16-8 6-16-12-20-14-9-17-30z"/>
<path fill="#cfdc28" d="M1582 1381l8-26 22-5-10-13 0-11 32-1-1 34 15 3-10 7-7 15-14 10-18-1z"/>
<path fill="#cfdc28" d="M1634 1325l14-10 3 6-3 26-10 12-5 0z"/>
<path fill="#faed19" d="M1617 1394l14-10 13 9 12 0 0 10-12 2z"/>
<path fill="#faed19" d="M1631 1384l7-15 10-7 13-2 26-3 27 3 21 14-7 2-21 1-17 17-15 0-10 14-9-5 0-10-12 0z"/>
<path fill="#e9e51c" d="M1665 1408l10-14 15 0 17-17 21-1 7-2-5 26 0 18-6 17 2 9-17-4-17 0-14-12-20-18z"/>
<path fill="#faed19" d="M1692 1440l17 0 17 4 12 15 7 7-5 8 0 17-12-12-19-13-7 0-10-5-2-17z"/>
<path fill="#faed19" d="M1740 1491l0-17 5-8 7 7 13 6 17-5 14-8 18 3 19 12 4 14-12 12-9-16-3-10-19 2-12 5 7 14-15 5-14-16z"/>
<path fill="#faed19" d="M1706 1257l15-14 20-5 24-2 14 0 22 12 37 12 26 12 24 12-2 4-22 3-36 0 10-9-17-5-10-15-25-4-28-6-6-4-22 4-9 5z"/>
<path fill="#ece61c" d="M1818 1320l8-5 16 1 12 7-12 2-12 0z"/>
<path fill="#e3e21d" d="M1882 1318l19-3 19-4-9-7 0-6-10-2 10-5 19 3 2-3-2 18 0 14-12-3-18 0z"/>
<path fill="#faed19" d="M1930 1294l15-3 14 5 14 5 8 19-15-4-16 4-8-2-7 12-5-7 0-14z"/>
<path fill="#adb3b9" d="M2007 1316l15-1 12 5-7 4-20 0z"/>
<path fill="#faed19" d="M1820 1201l11 15-5 8-10-13zM1826 1172l14 5-3 12-12-12zM1808 1177l15-2-10 5zM1896 1272l12-5-7 7zM1859 1228l10 7-5-9z"/>
<path fill="#faed19" d="M2097 1447l15-2 0 12-15 0z"/>
<path fill="#d6de24" d="M2100 1352l7 2-4-6zM2110 1377l5 4-3 3zM2103 1366l5 3-3 2zM2112 1393l2 3-4-2zM2134 1405l5 1-3 2z"/>
<path fill="#adb3b9" d="M1908 300l68 15 17 22 77-3 84 12 9 10 43 32 13 26 46 13-34 12 9 12 42-2-42 38 3 18 22 33 17 22 26 24 20 10 48 12 27 5 15-5 8-29 17-19 17-20 9-14 43-12 34-7 50-32 77-5 37-7 53-24-31-10 43-12 0-17-34-10 59-5 0-20 26-12-17-19-26-7 51-5-8-20 26-31 93-24-68-7-77 4-34-10-76-16-102-6-102 5-119 8-102 7-119 3-51 9-51 12-43 13 26 12-68 10z"/>
<path fill="#f7911d" d="M2732 514l34-14 26 14 42-10 38-5 27 5 19 18-22 14-48 10-39 4-46-7 12-10-34-7 34-5z"/>
<path fill="#ffd803" d="M2272 1554l8 9 10 34 11 3-9 26 31 8 1 17 12-12 21 5 29 12 8 9-3 10 20-5 32 8 26 0 25 14 23 19 11 5 16 0 7 6 5 31-2 29-24 24-13 19-14 25-12 2-5 27 2 17-7 37-9 29-17 24-3 17-17 17-19 0-25 7-14 7-19 5-18 13-16 17-1 12 1 10-3 17-15 17-19 31-27 20-7 17-12 11-3-11 7-8-24-21-17-10-24-13-10 1 22-22 19-17 27-17 0-13-9-11-8 4 3-9 2-10 0-10-19 0-1-7-2-15-16-10-23 0 0-24-5-9 5-4 3-16 4-14-14-15-2-7 4-10-34 0-6-20 4-9-4-13-10-6-17-5-12-3-6-7-19-1-19-16 2-12-2-18-20 1-24 14-25 4-18 1 0-26-13 11-15 0-17-11 10 0-7-8-10-10-7-16 5-3 0-7 10-5-1-8 3-7 2-7 20-12 14-3 1-3 16 1 8-46 0-8-3-10-7-12 0-6 9-3 3-5-9-2 0-10 33 0 6-5 4 5 3 10 4-2 10 9 13-2 2-5 14-3 7-3 1-7 12-5 0-4-15-2 5-6-7-16-7-5 4 0 12 2 13 3 5-3 12-3 20-6 6-6-2-5 9 0 3 3-2 7 5 3 6 8-6 6-2 14 4 16 12 9 8 0 2-3 5 0 7-4 7-4 8 1 5-2 9 3 2-3-4-3 3-6 6 2 8-2 10 4 7 3 5-5 5 2 2 4 9-1 5-7 7-11 8-17z"/>
<path fill="#adb3b9" d="M2222 1590l7 3 5-5 5 2 2 4 9-1 5-7 7-11 8-17-2-7-18-14-19-7-9 16 2 12 7 10-3 7-2 8z"/>
<path fill="#cfdc28" d="M2162 1560l3-9 0-4 10-5 3-14 21 2 15-3 17 3-9 16 2 12 7 10-3 7-2 8-4 7-10-4-8 2-6-2-3 6 4 3-2 3-9-3-11-14-2-8-5 0-7-12z"/>
<path fill="#cfdc28" d="M2132 1486l12 7 10 12 0 8 7 0 11 9 6 6-3 14-10 5 0 4-3 9 8 13 5 0 2 8 11 14-5 2-8-1-7 4-7 4-5 0-2 3-8 0-12-9-4-16 2-14 6-6-6-8-5-3 2-7-3-3-9 0-12-13 5-4-1-9 11-3 4-2-5-7 1-7z"/>
<path fill="#fce70f" d="M1937 1428l-2 6-10-2 12 11-2 13 2 18-12 0 5-22 2-10 24-7-2-7 7-6 5 12 12 1 12 9 0 5 15 1 19-1 8 7 14 1 10-5 0-3 41-2-14 5 5 9 14 0 13 8 2 14 15 3-12 10-1 7 5 7-4 2-11 3 1 9-5 4 12 13 2 5-6 6-20 6-12 3-5 3-13-3-12-2-4 0 7 5 7 16-5 6 15 2 0 4-12 5-1 7-7 3-14 3-2 5-13 2-10-9-5-17-4-6-7-4 9-8 0-3-5-6-2-12-2-11 5-7 4-9-7-3-29 3-12-14-10-3-22 2-7-7-2-3 2-7 0-7-5-3-2-9-8-1 5-9 2-14 5-5 7-5 4-5z"/>
<path fill="#fce70f" d="M1867 1632l-7-5-8-5-5 3-14-3-5-7-3 0-17-10-2-5 7-2-2-8 5-5 9-2 13-19-7-5 4-10-4-15 4-4-4-15-6-8 8-7 4-5-4-14 10 2 12-12 7-2 3-20 11-9 10 0 2-3 13 2 14-9 7-4 7-8 6 0 5 5-3 5-11 7-4 5-7 5-5 5-2 14-5 9 8 1 2 9 5 3 0 7-2 7 2 3 7 7 22-2 10 3 12 14 29-3 7 3-4 9-5 7 2 11 2 12 5 6 0 3-9 8 7 4 4 6 5 17-4 2-3-10-4-5-6 5-33 0 0 10 9 2-3 5-9 3 0 6 7 12 3 10 0 8-8 46-9-8-5-2 12-17-14-7-10 0-7-2-8 4-14-2-10-17-7-5-5-8-12-8z"/>
<path fill="#f89b1b" d="M1784 1687l8-12-3-9-7 9-9-8 2-5-1-15 5-3 3-10 7-12-2-7 10-3 11-7 17 10 3 0 5 7 14 3 5-3 8 5 7 5 4 12-6 12-18 17-21 7-12 15-1 11-10 7-7-7-7-4-7 2-2-6 6-4z"/>
<path fill="#fbea14" d="M1966 1928l11-18-8-14 4-7-2-6 7-7 0-28 3-5-13-28-18 1 0-26-13 11-15 0-17-11 10 0-7-8-10-10-7-16 5-3 0-7 10-5-1-8 3-7 2-7 20-12 14-3 1-3 16 1-9-8-5-2 12-17-14-7-10 0-7-2-8 4-14-2-10-17-7-5-5-8-12-8-5 2 4 12-6 12-18 17-21 7-12 15-1 11-10 7-7-7-7-4-7 2-2-6 6-4-2-7-14 10-5 12 9 17-5 7 11 7 12 11 7 12 7 9 15 34 17 30 14 22-2 6 7 13 14 12 30 19 32 17 2 7 17 8z"/>
<path fill="#fec70b" d="M2081 2003l-20 0-7 14-9-12-23-5-14 15-12 3-6-24-11-18 7-17-9-7-3-12-8-12 11-18-8-14 4-7-2-6 7-7 0-28 3-5-13-28 25-4 24-14 20-1 2 18-2 12 19 16 19 1 6 7 12 3 17 5 10 6 4 13-4 9 6 20 34 0-4 10 2 7 14 15-4 14-3 16-5 4 0-5-16-8-15-2-31 5-8 16 0 9-7 20z"/>
<path fill="#ffd206" d="M2160 1972l5 9 0 24 23 0 16 10 2 15 1 7 19 0 0 10-2 10-3 9-4 15-15 14-14 1-18-1-17-5 17-26-4-7-17-6-20-14-14-2-32-28 7-20 0-9 8-16 31-5 15 2 16 8z"/>
<path fill="#faa817" d="M2170 2142l10-1 24 13 17 10 24 21-7 8 3 11-7 10-18 9-14-3-8 2-16-8-12 2-10-11 2-10 3-5 0-17 4-17z"/>
<path fill="#f89b1b" d="M2170 2142l-5 14-4 17 0 17-3 5-2 10-2 9 23 15-4 12 12 7-17 30-25 9-34 3-19-1 3 10-3 13 3 9-10 5-19 3-15-6-7 5 2 17 12 5 8-7 6 10-16 5-13 10-2 18-5 8-16 0-13 10-5 12 17 12 17 3-7 16-20 10-11 20-15 7-7 7 5 19 12 8-8 0-15-3-41-2-7-10 0-12-12 0-5-5-2-19 14-7 5-12-2-8 9-14 5-22-2-11 9-2-2-7-9-4 5-6-6-7-4-20 7-3-3-21 3-17 5-16 10-5-5-17 0-15 12-12 0-14 10-17 0-15-5-3-7-29 11-19-2-15 5-15 12-18 12-10-5-6 3-6 0-28 19-9 5-17-2-5 14-15 23 5 9 12 7-14 20 0 2 4 32 28 14 2 20 14 17 6 4 7-17 26 17 5 18 1 14-1 15-14 4-15 8-4 9 11 0 13-27 17-19 17zM1983 2523l7 9 8 12 22 11 22 4-7 8-15 1-9-6-11 0-17 0z"/>
<path fill="#fde30a" d="M1966 1928l-14 12 4 26 1 27-5 37-5 36-5 32-7 22 0 21-5 13 5 26-8 25-12 27-10 28-7 1 2 19 5 17-9 10-5 33 5 27 12-27 5 10-12-5 12 15-8 26-4 8-17-15-5 29-15 13 15 5 10 0-18 14-7 17 1 29 9 10-5 10 7 12 20 9 22 15 22 7 2-5-7 1 10-17 26-6 20-4-8 0-15-3-41-2-7-10 0-12-12 0-5-5-2-19 14-7 5-12-2-8 9-14 5-22-2-11 9-2-2-7-9-4 5-6-6-7-4-20 7-3-3-21 3-17 5-16 10-5-5-17 0-15 12-12 0-14 10-17 0-15-5-3-7-29 11-19-2-15 5-15 12-18 12-10-5-6 3-6 0-28 19-9 5-17-2-5-12 3-6-24-11-18 7-17-9-7-3-12zM1983 2523l0 39 17 0 5 7-14 5-18-2-13-5-18-2-22-9-17-10-24-19 15 3 24 12 22 7 9-9 5-12 17-6zM1886 2341l12 0 2 26-14-2z"/>
<path fill="#adb3b9" d="M2109 2510l20-10 14 4 11-6 13 7-5 6-23 5-7-6-15 8z"/>
<path fill="#fce70f" d="M3234 577l-2 15 7 19 5 17 19 13 20 2 16-10 23-10 7-9 7 12 10 2 4-16 10-10-2-13 10-4-12-5-1-30 20-11 12-1 0-16 10-17 14-3 17-22 15-9 12-7 32 2 5-10 7-2 17-3 12 10 19 2 25 0 16-7 6-14 29-5 19 7-2 10 22-10 12 2-13-9 17-3-28-7-22-7-40 0-23 2-25 12-29 2-36 6-22 9-29 7-25 10-21 5 23 5-31 24-10 12-16 12-16 7-16 15-20 3-24 9-19 8zM3333 278l45 25 9 7 43 17 25-15 59-11-42-10 26-12-35-8-51 3-34-2zM3460 266l63 12 77-2 8-10-68-5zM3514 315l43-3-25-11z"/>
<path fill="#fee005" d="M3338 628l3 10 12 14 15 18 0 16 22 1 9-13 22-2 9-14 5-15 3-12 32-15-5-10-22-9-2-17 11-17 34-15 28-14-6-13 20-9 24-2 8 0-8-11 3-7-7-9-1-8-38-17-17-2-5 10-32-2-12 7-15 9-17 22-14 3-10 17 0 16-12 1-20 11 1 30 12 5-10 4 2 13-10 10-4 16zM3457 660l12-7 5-8-12 1zM3428 674l12-19-10 10z"/>
<path fill="#fce70f" d="M3499 454l17-3 12 10 19 2 25 0 16-7 6-14 29-5 19 7-2 10-8 4 7 12 20 8-15 14 17 20-7 14 15 12-10 8 25 14-3 6-39 23-20 10-31 3-26 7-27 3 0-8-25-5 3-17-8-17 6-10 18-11 35-17 14-5-2-6-19-6-8 0 0-11 3-7-7-9-1-8-38-17-17-2z"/>
<path fill="#fce70f" d="M3287 684l0-21 8-5 17-1 17-9-3 19 8 3-12 9-8 12-4 6-15-1 0-9zM3334 680l26-5 5 9-12 12-17-7zM3316 686l15 0-2 6-12-1z"/>
<path fill="#fce70f" d="M3052 779l24-5 14 2 8-9 19 2 15-3 22 0 12-4 7-5-14-3 7-6 12-15-20-5-6-5-5-5-5-15-12-2-8-15-9-7-17-2 7-7 10-10 5-10-25-2-14 2 17-17-32 0-10 13-9 12 9 16-2 15 15-5-3 10 3 3 21-1 10 15-2 10-22 2-5 8 10 9-20 7 19 7 20 1-10 4-12 0-15 15zM3054 699l-10-8-24 1 3 9-12 2 9 6 10 0 12 0 13-5zM3022 652l22-14-14 8zM3122 599l10 2-5 10zM3091 624l14-1-7 6z"/>
<path fill="#fee005" d="M3042 709l-12 0-10 0-9-6 12-2-3-9-12-1-5 10-24 7 2 13 10 5-7 16-8 6 10 6 24-6 22-5 12-3 3-14-2-13z"/>
<path fill="#fce70f" d="M3118 891l11-18 1-17-1-9-17-17-11-8-27-7-5-9 24-7 29 4-5-19 12 0 3 5 20-1 19-11 5-13 16-4 5 5 6 0 17 15 11-1 15 9 3 0 5 0 9 5 24 3-9 12-2 12-5 2-8 0-12 13 1 5 8 0 5 7 0 5 5 7-7 5 5 13 9 2-2 7-15 10-33-5-25 5-2 10-20 4-19-9-7 4-31-7zM3297 905l12-7 3 14-7 13-6-3z"/>
<path fill="#faed19" d="M2996 917l0-12-7-7 24-13 21 3 23 0 18 3 15-1 27 1 6 7 31 7 7-4 19 9 20-4 1 11-16 12-22 3-2 5-10 10-7 14 7 10-11 7-3 12-12 3-12 12-22 0-17 0-10 7-7 6-8-1-5-7-6-8-16-4 0-5 5-7 3-5-7-5 5-10-6-10 6-2 4-10 1-14 7-5-5-8-9 0-3 1-10 0-5-8zM3188 956l14-5 5 5-7 5zM2862 1148l13-3-8 8zM2880 1153l7-3 0 6zM2904 1151l9-10 0 9zM2914 1136l7-3-1 5z"/>
<path fill="#faed19" d="M2996 917l12-7 5 8 10 0 3-1 9 0 5 8-7 5-1 14-4 10-6 2 6 10-5 10 7 5-3 5-5 7 0 5-7 5-17-1 2-13-1-11-8-2-3-5 1-12 7-7 3-17z"/>
<path fill="#fec70b" d="M3310 697l7-3 18 10-1 7 18-3 10-5 18 6 9 5 5 11-5 3 5 7 5 8-2 6 7 11-7 2-5-2-3 4-14 3-6 4-13 3 4 6 2 8 9 3 9 7-7 8-5 2 2 12-7-2-8 0-12 4-15-2-2 5-9-5-5 2-19-6-3 4-14 0 2-12 9-12-24-3-9-5 0-7-2-4 2-12-3-17 10 0 4-6 5-16-4-6 4-4 13-1 4 5 12-9-4-7-2-9z"/>
<path fill="#fce70f" d="M3252 720l14 0 4 6-5 16-4 6-10 0 3 17-10-4-11-7-15 3-13-1 9-4 15-26z"/>
<path fill="#f68d1e" d="M3205 756l13 1 15-3 11 7 10 4-2 12-4 0-2 11-15-9-9 2-12-9-8-7-7 0-3-5z"/>
<path fill="#f68d1e" d="M3252 777l2 4 0 7-5 0-3 0 2-11z"/>
<path fill="#fde30a" d="M3312 822l0 3-2 3 7 4 9 0 0 7-9 3-12-2-4 7-8 0-3-3-8 6-9 0-8-3-5-7-8 0-1-5 12-13 8 0 5-2 14 0 3-4z"/>
<path fill="#fec20e" d="M3438 811l-2 7-10 0 4 4-6 11-3 2-15 1-9 4-13-1-24-6-4-5-17 4-2 2-11-2-9 0-7-4 2-3 0-3 5-2 9 5 2-5 15 2 12-4 8 0 7 2-2-12 5-2 7-8 12 6 10-7 6-2 14 6 8-2 7 4z"/>
<path fill="#fde30a" d="M3277 879l-9-2-5-13 7-5-5-7 0-5 8 3 9 0 8-6 3 3 8 0 4-7 12 2 9-3 0-7 11 2 2-2 17-4 4 5 24 6-2 8 4 7-14-2-14 5 2 9-3 5 6 8 15 9 9 13 19 15 13 0 5 4-5 4 16 5 11 5 16 9 1 3-3 6-10-8-14-2-8 10 13 7-2 9-8 1-8 14-7 2 0-5 3-10 4-3-7-9-5-10-7-2-5-7-10-4-9-6-12-1-13-8-16-12-11-8-6-17-8-3-14-6-8 4-10 6zM3412 980l-6 13 3 5-3 9-14-7-8-2-24-8 3-9 19 1 24-1zM3288 933l17-4 11 12-2 22-9 0-6 5-7-5 0-21z"/>
<path fill="#fecd08" d="M3389 714l12-4 27-7 20-6 17 2 2 5 16 0 21 2 31 0 13 2 0 5 6 13-11 10 5 9 0 7 9 15-2 5-8 2-15 14 5 7-4-1-17-6-12 3-8-2-10 4-9-7-7 2-1 0-7 3-4 0-1 4-8-17-2-6-11-1-3 5-9-9 1 0-13-2-8-5-7-11 2-6-5-8-5-7 5-3z"/>
<path fill="#f68d1e" d="M3437 803l-7-4-8 2-14-6-6 2-10 7-12-6-9-7-9-3-2-8-4-6 13-3 6-4 14-3 3-4 5 2 7-2 8 5 13 2-1 0 9 9 3-5 11 1 2 6 13 13-4 0-1 4-4 3-7 1-6 0z"/>
<path fill="#fec20e" d="M3469 788l1 0 7-2 9 7 10-4 8 2 12-3 17 6-5 5-3 7-4 2-18-5-11 5-6 2-3-2-8 3-6 0-2 4-14 2-7-2-8-4-2-7 1-1 3-4 6 0 7-1 4-3 1-4 4 0z"/>
<path fill="#f68d1e" d="M3424 833l6-11-4-4 10 0 2-7 8 4 7 2 14-2 2-4 6 0 8-3 3 2 6-2 11-5 18 5 4-2 8 4 2 5-10 3-9 12-10 12-14 3-10-1-13 5-6 1-15-2-12-8-5-1-3-6z"/>
<path fill="#ffd803" d="M3384 839l13 1 9-4 15-1 3-2 4 0 3 6-13 5-2 6-7 2 0 4-7 0-5-2-3 2-12 0 4-2-4-7z"/>
<path fill="#fee005" d="M3469 849l4 7 6 5-7 5-8-3-11 0-15-2-8 0-4 3-6-3-3 6 7 8 6 6 6 5 7 4 7 7 15 7-2 2-17-5-10-6-15-5-14-12 4-2-9-7 0-7-10-1-6 6-4-5 0-6 12 0 3-2 5 2 7 0 0-4 7-2 2-6 13-5 5 1 12 8 15 2z"/>
<path fill="#faed19" d="M3472 866l7 0-5 8 8 6-2 8-5 2-2 1-6 4-2 9-15-7-7-7-7-4-6-5-6-6-7-8 3-6 6 3 4-3 8 0 15 2 11 0z"/>
<path fill="#faed19" d="M3504 857l10 4 2 6 9 6 7-4 3 2-3 3 2 4-4 3 2 7 8 7-7 5-3 5 2 1-2 4-9 0-5 1-13 2-5 2-4-5-3-5 3-5-6-4-6-1-7-5 5-2 2-8-8-6 5-8-7 0 7-5-6-5-4-7 13-5 10 1z"/>
<path fill="#faed19" d="M3475 890l7 5 6 1 6 4-3 5-7-2-7 9 2 5-9-7-7-4 2-2 2-9 6-4z"/>
<path fill="#cfdc28" d="M3479 917l-2-5 7-9 7 2 3 5 4 5 1 2-1 7 1 6 7 5 0 4-5 3-2 5-7 14-3-7-1-3-9-6-2-8 3-17z"/>
<path fill="#faed19" d="M3498 915l5-2 13-2 5-1 9 0 8 5 1 12-3 0-3 3-9-1-6 5-12 1-7-5-1-6 1-7z"/>
<path fill="#c8da2b" d="M3492 961l7-14 2-5 5-3 0-4 12-1 6-5 9 1 3-3 3 0 13 0 13-5 12 7 16-11 8 4-5 12-4 1-10 0-10-1-20 3 12 10-9 3-10 0-8-9-4 3 4 11 9 8-7 4 9 7 10 6 0 9-16-4 5 8-10 2 6 15-11 0-14-7-7-13-3-12-7-9zM3552 1022l8 5 14 0 14 1 8 1-2 5-25 2 0-4-21-3z"/>
<path fill="#faed19" d="M3534 878l5 6 6-1 14 3 25 0 8-3 19-5 13 6 11 2-9 7-6 12 5 10-15-2-17 5-16 11-12-7-13 5-13 0-1-12-8-5 2-4-2-1 3-5 7-5-8-7-2-7z"/>
<path fill="#fec70b" d="M3535 815l7-4 12 2 18 5 5-3 12-2 5-3 7 0 5 1 5 5 6 7 10 10 1 7-2 9 2 7 9 3 8-3 7 3 0 4-8 4-5-1-4 20-11-2-13-6-19 5-8 3-25 0-14-3-6 1-5-6-2-4 3-3-3-2-7 4-9-6-2-6-10-4-12-12 14-3 10-12 9-12z"/>
<path fill="#fce70f" d="M3601 810l15-6 13 6 7 1 8 5-1 6 6 2 3 7 5 4-1 4 3 1-4 1-10-1-2-1-3 1 0 3-4 5-3 6-5 2-2-7 2-9-1-7-10-10-6-7-5-5z"/>
<path fill="#fec70b" d="M3690 743l6 1 4-4 5 2 18-2 11 8-5 4 1 6 14 1 7 6-1 4 21 7 14-4 10 9 10 0 25 5 0 5-6 8 3 11-3 5-15 1-10 5-1 7-13 2-11 5-16 1-15 6 1 11 8 4 18-1-4 6-18 4-23 8-10-3 3-8-16-4 1-3 17-6-5-5-27-3 0-7-16 2-6 9-14 13-7-3-8 3-9-3 5-2 3-6 4-5 0-3 3-1 2 1 10 1 4-1-3-1 1-4-5-4-3-7-6-2 1-6-8-5-7-1-13-6-15 6-7 0-5 3-12 2-5 3-18-5-12-2-7 4-2-5-8-4 3-7 5-5 4 1-5-7 15-14 8-2 2-5-9-15 9 0 10-5 12 0 17 1 20 4 12 0 7 3 7-3 4 3 16 0 7-7 5-4 7-1z"/>
<path fill="#f89b1b" d="M3548 713l17 0 17-7 6-9 13-6-1-7 10-4 18-6 17 5 4 3 8-2 17 5 1 7-3 5 11 11 7 4-2 2 12 4 5 4-7 4-14-1-3 2 4 6 5 10-9 0-7 1-5 4-7 7-16 0-4-3-7 3-7-3-12 0-20-4-17-1-12 0-10 5-9 0 0-7-5-9 11-10z"/>
<path fill="#fde30a" d="M3535 706l-1-5 2-5-8-2-17-3-4-15 19-4 29 0 17-2 2 4 8 1 18 9 1 7-13 6-6 9-17 7-17 0 0-5z"/>
<path fill="#fee005" d="M3507 676l1-13 8-10 16-6 13 13 14-1 3-13 15-2 7 2 16 6 13 0 9 5 1 7 5 10-18 6-10 4-18-9-8-1-2-4-17 2-29 0z"/>
<path fill="#fce70f" d="M3545 633l13-7 9-8 22-2 18 2 18 0 2 3-12 10 5 15-7 6-13 0-16-6-7-2-15 2 2-10-6 2-11 2zM3520 638l12-7 13 3-12 7z"/>
<path fill="#faed19" d="M3698 1032l10-5 14 0 15-5-10 11-2 1-15 7-8-2z"/>
<path fill="#faed19" d="M3392 1017l5 2-2 1z"/>
<path fill="#e6e31c" d="M3061 1021l10 7 16-1 18 4 7 0 7 11 1 10 5 18 5 4-3 7-23 2-7 7-10 1-1 13-20 6-6 9-14 5-17 2-27 13 0 20-3 0 1 9-11 0-6 4-7 0-6-2-15 2-5 13-6 1-8 22-23 18-6 24-7 7-2 7-38 1 1-8 6-5 6-9-2-5 6-12 10-11 5-3 5-10 0-9 7-10 11-7 11-17 8-7 16-2 14-11 8-5 14-14-4-21 7-15 2-9 11-11 17-8 13-7 11-18 5-10z"/>
<path fill="#e6e31c" d="M3002 1159l0 1-1 3 0 26-55-1 0 44-16 1-4 9 3 24-66 0-4 6 1-7 38-1 2-7 7-7 6-24 23-18 8-22 6-1 5-13 15-2 6 2 7 0 6-4 11 0-1-9z"/>
<path fill="#f4ea1a" d="M3353 1230l-58 32-49 34-24 7-19 2 0-11-8-3-11-4-4-8-57-37-58-37-64-42 1-3 0-1 0-20 27-13 17-2 14-5 6-9 20-6 1-13 10-1 7-7 23-2 3-7-5-4-5-18-1-10-7-11 16-9 19-3 11-7 16-5 29-3 28-2 8 3 16-7 19 0 7 4 11-1-3 9 2 16-4 14-10 9 1 13 14 10 0 4 11 7 7 31 6 15 1 8-3 14 1 7-2 10 1 10-7 7 10 13 1 7 6 10 8-4 14 8z"/>
<path fill="#c8da2b" d="M3310 1114l-7-31-11-7 0-4-14-10-1-13 10-9 4-14-2-16 3-9 19-7 12 2-1 9 15-7 1 4-9 8 0 8 6 4-2 15-11 8 3 10 9 0 4 8 6 3-1 13-8 5-5 5-12 7 2 7-2 7z"/>
<path fill="#e6e31c" d="M3401 1240l-12 7-9-10-27-7-7-11-14-8-8 4-6-10-1-7-10-13 7-7-1-10 2-10-1-7 3-14-1-8-6-15 8-4 2-7-2-7 12-7 5-5 8-5 1-13 20 6 7-2 15 3 22 7 8 16 15 3 24 7 19 8 8-4 8-8-4-13 5-8 12-8 12-2 23 3 6 8 6 0 6 3 17 2 4 5-6 8 2 8-4 10 5 14 0 60 0 63 0 34-20 0 0 7-68-32-67-33z"/>
<path fill="#e3e21d" d="M3776 1255l-68 0-66 0-68 0 0-63 0-60-5-14 4-10-2-8 6-8 23 0 16 5 17 4 7 3 14-5 7-5 15-2 12 3 4 8 4-5 14 4 13 1 9-5 11 30-5 6-4 13-4 9-4 3-6-5-8-8-12-24-2 1 7 18 11 17 13 27 6 9 6 9 15 19-4 3 1 11 20 16z"/>
<path fill="#dce021" d="M2859 1272l4-6 66 0-3-24 4-9 16-1 0-44 55 1 0-26 64 42-26 0 9 73 8 73 3 3-4 12-68 0-3 4-7-2-9 4-12-5-5 0-3 10-6 3-11-11-10-13-12-4-8-5-9 0-9 4-8-2-6 6-1-9 4-9 2-16-1-17-2-8 1-9-4-8z"/>
<path fill="#a4cf39" d="M2942 1380l6-3 3-10 5 0 12 5 9-4 7 2 3-4 68 0 4-12-3-3-8-73-9-73 26 0 58 37 57 37 4 8 11 4 8 3 0 11 19-2 0 40-10 11-1 10-15 3-23 2-7 6-11 0-11 0-4-3-9 3-16 6-3 6-13 7-3 5-7 3-8-2-5 4-2 12-14 14 1 6-5 7 1 10-7 2-4 2-3-7-4 2-3 0-3 5-14-1-4-2-3 1-5-4 1-5-2-2-4 1 1-5 4-5-7-7-2-5-4-3-4-1-4 3-5 2-5 4-7-2-5-4-3-1-4 3-3 0-1-6 1-6-1-6-7-5-3-10z"/>
<path fill="#c2d82e" d="M2865 1398l-7-13-9-6 8-4 8-12 4-8 6-6 8 2 9-4 9 0 8 5 12 4 10 13 11 11 1 11 3 10 7 5 1 6-1 6-2 0-9-1-2 2-4 0-12-4-8 0-31-1-5 2-6 0-9 3-2-14 15 1 4-3 3 0 7-4 7 4 7 0 8-4-4-4-5 2-6 0-6-4-6 0-4 4z"/>
<path fill="#c2d82e" d="M2863 1405l2-7 18-1 4-4 6 0 6 4 6 0 5-2 4 4-8 4-7 0-7-4-7 4-3 0-4 3z"/>
<path fill="#c2d82e" d="M2892 1441l-9-7-8-1-3-5 0-2-5-4-2-3 9-3 6 0 5-2 31 1 0 6-2 2 1 5-2 2-4 0-4 3-6 0z"/>
<path fill="#c8da2b" d="M3006 1498l-5 0-4 7-5 0-3-4 1-7-7-10-4 2-4 0-5 1 1-6-3-5 0-5-3-7-5-6-14 0-4 3-4 1-3 3-2 5-9 8-8-10-6-7-5-2-4-4-2-7-2-4-5-3 7-8 6 0 4-3 4 0 2-2-1-5 2-2 0-6 8 0 12 4 4 0 2-2 9 1 2 0 1 6 3 0 4-3 3 1 5 4 7 2 5-4 5-2 4-3 4 1 4 3 2 5 7 7-4 5-1 5 4-1 2 2-1 5 5 4-3 2-1 6 4 7 4 13-6 2-2 3 1 3-1 7z"/>
<path fill="#bcd630" d="M2955 1514l-5-2-12-6-9-10-3-6-2-12 9-8 2-5 3-3 4-1 4-3 14 0 5 6 3 7 0 5 3 5-1 6 5-1-8 8-8 9 0 5z"/>
<path fill="#f4ea1a" d="M3018 1555l-4 0-18-8-15-13-15-9-11-11 4-6 0-5 8-9 8-8 4 0 4-2 7 10-1 7 3 4 5 0 4-7 5 0-1 5 1 9-3 7 5 5 5 1 7 7 1 7-2 2z"/>
<path fill="#c8da2b" d="M3100 1544l-7 0-12-3-11 0-20 3-12 5-17 6-3 0 1-14 2-2-1-7-7-7-5-1-5-5 3-7-1-9 1-5 2 0 1-7-1-3 2-3 6-2-4-13-4-7 1-6 3-2 3-1 4 2 14 1 3-5 3 0 4-2 3 7 4-2 7-2 8 3 3 6 7 4 6-5 8 0 12 4 4 24-7 15-4 19 7 14z"/>
<path fill="#aad137" d="M3101 1465l-12-4-8 0-6 5-7-4-3-6-8-3-1-10 5-7-1-6 14-14 2-12 5-4 8 2 7-3 3-5 13-7 3-6 16-6 9-3 4 3 11 0-1 9 2 7 10 11 0 9 20 3 0 12-4 5-8 2-4 7-6 2-15 0-7-2-6 3-7-1-30 1 0 9z"/>
<path fill="#cfdc28" d="M3167 1528l-27 10-9 6-15 5-16-5 1-7-7-14 4-19 7-15-4-24-2-13 0-9 30-1 7 1 6-3 7 2-1 5 7 9 0 12 2 13 4 7-4 15 2 9 4 10z"/>
<path fill="#c2d82e" d="M3181 1525l-14 3-4-6-4-10-2-9 4-15-4-7-2-13 0-12-7-9 1-5 15 0-2 9 5 5 6 6 1 8 3 4 0 39z"/>
<path fill="#c8da2b" d="M3195 1523l-14 2-4-12 0-39-3-4-1-8-6-6-5-5 2-9 6-2 4-7 8-2 4-5 5-5 6 0 13 10 0 5 4 11-4 6 2 5-8 11-6 5-3 10 1 11z"/>
<path fill="#d2dd26" d="M3401 1240l5 27 6 4 0 6 7 5-3 8-7 34-1 22-22 16-7 23 7 6 0 11 11 0-2 8-4 1-1 6-3 0-12-19-4 0-13 9-13-5-9-1-5 3-10-1-10 8-9 0-20-9-8 4-9 0-6-6-18-7-18 2-4 4-3 10-4 7-2 15-13-10-6 0-5 5 0-12-20-3 0-9-10-11-2-7 1-9 11 0 7-6 23-2 15-3 1-10 10-11 0-40 24-7 49-34 58-32 27 7 9 10z"/>
<path fill="#c2d82e" d="M3195 1523l1-28-1-11 3-10 6-5 8-11-2-5 4-6-4-11 0-5 2-15 4-7 3-10 4-4 18-2 18 7 6 6 9 0 8-4 20 9 9 0 10-8 10 1 5-3 9 1 13 5 13-9 4 0 12 19 3 0 7 6-2 4-1 5-14 13-5 11-2 9-4 4-3 12-9 7-3 8-4 7-1 7-12 6-9-7-7 0-10 10-5 1-8 16-5 12-17 6-7-1-6 4-14 0-9-11-5-12-12-12-13 1z"/>
<path fill="#8fc83e" d="M3395 1410l2-8-11 0 0-11-7-6 7-23 22-16 1-22 7-34 3-8-7-5 0-6-6-4-5-27 18-9 67 33 68 32 1 68-15-2-7 13-5 10 4 4-6 6 2 7-4 7-2 6 6-1 4 7 0 9 6 6 0 4-11 3-9 6-12 19-16 8-16-1-5 1 1 6-8 6-8 7-21 6-4-3-3-1-3 5-14 1 2-5-5-11-2-8-8-2-10-10 4-8 8 1 4-1 10 0-9-15 0-12-1-11z"/>
<path fill="#cfdc28" d="M3371 1590l-2 0-10 2-10-3-8 2-28-1 3-13-7-11-8-3-3-8-5-3 0-4 5-12 8-16 5-1 10-10 7 0 9 7 12-6 1-7 4-7 3-8 9-7 3-12 4-4 2-9 5-11 14-13 1-5 2-4-7-6 1-6 4-1 7 11 1 11 0 12 9 15-10 0-4 1-8-1-4 8 10 10 8 2 2 8 5 11-2 5-9 17-4 3-1 13 2 7-2 6 8 8 2 7 6 8 8 6 0 7 2 5-1 10-13-4-14-5z"/>
<path fill="#c8da2b" d="M3409 1503l14-1 3-5 3 1 4 3 21-6 8-7 8-6-1-6 5-1 16 1 16-8 12-19 9-6 11-3 2 7 9 10 1 7-3 7 1 6 6 5 13 7 9 7 0 6 12 8 7 8 4 10 13 7 2 5-5 2-11-1-13-1-6 1-3 4-5 1-7-4-19 9-8-2-2 1-5 10-13-3-12-1-11-7-14-6-9 6-7 9-1 12-11-2-12-2-10 9-9 15-2-5 0-7-8-6-6-8-2-7-8-8 2-6-2-7 1-13 4-3z"/>
<path fill="#e3e21d" d="M3313 1590l28 1 0 20-25 0-6 1-3-3zM3293 1570l7-4-3 7z"/>
<path fill="#e3e21d" d="M3338 1697l-18-18-11-14-10-17 0-6 4-5 4-13 3-12 6-1 25 0 0-20 8-2 10 3 10-2 2 0-1 8 5 9 13-2 4 4-8 19 8 10 2 14-2 11-5 8-15-1-9-8-1 8-12 2-6 4 7 11z"/>
<path fill="#faed19" d="M3370 1710l-6-6-6 3-7 8-13-18 13-10-7-11 6-4 12-2 1-8 9 8 15 1 5-8 2-11-2-14-8-10 8-19-4-4-13 2-5-9 1-8 22 1 14 5 13 4 1-10 9-15 10-9 12 2 11 2-1 10-5 9-4 10-2 15 1 10-3 6 0 6-2 6-11 8-8 9-8 16 1 14-4 6-10 8-10 10-6-3-2-4-9 0-6 6z"/>
<path fill="#c2d82e" d="M3673 1569l-1 20 7 3-6 6-6 4-6 9-4 8-1 14-4 6 0 13-5 5-1 10-2 1-2 9 5 8 1 21 3 15-2 9 4 10 9 9 10 22-7-2-23 3-5 2-4 11 3 7-3 20-2 17 5 3 12 7 5-3 1 18-13 0-7-9-6-7-13-3-4-9-11 6-13-3-6-7-11-2-8 0-1-5-6 0-7-1-11 2-7 0-4 1 1-20-6-6-1-11 2-10-3-6-1-11-20 0 1-6-8 0-1 3-11 1-4 10-3 4-9-3-6 3-11 1-6-9-4-5-5-10-4-13-51 0-6 2-4-1-8 3-2-6 4-1 1-8 3-4 6-4 4 2 6-6 9 0 2 4 6 3 10-10 10-8 4-6-1-14 8-16 8-9 11-8 2-6 0-6 3-6-1-10 2-15 4-10 5-9 1-10 1-12 7-9 9-6 14 6 11 7 12 1 13 3 5-10 2-1 8 2 19-9 7 4 5-1 3-4 6-1 13 1 11 1 5-2 11 14 7 2 5-3 8 1 9-3 4 7z"/>
<path fill="#dce021" d="M3427 1729l4 13 5 10 4 5 6 9 11-1 6-3 9 3 3-4 4-10 11-1 1-3 8 0-1 6 20 0 1 11 3 6-2 10 1 11 6 6-1 20 4-1 7 0 11-2 7 1 2 5-2 8 3 8-2 7 1 5-35 0-1 54 12 14 11 11-32 7-41-3-12-8-68 1-3 1-10-8-11 0-10 3-9 3-1-11 2-15 6-15 1-7 6-16 4-7 9-11 6-7 2-13-1-10-5-6-5-10-4-10 1-4 5-6-5-17-4-11-8-11 1-3 8-3 4 1 6-2zM3360 1726l-4 1-5-12 7-8 6-3 6 6-6 4-3 4z"/>
<path fill="#d2dd26" d="M3726 1468l-2 0 0-9-2-6-8-6-2-12 2-13-8-1-1 4-11 1 4 4 2 11-10 9-8 12-9 2-14-10-6 4-2 5-9 3-1 3-17 0-2-3-12-1-6 3-5-1-9-10-3-5-12 2-4 8-5 15-6 4-5 1-1 0-6-5-1-6 3-7-1-7-9-10-2-7 0-4-6-6 0-9-4-7-6 1 2-6 4-7-2-7 6-6-4-4 5-10 7-13 15 2-1-68 0-7 20 0 0-34 68 0 66 0 68 0 5 17-4 3 3 17 6 21 7 4 9 6-9 10-12 3-6 5-1 11-8 25 2 7-2 14-7 17-11 9-7 13-2 7-8 4-5 18z"/>
<path fill="#cfdc28" d="M3673 1569l-15-11-4-7-9 3-8-1-5 3-7-2-11-14-2-5-13-7-4-10-7-8-12-8 0-6-9-7-12-7 5-1 6-4 5-15 4-8 12-2 3 5 9 10 5 1 6-3 12 1 2 3 17 0 1-3 9-3 2-5 6-4 14 10 9-2 8-12 10-9-2-11-4-4 11-1 1-4 8 1-2 13 2 12 8 6 2 6 0 9 2 0 1 13-3 6-9 0-6 10 11 1 8 8 3 7 8 4 10 18-11 12-11 10-10 8-12 0-14 3-11-3z"/>
<path fill="#cfdc28" d="M3869 1416l-6-6-7-10-7-5-5-6-14-7-12 0-4-4-10 4-11-7-5 12-20-3-2-7 8-25 1-11 6-5 12-3 9-10 10 20 5 15 9 9 23 16 9 9 10 10 5 6 8 5-5 4z"/>
<path fill="#cfdc28" d="M3881 1413l4 5 0 8-10 3 8 5-7 9-4-3-4 1-9 0 0-5-2-5 6-8 6-7 7 1z"/>
<path fill="#cfdc28" d="M3793 1375l11 7 10-4 4 4 12 0 14 7 5 6 7 5 7 10 6 6-6 7-6 8 2 5 0 5 9 0 4-1 4 3-3 6 6 10 6 8 7 6 55 20 14 0-48 51-22 1-15 12-11 0-4 5-12 0-7-5-16 7-4 7-12-1-4-3-4 1-5 0-21-15-12 0-6-5 0-10-9-3-10-18-8-4-3-7-8-8-11-1 6-10 9 0 3-6-1-15 5-18 8-4 2-7 7-13 11-9 7-17 2-14 20 3z"/>
<path fill="#bcd630" d="M3994 1432l9-2 8-5 7 0 0 4-1 10 0 9-4 6-5 19-8 19-10 21-15 25-14 19-20 23-17 14-26 17-16 13-18 21-4 9-4 4-10-14 0-62 15-20 4-5 11 0 15-12 22-1 48-51 12-14 8-11 0-8 0-18 0-7-10 1-14 4-15 5-18 2-17 5-8-1-8-7-3-7-5-3-7 9-3 6 6 10 6 8 7 6 55 20 14 0 12-14 8-11 0-33z"/>
<path fill="#e6e31c" d="M3846 1644l10 14-12 6-4 8-7 1-2 12-5 7-4 11-7 6-24-17-1-10-62-35-3-2 0-18 5-7 8-11 7-12-8-20-2-9-8-11 11-10 11-12 9 3 0 10 6 5 12 0 21 15 5 0 4-1 4 3 12 1 4-7 16-7 7 5 12 0-15 20z"/>
<path fill="#a4cf39" d="M3691 1647l-19-1-6 2-10 5-4-1 0-13 4-6 1-14 4-8 6-9 6-4 6-6-7-3 1-20 7-4 11 3 14-3 12 0 10-8 8 11 2 9 8 20-7 12-8 11-5 7 0 18z"/>
<path fill="#c8da2b" d="M3666 1648l7 10-1 10-5 2-9-1-5 10-11-2 2-9 2-1 1-10 5-5 4 1z"/>
<path fill="#c8da2b" d="M3667 1670l1 7 4 4 0 5-4 4-7 9-6 6-7 1-1-21-5-8 11 2 5-10z"/>
<path fill="#c8da2b" d="M3725 1645l3 2 62 35 1 10 24 17-7 20 1 10 10 6 1 5-5 10 1 5-1 8 6 11 7 17 6 3-13 10-19 7-10 0-6 5-12 0-4 2-21-5-12 2-5-23-6-8-3-5-17-3-10-5-10-3-7-3-7-4-10-22-9-9-4-10 2-9-3-15 7-1 6-6 7-9 4-4 0-5-4-4-1-7 5-2 1-10-7-10 6-2 19 1zM3815 1726l5 8-3 6zM3824 1712l3 5-3 4z"/>
<path fill="#c8da2b" d="M3706 1786l8 8 4 14-3 5-3 13 3 14-5 6-5 16 9 4-52 15 2 12-13 2-10 7-2 6-6 1-15 14-9 11-6 0-6-2-19-1-3-2 0-1-6-4-11-1-14 4-11-11-12-14 1-54 35 0-1-5 2-7-3-8 2-8-2-5 6 0 1 5 8 0 11 2 6 7 13 3 11-6 4 9 13 3 6 7 7 9 13 0-1-18-5 3-12-7-5-3 2-17 3-20-3-7 4-11 5-2 23-3 7 2 7 4 7 3 10 3z"/>
<path fill="#cfdc28" d="M3737 1825l-5 13 5 22 5 0 7 5 7 12 1 22-7 4-5 12-12-11-1-12 4-8-1-7-7-4-5 2-9-9-9-4 5-16 5-6-3-14 3-13 3-5-4-14-8-8 17 3 3 5 6 8z"/>
<path fill="#c2d82e" d="M3737 1825l12-2 21 5 4-2 12 0 6-5 10 0 19-7 13-10 3 8-1 17 3 15 0 26 3 9-5 12-6 12-11 10-16 7-19 8-19 18-7 3-12 12-7 4-1 13 8 12 3 10 1 5 3 0-1 16-3 8 4 3-2 7-7 6-14 6-21 9-7 6 1 8 5 1-2 9-13-1-1-7-3-8-1-6 3-19-5-12-8-24 18-19 5-12 2-2 2-10-3-5 1-13 3-11 0-22-8-5-9-2-3-4-8-3-14 0-1-6-2-12 52-15 9 9 5-2 7 4 1 7-4 8 1 12 12 11 5-12 7-4-1-22-7-12-7-5-5 0-5-22z"/>
<path fill="#f4ea1a" d="M3679 2007l-9-1-6 2-8-3-7 0-11-8-13-3-5-11 0-5-7-2-19-19-6-10-3-3-7-13 19 1 6 2 6 0 9-11 15-14 6-1 2-6 10-7 13-2 1 6 14 0 8 3 3 4 9 2 8 5 0 22-3 11-1 13 3 5-2 10-2 2-5 12z"/>
<path fill="#ece61c" d="M3649 2005l-24 12-15 13-6 11-5 7-9 1-3 8-2 5-10 4-14-1-9-4-7-2-8 3-4 9-8 5-9 7-12 2-4-6 2-10-10-16-5-3 0-50 17 0 0-61 13 0 26-6 7 7 11-7 5 0 9-4 3 2 7 13 3 3 6 10 19 19 7 2 0 5 5 11 13 3z"/>
<path fill="#faed19" d="M3427 2115l-13-13-6-22-4-19-4-24-6-3 0-20-3-9-6-7-9-14-9-21-10-19-9-21 9-3 10-3 11 0 10 8 3-1 68-1 12 8 41 3 32-7 14-4 11 1 6 4 0 1-9 4-5 0-11 7-7-7-26 6-13 0 0 61-17 0 0 50 0 63-15 8-9 2-11-3-7-2-3-7-7-5z"/>
<path fill="#fbea14" d="M3685 2126l-3 3-8 8-4 9-10 12-19 18-12 10-13 8-18 6-9 1-2 5-10-2-8 3-19-4-10 3-7-1-18 6-14 3-11 7-7 0-8-6-5-1-8-7-1 2-2-4 0-10-5-12 5-3 0-13-11-16-9-14-12-22 8-9 7 5 3 7 7 2 11 3 9-2 15-8 0-63 5 3 10 16-2 10 4 6 12-2 9-7 8-5 4-9 8-3 7 2 9 4 14 1 10-4 2-5 3-8 9-1 5-7 6-11 15-13 24-12 7 0 8 3 6-2 9 1 8 24 5 12-3 19 1 6-8-3-5 1-2 5-4 7 0 6 10 9 10-2 3-8 13 1-4 12-2 14-5 8z"/>
<path fill="#faed19" d="M3642 2121l6 5-6 9-3 5-9 3-3 5-6 2-13-13 9-11 9-7 8-3z"/>
<path fill="#faed19" d="M3694 2083l-3 8-10 2-10-9 0-6 4-7 2-5 5-1 8 3 3 8z"/>
<path fill="#c2d82e" d="M3991 1841l5 7 4 12 3 20 4 8-2 8-3 5-5-10-4 5 4 13-2 7-5 4-1 14-6 20-9 24-10 32-7 23-7 20-14 4-15 7-10-4-13-6-5-9-1-15-6-14-2-12 3-12 8-3 0-6 8-13 2-11-4-8-3-10-2-16 6-10 3-10 8-1 9-4 7-3 7 0 10-9 14-11 5-8-2-8 7 2 9-11 1-11 5-7z"/>
<path fill="#dce021" d="M3885 1823l3 8-5-1zM3902 1835l3 5-5-2z"/>
<path fill="#dce021" d="M2746 1372l5 2-3 2zM2721 1340l5-2-4 5z"/>
<path fill="#dce021" d="M3260 1624l3-2-2 5z"/>
<path fill="#faed19" d="M4125 1971l5 1-4 6z"/>
<path fill="#fbea14" d="M3674 446l19-5 25 10 43 3 77 22 10 17-19 9-27 5-75-12-17 2 31 12 1 25 36 9 3-9-11-7 11-5 41 9 16-4-12-11 39-17 15 1 17 5 8-12-13-10 8-10-13-10 47 7 11 8-21 2 0 10 12 5 27-3 4-10 95-24 13 1-17 11 21 1 12-5 32-2 26-6 18 10 21-10-19-10 10-7 49 7 24 5 62 18 11-8-17-9-1-5-21-1 7-7-10-14 0-5 31-15 11-16 12-3 46 3 4 11-17 13 12 5 5 12-4 24 19 10-9 12-32 24 19 2 7-5 18-6 5-8 15-9-9-8 6-12-18-2-4-8 14-17-22-14 30-12-3-12 8 0 9 9-7 17 19 2-9-12 29-7 35 0 31 9-15-14-1-18 29-3 41 0 37-1-14-10 20-11 19 0 34-8 44-4 5-4 46-1 14 4 37-10 33 1 3-8 17-7 41-7 29 5-24 5 39 2 3 9 17-4 50 0 37 9 14 6-4 9-18 4-45 10-13 5 20 2 26 4 15-3 8 12 8-5 28-3 55 3 3 8 71 3 2-13 36 2 27 0 27 9 8 11-10 7 21 14 27 6 16-17 28 7 29-4 32 5 12-4 29 2-12-16 23-7 152 11 15 10 44 13 69-4 34 3 14 7-2 13 20 5 24-3 30-2 31 4 33-2 30 15 21-5-14-11 8-8 53 5 36-1 49 8 24 8 0 67 0 1-22 8-22-2 15 9 10 14 9 4 1 7-5 5-30-4-48 12-15 3-26 12-25 10-7 8-24-12-44 13-8-6-16 8-24-3-5 12-20 16 1 7 19 4-2 24-16 1-7 14 7 7-29 9-7 20-26 4-5 17-23 16-7-12-7-25-10-38 8-23 15-11 1-7 27-4 30-21 29-18 31-13 14-24-22 1-10 14-43 19-14-21-44 6-43 28 15 11-38 4-26 2 1-12-26-3-23 8-51-3-56 5-55 33-65 41 27 2 8 10 17 4 11-8 18 1 25 18 0 15-13 17-1 20-8 27-26 25-6 12-56 49-23 10-11 0-10-8-23 13-3 5-2-3 0-8 8-1 3-20-5-14 15-6 21 3 11-17 6-19 7-6 9-15-29 5-14 7-26 0-7-16-20-12-30-6-6-17-6-10-6-7-11-17-15-7-25-5-23 1-21 3-14 8 9 4 0 10-9 5-15 18 0 8-24 10-20-6-21 1-9-5-10-2-25 12-22 3-16 4-21-3-16 0-10-8-17-9-17-2-21 2-16 3-25-7-3-12-20-5-15-2-19-7-18 18 7 10-17 12-24-5-17 0-11-8-18 0-15-6-26 8-32 15-18 3-7 1-9-10-22 2-7-7-12-3-8-10-10-3-24 4-23-10-9 9-38-43-22-13 6-5-43 16-16 1 2-10-22-5-18 4-5-18-31-4-15 8-43 6-8 4-64 6-7 6 12 11-16 5 3 4-17 9 28 11-4 8-24 0-5 5-22-9-27 0-18 7-20-7-37-11-27 0-35 19-2 12-18-10-13 19 5 3-10 13 14 12 13-1 11 12-2 8 9 3-8 10-16 3-17 18 15 16-2 11 19 20-10 7-3 4-8-1-11-10-5-1-11-4-5-7-16-3-10 3-3-4-23-8-25-2-15-3-2 2-21-15-20-6-14-10 12-3 14-14-10-7 26-7-1-3-15 2 0-7 9-5 17-1 2-6-4-9 7-9 0-5-25-6-10 0-10-7-13 2-22-6 0-3-6-8-13 0-2-6 5-3-11-10-18 2-5-1-4 4-7-1-4-11-4-5 3-2 14 1 7-4-5-5-12-2 1-3-7-4-10-11 3-4-1-8-17-4-9 2-2-5-18-4-5-10-2-8-8-4 7-5-5-16 12-10-2-3 19-10-18-7 37-22 15-10 7-9-25-11 6-11-15-13 12-15-20-19 16-13-26-11 2-12 14-2 29-7zM3483 704l4-8 24-5 17 3 8 2-2 5 1 4-31 1zM89 457l42 13 44 17-1 10 11 4-4-12 46 3 34 15-17 8-28 2-1 16-6 4-16-1-13-6-23-5-4-7-17-3-19 2-9-6 3-6-20 4-2 15zM5563 704l15 4 5 23 2 21 22 44-24-5-10 24 15 18 0 12-12-11-11 14-4-15 2-16-2-19 4-13 1-22-10-17 2-23zM4024 407l18 15 20 3 32 2 32 0-10-12-22-1-3-16 10-10 25-14 18-8 25-12 27-5 50-7 28-19 34-1 11 7-11 5-61 8-61 17-39 12-37 12-16 8-36 2zM4779 248l34 8 39 16-5 16-36 2-48-5-28-6-13-12-23-3 45-12zM4850 273l67 22 19 3-97 7 10-17zM4871 283l26-2 44 10-41-5zM5509 335l45 0 62 9-14 13-63 0-28 4-34-11 9-12zM5633 351l35-3 43 5-19 6-27-2zM5527 381l38 4 25 0-2-5-58 3zM5665 348l43 4zM6187 420l22-6 0 11-19 1zM89 414l41 3-1 3-18 4-22 1zM3931 261l68 8 25-12-45 7-2-9-21-1zM3911 259l47 8zM3970 453l20 6 12-6-20-5zM4147 434l31 7-16-10zM5799 774l4-8-12 6zM5747 825l5-3-21 11zM5663 857l31-8-48 24zM5622 884l19-10-12 4z"/>
<path fill="#f89b1b" d="M4634 792l-9-10-22 2-7-7-12-3-8-10-10-3-24 4-23-10-9 9-38-43-22-13 6-5-43 16-16 1 2-10-22-5-18 4-5-18-31-4-15 8-43 6-8 4-64 6-7 6 12 11-16 5 3 4-17 9 28 11-4 8-24 0-5 5-22-9-27 0-18 7-20-7-37-11-27 0-35 19-2 12-18-10-13 19 5 3-10 13 14 12 13-1 11 12-2 8 9 3 16-3 19-8 15 4 17 0 3 10-3 17-15-3-15 3 0 12-17-1 1 5 9 4 8 16 20 6 3 6-4 11 1 0 26-9 12 4 12 14 8-1 0-63 44-10 43 20 16 16 20-3 29-1 21 12-2 17 9 0 3 14 22 1 4 8 7 0 7-12 23-12 9-4 4-7 42-7-3 10 13-13 24 7 34-1 25 1 9 6 10 3-1-10 12-4-16-30 34-6 9-4 12-31 34 6 9-8 1-17 14-1z"/>
<path fill="#fec70b" d="M4100 927l0-63 44-10 43 20 16 16 20-3 29-1 21 12-2 17 9 0 3 14 22 1 4 8 7 0 7-12 23-12 9-4 5 2-14 11 13 7 12-5 20 9-22 12-13-1-7 0-2-4 3-8-22 4-6 10-8 10-14-1-5 8 13 4 4 12-10 18-13-4-9 0 0-10-22-8-18-8-11-8-20-12-8-17-6-4-18 1-7-3-1-14-23-9-15 10-14 6 3 9z"/>
<path fill="#faa817" d="M4042 919l-1 0 6 11 2-13 13-4 5 10-5 11-13 0-4 14 11 1-4 12 13 6-2 18 3 12 15-4 12-9 11 0 8-3 12 1 18 9 14 2 19 15 13 1 2 14 17 6 13-2 3-8 14-2 9-5 4-14 14-3 3-6 8 4 5 1 0-10-22-8-18-8-11-8-20-12-8-17-6-4-18 1-7-3-1-14-23-9-15 10-14 6 3 9-20 0-8 1-12-14-12-4z"/>
<path fill="#fecd08" d="M4355 910l4-7 42-7-3 10 13-13 24 7 34-1 25 1 9 6 10 3-2 4-27 9-6 7-22 2-6 11-18-3-12 4-16 8 2 4-4 4-33 2-21-5-18 1 2-10 18 3 6-5 13 1 22-12-20-9-12 5-13-7 14-11z"/>
<path fill="#fce70f" d="M4356 945l-6 5-18-3-2 10 18-1 21 5 33-2 4 15 5-1 11 4-1 6 3 10-18 0-12-1-10 7-8 2-6 3-6-5 1-14-5-1 2-5-9-4-8 6-1 6-3 3-10 0-6 7-5-3-13 6-5-2 10-18-4-12-13-4 5-8 14 1 8-10 6-10 22-4-3 8 2 4z"/>
<path fill="#fbae14" d="M4641 791l18-3 32-15 26-8 15 6 18 0 11 8 17 0 24 5 17-12-7-10 18-18 19 7 15 2 20 5 3 12 25 7 16-3 21-2 17 2 17 9 10 8 16 0 21 3 16-4 22-3 25-12 10 2 9 5 21-1-9 13-12 17 5 7 9-2 17 2 13-6 14 5 15 12-2 6-13-2-25 3-12 4-12 12-26 6-17 9-18-3-9-2-9 11 5 7 3 5-12 6-12 9-20 6-25 1-28 6-20 9-7-5-21 0-25-11-17-2-22 2-35-4-19 1-10-10-8-16-10-2-21-11-23-2-20-3-6-7 6-20-11-14-25-6-14-9z"/>
<path fill="#faed19" d="M5319 783l30 6 20 12 7 16 26 0 14-7 29-5-9 15-7 6-6 19-11 17-21-3-15 6 5 14-3 20-8 1 0 8-11-10-7 10-26 7 3 9-15 0-8-6-12 12-19 9-13 11-24 5-13 8-18 5 9-8-4-7 14-11-9-9-15 6-19 12-11 11-16 1-9 7 9 12 14 3 0 7 14 5 19-12 15 7 11 0 3 9-24 5-8 9-17 9-8 12 18 9 7 17 10 15 11 13 0 13-11 4 4 10 11 5-3 14-4 13-10 2-12 18-14 22-16 21-23 15-24 15-19 2-10 7-6-5-10 8-24 9-18 2-6 18-9 1-4-12 4-7-23-5-8 3-17-5-8-7 2-9-15-4-8-6-15 9-17 2-13 0-9 4-9 3 3 19-9 0-2-4 0-7-13 4-7-3-13-6 5-14-11-3-4-16-18 3 2-20 16-15 1-14 0-13-8-4-6-10-9 2-19-3 6-7-8-11-12 7-14-4-20 11-15 13-14 2-8-5-9 0-12-4-9 4-11 13-2-14-10 4-20-1-19-4-14-8-13-3-6-8-9-3-17-11-14-5-7 4-24-12-16-11-5-19 12 3 1-9-7-9 1-13-18-20-28-7-5-13-12-8-3-5-3-10 1-6-11-4-5 1-4-15 4-4-2-4 16-8 12-4 18 3 6-11 22-2 6-7 27-9 2-4-1-10 12-4-16-30 34-6 9-4 12-31 34 6 9-8 1-17 14-1 13-12 7-1 4 12 14 9 25 6 11 14-6 20 6 7 20 3 23 2 21 11 10 2 8 16 10 10 19-1 35 4 22-2 17 2 25 11 21 0 7 5 20-9 28-6 25-1 20-6 12-9 12-6-3-5-5-7 9-11 9 2 18 3 17-9 26-6 12-12 12-4 25-3 13 2 2-6-15-12-14-5-13 6-17-2-9 2-5-7 12-17 9-13 20 6 24-10 0-8 15-18 9-5 0-10-9-4 14-8 21-3 23-1 25 5 15 7 11 17 6 7 6 10zM5025 1311l-15 9-14-6 0-14 8-8 19-5 9 1 4 6-7 8z"/>
<path fill="#fbea14" d="M5219 1214l-10 28-7 14-9-15-2-13 10-16 13-13 8 5z"/>
<path fill="#e6e31c" d="M5370 908l2 3-6-1-8 6-5 6 1 12-9 4-3 3-6 5-12 2-7 5-1 8-1 1 6 3 10 8-2 4-8 1-12 1-6 7-8 0-1 1-8-3-2 3-5 2-1-4-4-1-5-3 5-7 4-2-2-3 5-10-2-2-9-2-8-5 13-11 19-9 12-12 8 6 15 0-3-9 26-7 7-10z"/>
<path fill="#fde30a" d="M5331 973l15 20 4 11 0 19-6 10-16 3-13 7-16 1-2-9 4-13-8-17 13-3-12-15 1-1 8 0 6-7 12-1 8-1zM5294 1063l12-3-5 5z"/>
<path fill="#fee005" d="M5546 998l-7 13 3 9-9 12-21 8-30 1-25 19-11-6-1-13-29 4-20 8-20 0 17 12-11 29-11 7-9-6 5-15-11-5-7-12 16-5 9-11 17-9 13-11 33-5 19 3 17-30 12 8 25-17 9-7 11-20-3-20 7-10 18-3 9 23 0 14-16 17zM5595 878l12 4 12-7 4 19-25 4-15 17-27-12-9 19-19 0-2-17 8-13 18-1 5-23 5-13 20 17zM5399 1060l10-10 9 2 7-7 13 3 2 6-10 11-7-6-8 4-5 10zM5320 1185l10-12-7 5zM5347 1148l7-3-4 6zM5366 1114l8-2-5 4z"/>
<path fill="#dce021" d="M4472 1026l18 20-1 13 7 9-1 9-12-3 5 19 16 11 24 12-11 8-6 16 16 6 16 8 22 10 24 2 9 9 13 1 21 4 14 0 2-7-2-11 1-7 10-4 2 14 0 3 16 7 10-3 15 1 14 0 1-11-7-5 14-2 15-13 20-11 14 4 12-7 8 11-6 7 19 3 1 6-6 3 1 11-12-3-22 11 1 10-10 14-1 8-7 15-13-4-1 17-4 6 2 7-9 4-8-27-5 0-3 11-9-8 5-10 8-1 7-15-9-3-16 1-16-3-2-11-8-1-13-8-6 12 12 9-11 6-4 6 11 5-3 10 6 13 3 14-3 6-11 0-21 4 1 12-10 10-24 12-19 20-13 11-17 11 0 7-8 5-16 6-8 1-4 13 3 22 1 14-7 16 0 29-9 1-8 13 5 5-15 5-6 12-7 5-16-16-8-24-6-17-6-8-9-17-4-21-4-11-15-23-7-33-5-22 0-20-3-16-25 10-12-2-22-21 8-6-5-6-20-15 11-11 38 0-4-15-9-8-2-13-11-8 19-18 19 2 18-18 11-18 16-17 0-12 14-10-13-8-6-11-6-15 8-8 26 4 19-2z"/>
<path fill="#fec70b" d="M4427 998l12 8 5 13 28 7-16 14-19 2-26-4-8 8 6 15 6 11 13 8-14 10 0 12-16 17-11 18-18 18-19-2-19 18 11 8 2 13 9 8 4 15-38 0-11 11-13-4-4-12-14-13-31 3-28 0-24 3 7-20 24-9-1-8-8-2-1-15-16-8-7-10-8-9 28 9 17-3 11 2 3-4 12 2 22-7 0-15 10-9 13 0 1-5 14-2 6 1 6-4-1-11 8-10 10-4-6-11 16 0 5-6-1-6 8-8-2-8-4-7 10-8 19-3 19-2 9-3z"/>
<path fill="#e3e21d" d="M4190 1023l17 6 13-2 3-8 14-2 9-5 4-14 14-3 3-6 8 4 5 1 9 0 13 4 5 2 13-6 5 3 6-7 10 0 3-3 1-6 8-6 9 4-2 5 5 1-1 14 6 5 6-3 8-2 10-7 12 1 18 0 3 5-10 2-9 3-19 2-19 3-10 8 4 7 2 8-8 8 1 6-5 6-16 0 6 11-10 4-8 10 1 11-6 4-6-1-14 2-1 5-13 0-10 9 0 15-22 7-12-2-3 4-11-2-17 3-28-9 15-16-1-10-13-3-1-11-6-14 7-9-7-3 5-12z"/>
<path fill="#f4ea1a" d="M4647 1155l-1 7 2 11-2 7-14 0-21-4-13-1-9-9-24-2-22-10-16-8-16-6 6-16 11-8 7-4 14 5 17 11 9 3 6 8 13 3 14 8 19 4z"/>
<path fill="#ece61c" d="M4708 1157l7 5-1 11-14 0-15-1-10 3-16-7 0-3 11-13 9-4 12 4 9 0z"/>
<path fill="#e3e21d" d="M4724 1254l0 13-6-3 1 14-5-9 0-9-4-8-7-10-15-1 1 7-5 10-8-4-2 3-5-1-6-2-3-14-6-13 3-10-11-5 4-6 11-6-12-9 6-12 13 8 8 1 2 11 16 3 16-1 9 3-7 15-8 1-5 10 9 8 3-11 5 0z"/>
<path fill="#cfdc28" d="M4539 1501l-2 18-7 5-15 4-8-14-3-24 8-28 11 9 8 12z"/>
<path fill="#faed19" d="M4397 1556l3 2-2 5z"/>
<path fill="#eee81b" d="M3910 997l-9-13 3-6-5-19 11-5 3 6 9 8 11 2 7 0 20-13 6-1 5 5-6 9 11 8 4 0 5 12 17 4 11 8 24 3 27-4 2-4 15-4 12-9 11 0 8-3 12 1 18 9 14 2 19 15 13 1 2 14-7 21-5 12 7 3-7 9 6 14 1 11 13 3 1 10-15 16 8 9 7 10 16 8 1 15 8 2 1 8-24 9-7 20-31-5-19-4-19-3-8-20-8-3-13 3-17 8-21-6-17-13-16-5-12-16-12-23-9 3-11-5-6 6-10-9 0-9-5 0 2-12-8-13-21-9-12-16 4-14 9-6-2-10-11-5z"/>
<path fill="#e6e31c" d="M3921 1017l11 5 2 10-9 6-4 14 12 16 21 9 8 13-2 12 5 0 0 9 10 9-11-1-11-1-12 16-32-1-48-34-25-12-21-5-7-20 38-18 6-21-1-12 9-4 9-11 7-3 20 3 6 4 8-3z"/>
<path fill="#bcd630" d="M3776 926l25 7 20-3 14 2 20-9 19-1 16 8 3 6-2 9 13 4 6 5-11 5 5 19-3 6 9 13-8 3-6-4-20-3-7 3-19 3-10-1-19 7-14 0-9-3-19 4-5-3-1 10-5 3-4 4-7-8 7-6-11 1-14-4-11 10-26 2-14-9-18-1-4 8-12 2-17-10-18 1-10-17-13-10 9-13-11-8 19-16 26-1 7-13 33 2 20-11 20-4 28-1zM3592 935l4-2 5-11-8-4 17-5 15 2 2 6 15 6-3 4-20 1-8 5-14 9z"/>
<path fill="#e9e51c" d="M3808 1062l-33 18-19-7 2-3 0-7 4-9 9-6-2-7-8-1-2-13 5-7 4-4 5-3 1-10 5 3 19-4 9 3 14 0 19-7 10 1 19-3-9 11-9 4 1 12-6 21z"/>
<path fill="#f4ea1a" d="M3758 1063l-5 1-1 2-6 0 6-13 9-12 0-1 8 1 2 7-9 6z"/>
<path fill="#fce70f" d="M3756 1073l-3 5-6-2-4 11 5 2-5 2 0 5 8-2 0 6-8 28-11-30 5-5-2-1 5-8 3-13 3-4 0-1 6 0 1-2 5-1 0 7z"/>
<path fill="#faed19" d="M3753 1078l0 11-2 5-8 2 0-5 5-2-5-2 4-11z"/>
<path fill="#ece61c" d="M3753 1078l3-5 19 7 33-18 7 20-3 3-34 8 17 17-6 3-3 6-12 2-4 6-8 6-19-3 0-2 8-28 0-6 2-5z"/>
<path fill="#e6e31c" d="M3743 1130l19 3 8-6 4-6 12-2 3-6 6-3-17-17 34-8 3-3 21 5 25 12 48 34 32 1 15 2 4 8 12 0 7 14 8 4 3 6 12 7 1 7-2 6 2 6 5 4 2 6 3 4 5 3 5-1 3 7 1 4 6 17 51 8 4-3 7 12-11 34-51 17-49 6-16 8-12 18-8 3-4-6-7 1-16-2-3-1-20 0-5 2-7-5-4 8 2 8-8 5-2-7-5-5-1-7-9-6-9-14-5-14-12-12-7-3-12-16-2-12 1-10-10-19-8-6-9-4-5-10 1-3-5-9-5-4-7-13-10-13-9-12-8 0 2-9 1-6z"/>
<path fill="#fde30a" d="M4052 1346l-12 5-4 7 0 6-17 7-27 8-15 12-8 1-5-1-10 7-11 3-14 1-4 1-4 4-5 2-2 4-9 0-5 2-12-1-4-10 0-9-2-5-4-13-5-7 4 0-2-8 2-3-1-8 8-5-2-8 4-8 7 5 5-2 20 0 3 1 16 2 7-1 4 6 8-3 12-18 16-8 49-6 13 28z"/>
<path fill="#e0e11f" d="M4088 1243l0-7 5-7 0-7 8-3-3-3 1-11 9 0 7 12 10 6 12 2 10 3 8 10 5 6 6 2 0 4-7 10-2 5-7 5-7 12-7-1-4 4-3 8 2 12-1 2-8 0-11 6-1 8-4 4-11 0-6 4 0 7-9 5-9-2-11 6-8 1-6-12-13-28 51-17 11-34zM4105 1192l-3-6 5-6 2 2-1 7z"/>
<path fill="#f4ea1a" d="M4026 1217l3-1 0 5 14-3 14 0 10 1 12-12 12-10 11-11 3 6 3 13-9 0-1 11 3 3-8 3 0 7-5 7 0 7-4 3-51-8-6-17z"/>
<path fill="#fce70f" d="M4013 1208l-1-12 4-9 5-2 5 5 0 10-3 10-5 1z"/>
<path fill="#fee005" d="M3964 1119l4 8-1 4 5 13-12 0-4-8-15-2 12-16z"/>
<path fill="#fee005" d="M4007 1184l3 0-1 6z"/>
<path fill="#f7941d" d="M3855 923l3-7-4-12-10-6-10-2-6-5 2-2 15 3 25 2 23 8 3 4 10-3 16 3 5 7 11 4-4 3 8 9-2 2-10-1-12-5-5 3-23 2-16-8z"/>
<path fill="#f68a1e" d="M3890 930l23-2 4 4 7 3-4 4 9 6-5 6 8 4 7 3 1 12-7 0-6-9 0-3-8 0-5-5-4 1-6-5-13-4 2-9z"/>
<path fill="#fecd08" d="M3914 953l5 5 8 0 0 3 6 9-11-2-9-8-3-6zM3954 928l8 1 3-4 10-7 9 9 9 12 7 1 6 5-14 1-3 13-3 6-6 4 0 9-4 0-11-8 6-9-5-5-6 1-20 13-1-12-7-3-8-4 5-6-9-6 4-4-7-3-4-4 5-3 12 5 10 1 2-2-8-9 4-3 5 1z"/>
<path fill="#c2d82e" d="M4841 1286l-10 7-12 1-7 18-8 3 9 15 10 13 7 11-6 15-6 3 4 8 12 14 2 9-1 8 7 16-9 16-9 17-1-13 5-12-6-11 2-18-7-9-6-20-3-22-7-14-11 9-20 12-9-2-11-4 6-21-4-16-13-19 2-6-10-3-12-13-1-14 6 3 0-13 9-4-2-7 4-6 1-17 13 4 7-15 1-8 10-14-1-10 22-11 12 3-1-11 6-3-1-6 9-2 6 10 8 4 0 13-1 14-16 15-2 20 18-3 4 16 11 3-5 14 13 6 7 3 13-4 0 7-14 11-4 6z"/>
<path fill="#faed19" d="M4893 1422l-15-8-15 0 3-13-15 0-2 19-9 25-5 15 1 12 11 0 7 16 3 15 9 9 11 2 8 9-5 7-11 2-2-8-14-8-2 3-7-6-3-9-9-9-8-8-3 10-3-10 1-10 5-17 9-17 9-16-7-16 1-8-2-9-12-14-4-8 6-3 6-15-7-11-10-13-9-15 8-3 7-18 12-1 10-7 10-4 7 5 1 10 12 1-4 18 0 15 18-10 5 3 10 0 3-6 13 1 13 14 1 17 14 14-1 15-5 7-16-2-22 3-11 14z"/>
<path fill="#d6de24" d="M4938 1386l5-7 1-15-14-14-1-17-13-14-13-1-3 6-10 0-5-3-18 10 0-15 4-18-12-1-1-10-7-5 4-6 14-11 2 4 9 0-3-19 9-3 10 13 7 16 21 0 7 15-11 4-5 6 21 11 14 20 11 15 12 12 5 12-4 17-15-7-7 12z"/>
<path fill="#f4ea1a" d="M4986 1263l-23 14-14 16-4 12 13 18 16 22 16 11 10 13 8 32-3 30-14 11-19 11-14 14-21 16-6-11 4-12-12-9 14-7 18-1-7-11 28-13 2-20-4-11 4-17-5-12-12-12-11-15-14-20-21-11 5-6 11-4-7-15-21 0-7-16-10-13 9-4 13 0 17-2 15-9 8 6 15 4-2 9 8 7z"/>
<path fill="#fce70f" d="M4908 1448l-6-9-9-17-4-21 11-14 22-3 16 2 14 7 7-12 15 7 4 11-2 20-28 13 7 11-18 1-14 7z"/>
<path fill="#faed19" d="M4867 1524l2 8 11-2 5-7 4 2 10 10 7 11 1 12-1 8 1 6 1 10 6 4 7 15 0 6-12 1-16-12-20-14-2-9-10-11-2-14-7-9 2-13-3-7 2-3zM5166 1553l-13 6-15-3-19 0-6 19-7 6-8 24-14 3-16-4-9 1-9 9-11-2-11 4-12-10-3-11 13 6 13-3 3-15 8-3 20-4 12-13 8-11 8 9 4-6 8 1 1-11 1-9 13-11 8-14 7 0 9 9 1 7 11 5 14 5-1 7-12 1z"/>
<path fill="#faed19" d="M4910 1607l7-2-2 4z"/>
<path fill="#faed19" d="M5090 1552l7-6 15-10-1 9-1 11-8-1-4 6z"/>
<path fill="#faed19" d="M4769 1534l37 6 16 16 22 19 15 18 19 0 24 26 12 8-7 14 10 6 7 0 2 13 6 8 12 2 9 11-4 21-1 26-19 1-14-14-22-15-7-10-13-13-9-13-13-24-14-14-6-15-6-13-15-11-9-14-13-10-17-18zM4937 1745l15-16 21 1 14 7 7 1 1 7 33 1 5-6 30 7 7 11 26 4 20 10-19 6-19-7-15 1-19-2-15-3-20-7-12-2-7 4-31-8-3-8zM5153 1559l-10 16 13 15-3 8 19 16-20 1-6 12 0 16-15 12-2 17-6 25-2-6-19 8-6-11-12-1-9-5-21 6-6-8-11 1-15-3-2-22-8-5-8-14-3-15 2-16 10-11 3 11 12 10 11-4 11 2 9-9 9-1 16 4 14-3 8-24 7-6 6-19 19 0zM5278 1605l-14 17-12 3-17-3-28 1-15 2-2 13 15 15 9-8 32-5-2 7-7-2-7 10-15 6 16 22-3 6 15 20 0 11-9 5-7-6 8-14-16 6-5-4 3-7-13-10 1-16-11 5 2 20 0 24-10 2-8-5 5-15-3-17-7 0-5-11 7-11 2-14 9-26 4-7 14-12 13 5 22 2 19-1 17-12zM5546 1673l0 111-15-14-17-3-4 5-22 0 7-14 12-5-5-19-9-13-32-15-14-1-25-16-5 8-7 2-4-6 0-8-13-8 18-6 13 0-2-5-26 0-6-10-15-3-7-8 23-4 9-6 27 7 2 7 5 27 18 10 14-18 19-10 15 0 15 6 12 6zM5250 1806l7-19 16-7 2 4-11 17zM5187 1779l14-11 37-1-2 9-26 5zM5133 1772l15 1 12-2 14 6-20 3-11 3-9 0zM5196 1803l-25-11 16-4 16 10zM5119 1770l14 2-4 8-10-1zM5323 1592l12 11 2 7-2 15-8-2-3 10 8 9-5 2-7-10-5-22 3-14zM5348 1677l19 5 6 13-14-7-14-2-10 1-12 0 4-10zM5306 1693l-12-3-3-7 17-1 4 6zM4942 1656l19 16 2 10-14-5zM4978 1673l12 5-7 5zM4800 1605l13 14-8-7zM4829 1646l8 14-12-11zM5432 1724l7 10-7 11-3-12zM5376 1756l12 4-10 7z"/>
<path fill="#faed19" d="M5273 1780l3-4 14-4 12 0 5-2 7 2-7 4-17 8-15 0z"/>
<path fill="#faed19" d="M5199 1315l22 3 5 8 6 12-5 15-10 5-3 14 4 13 9 2 8-2 21 10-1 9 5 4-2 8-13-9-6-8-5 6-10-10-16 2-8-4 1-7 5-4-5-4-2 6-9-9-2-8-1-16 7 5 2-26zM5297 1486l2 11 1 10-6 15-6-17-8 9 6 12-5 8-20-10-5-12 5-8-11-8-5 7-8-1-12 10-3-5 6-15 11-4 9-7 6 8 13-5 3-7 12-1-1-13 14 8 1 9zM5262 1415l16 1 4 6 5 19-13-4 1 5 4 11-8 4-1-12-5-1-3-10 10 1 0-6zM5180 1436l4 14-11 9-10 12-22 16 8-12 13-11 10-11zM5221 1427l10 5 11 0 0 7-8 7-11 6-1-8 2-9zM5257 1454l-6 6-6 11-5 5-11-12 4-5 4-4 2-11 9-1-2 11 12-16zM5214 1406l-3 16-8-9-9-13 15 1z"/>
<path fill="#faed19" d="M5572 1811l18 32-2 27 19 0 12 14 2 26 12 22 1 18 22 10 23 16 15 32 17 2 3 18 21 18 17 27 8 34-2 15-6 32-4 12-20 24-7 14-10 23-10 21-3 12 1 5-10 7-19 0-15 6-19 15-14-8-10-3 2-9-8 4-16 12-15-5-19-4-17-5-10-10-3-14-4-10-8-5-17-2 5-8-4-12-8 12-15 3 10-10 1-10 7-9-1-12-14 16-10 5-7 13-14-6 0-11-10-12-8-6 3-4-22-10-29-9-31 2-22 5-18 7-17-2-17 9-16 4-2 9-6 7-15 0-11 2-15-3-12 1-12 2-10 9-5 0-18 9-23 0-17-11-10-4 1-10 7-2 4-3 0-7 2-12-2-10-9-17-3-9 1-10-8-11 0-5-7-7-2-14-10-13-3-7 9 7-7-16 8 5 5 7 0-8-8-14-2-5-3-5 1-10 4-4 2-18 5-12 1 12 7-12 15-6 7-7 14-6 8-2 4 2 13-5 11-2 3-4 5-2 9 1 18-5 9-9 5-8 8-9 2-6 0-9 12-15 7 15 8-3-7-9 6-8 8 3 2-12 8-9 5-6 9-3 0-6 7 2 0-3 16-5 13 8 10 10 10 0 10 1-3-9 8-14 7-3-2-5 7-10 10-6 9 2 15-3 0-9-13-5 10-3 10 5 10 7 14 4 5-3 10 5 10-4 7 2 3-3 8 9-4 8-7 7-6 0 2 7-4 8-7 9 1 5 14 10 13 5 9 5 12 11 5 0 9 4 3 6 15 5 12-5 3-10 4-7 2-10 5-13-2-8 0-5-2-10 3-14 3-3-2-5 3-9 4-10 0-4zM5621 2323l17 5 8-2 14-3 10 1 2 21-7 5-2 13-5-5-12 12-3 0-11-2-11-13-2-12-10-14 0-8zM5473 2236l20 0-7 7-15-2zM5366 1823l15 2-7 6-10-3zM5469 1864l9 3-7 5z"/>
<path fill="#fce70f" d="M6087 2318l3 6 4 7 12-7 4 7 0 9-5 6-12 13-8 8 6 7-13 1-14 5-5 12-10 17-13 9-9 3-15 0-10-5-19-2-3-6 9-12 21-17 11-4 13-5 14-9 10-9 8-12 6-6 3-9zM6090 2216l9 8 13 5 5 15 12 17 1-11 8 5 2 13 14 5 11 1 10-6 8 2-3 15-6 10-13-1-5 5 3 8-18 24-14 7-2-5-7-2 9-13-5-11-18-7 0-6 13-5 3-14-1-10-7-12 0-3-8-7-13-16-8-11zM5998 2425l10 1-5 7z"/>
<path fill="#faed19" d="M5546 1673l29 12 32 10 12 9 9 8 3 10 27 11 5 8-16 2 4 12 16 11 10 18 10-1 0 7 13 4-6 3 19 7-2 5-11 1-4-4-33-5-13-11-9-10-9-14-23-8-14 5-10 5 2 14-14 5-9-2-17-1zM5743 1691l7 6 2 9-5 5-4-11-3 2-5-14-24-12 4-4 21 11zM5721 1728l-9 4-9 4-9 0-14-4-10-5 2-6 15 3 9-2 3-7 2-1 1 8 11 0 5-6 9-6-3-10 11 0 3 2 0 10-5 10-9 2zM5780 1720l5 4 8 10 8 6-2 5-5 2-7-7-8-11-3-13zM5639 1663l14 0-5 3z"/>
<path fill="#faed19" d="M5905 1807l5 6-12 0-7-11 11 5zM5883 1797l-6 0-11-2-3-2 1-7 11 3 6 3zM5898 1792l-3 3-13-14-3-11 6 0 6 14zM5867 1771l1 3-14-7-9-6-6-6 2-2 8 5 14 7zM5827 1754l-3 1-8-4-7-7 1-3 10 7z"/>
<path fill="#faed19" d="M6002 1909l-5 2-6-7 1-5zM5990 1883l3 14-5-3-4 1-2-4 0-13zM6010 1928l5 4-5 1zM6027 1947l3 7-5-4z"/>
<path fill="#adb3b9" d="M5967 1987l14 11 9 8-6 4-10-5-12-7-11-9-11-13-2-5 7 0 9 6 8 6zM5991 1981l5 5-3 3zM6005 1993l3 3-5 0z"/>
<path fill="#fee005" d="M6181 1924l6 5-3 9-10 2-10-2-1-8 6-6 8 2zM6189 1916l13-8 7-5-2 8-13 7zM6207 1916l2 2-2 2z"/>
<path fill="#fee005" d="M211 1858l11 0-6 6zM227 1864l8 3-7 2z"/>
<path fill="#fee005" d="M169 1988l3 0-1 3zM189 1945l4 2-2 2z"/>
<path fill="#fee005" d="M5837 1511l3 1-2 1zM5730 1503l1 2-1 0zM5497 1468l1-2-1 0z"/>
<path fill="#fee005" d="M6088 1605l4 0-2 2zM471 1597l6-2-4 5z"/>
<path fill="#fee005" d="M6059 1508l4 0-2 2zM6017 1505l2 0-2 2z"/>
<path fill="#adb3b9" d="M5436 1503l3-3-2 5z"/>
<path fill="#adb3b9" d="M5609 1401l3-3-1 5zM5626 1372l2-1-2 0z"/>
<path fill="#adb3b9" d="M606 1926l7 2-4 4zM766 1779l3 1-3 2z"/>
<path fill="#adb3b9" d="M3491 905l7 7 8 1 10-3 2-7-7-8-10-1z"/>
<path fill="#adb3b9" d="M2948 1177l51-2 0 14-51 0zM2943 1206l-13 0-33 59 28 0-2-24 13-13z"/>
</g>
<rect x="11" y="703.4" width="15.6" height="73.2" fill="url(#lg)" stroke="#414042" stroke-width=".8"/>
<path d="M26.6,703.4H30M26.6,739.6H30M26.6,776.6H30" style="stroke:#414042;stroke-width:.8;fill:none"/>
<rect x="11.2" y="788.6" width="10" height="6.2" fill="#adb3b9" stroke="#414042" stroke-width=".6"/>
</svg>
<div class="t" style="top:6.8px">Dietary patterns based on more healthy items</div>
<div class="t" style="top:277.5px">Dietary patterns based on fewer unhealthy items</div>
<div class="t" style="top:546.4px">Overall dietary patterns</div>
<div class="l" style="left:33px;top:698px">100 (best)</div>
<div class="l" style="left:33px;top:734.5px">50</div>
<div class="l" style="left:33px;top:771.5px">0 (worst)</div>
<div class="l" style="left:25px;top:786.5px">Missing information</div>
</body></html>
